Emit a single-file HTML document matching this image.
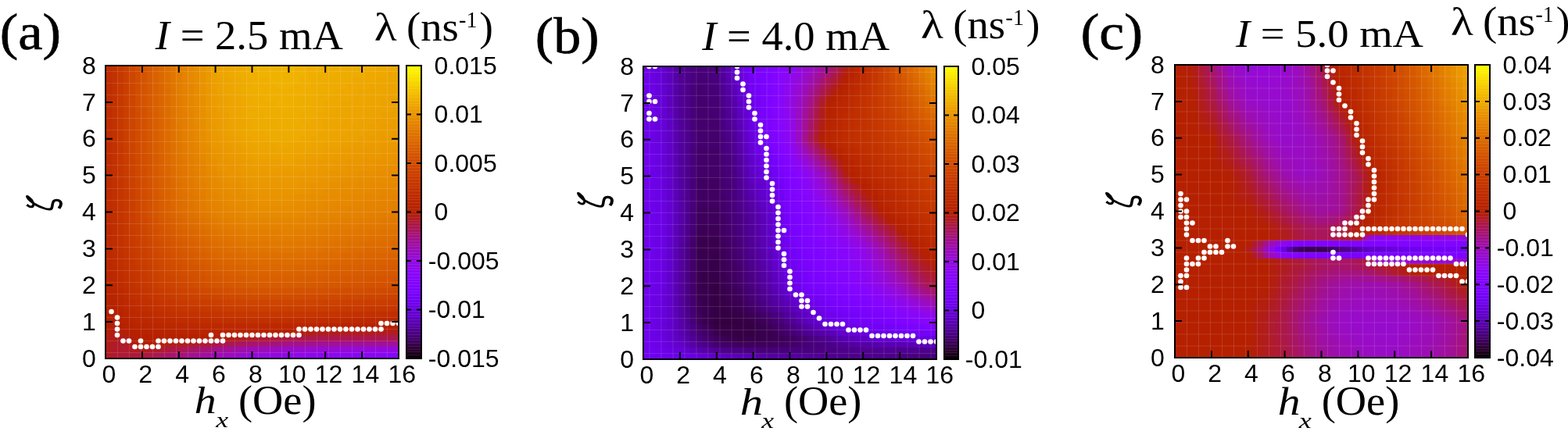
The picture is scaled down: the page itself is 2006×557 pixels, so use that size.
<!DOCTYPE html><html><head><meta charset="utf-8"><style>html,body{margin:0;padding:0;background:#fff;width:2006px;height:557px;overflow:hidden;position:relative}
.hm{position:absolute;display:grid;grid-template-columns:repeat(50,1fr);grid-template-rows:repeat(50,1fr)}
.hm i{display:block}
.cb{position:absolute}
svg{position:absolute;left:0;top:0}
.q10{background:#32003e}
.q11{background:#350044}
.q12{background:#37004a}
.q13{background:#3a0050}
.q14{background:#3c0056}
.q15{background:#3e005c}
.q16{background:#400062}
.q17{background:#420068}
.q18{background:#44006d}
.q19{background:#460073}
.q20{background:#470079}
.q21{background:#49007e}
.q22{background:#4b0084}
.q23{background:#4d0089}
.q24{background:#4e008e}
.q25{background:#500093}
.q26{background:#510098}
.q27{background:#53009d}
.q28{background:#5400a2}
.q29{background:#5600a7}
.q30{background:#5700ac}
.q31{background:#5900b0}
.q32{background:#5a01b5}
.q33{background:#5c01b9}
.q34{background:#5d01be}
.q35{background:#5e01c2}
.q36{background:#6001c6}
.q37{background:#6101ca}
.q38{background:#6201cd}
.q39{background:#6401d1}
.q40{background:#6501d5}
.q41{background:#6601d8}
.q42{background:#6701db}
.q43{background:#6901de}
.q44{background:#6a01e1}
.q45{background:#6b01e4}
.q46{background:#6c01e7}
.q47{background:#6d02ea}
.q48{background:#6f02ec}
.q49{background:#7002ee}
.q50{background:#7102f1}
.q51{background:#7202f3}
.q52{background:#7302f4}
.q53{background:#7402f6}
.q54{background:#7502f8}
.q55{background:#7603f9}
.q56{background:#7703fa}
.q57{background:#7903fb}
.q58{background:#7a03fc}
.q59{background:#7b03fd}
.q60{background:#7c03fe}
.q61{background:#7d03fe}
.q62{background:#7e04ff}
.q63{background:#7f04ff}
.q64{background:#8004ff}
.q65{background:#8104ff}
.q66{background:#8204ff}
.q67{background:#8305fe}
.q68{background:#8405fe}
.q69{background:#8505fd}
.q70{background:#8605fc}
.q71{background:#8706fb}
.q72{background:#8706fa}
.q73{background:#8806f8}
.q74{background:#8906f7}
.q75{background:#8a06f5}
.q76{background:#8b07f3}
.q77{background:#8c07f2}
.q78{background:#8d07ef}
.q79{background:#8e08ed}
.q80{background:#8f08eb}
.q81{background:#9008e8}
.q82{background:#9108e6}
.q83{background:#9109e3}
.q84{background:#9209e0}
.q85{background:#9309dd}
.q86{background:#940ada}
.q87{background:#950ad6}
.q88{background:#960ad3}
.q89{background:#970bcf}
.q90{background:#970bcb}
.q91{background:#980cc8}
.q92{background:#990cc4}
.q93{background:#9a0cc0}
.q94{background:#9b0dbb}
.q95{background:#9c0db7}
.q96{background:#9c0eb3}
.q97{background:#9d0eae}
.q98{background:#9e0ea9}
.q99{background:#9f0fa5}
.q100{background:#a00fa0}
.q101{background:#a0109b}
.q102{background:#a11096}
.q103{background:#a21191}
.q104{background:#a3118c}
.q105{background:#a41286}
.q106{background:#a41281}
.q107{background:#a5137b}
.q108{background:#a61376}
.q109{background:#a71470}
.q110{background:#a7146b}
.q111{background:#a81565}
.q112{background:#a9165f}
.q113{background:#aa1659}
.q114{background:#aa1753}
.q115{background:#ab174d}
.q116{background:#ac1847}
.q117{background:#ad1941}
.q118{background:#ad193b}
.q119{background:#ae1a35}
.q120{background:#af1b2f}
.q121{background:#b01b29}
.q122{background:#b01c22}
.q123{background:#b11d1c}
.q124{background:#b21d16}
.q125{background:#b31e10}
.q126{background:#b31f09}
.q127{background:#b42003}
.q128{background:#b52000}
.q129{background:#b52100}
.q130{background:#b62200}
.q131{background:#b72300}
.q132{background:#b72300}
.q133{background:#b82400}
.q134{background:#b92500}
.q135{background:#ba2600}
.q136{background:#ba2700}
.q137{background:#bb2800}
.q138{background:#bc2800}
.q139{background:#bc2900}
.q140{background:#bd2a00}
.q141{background:#be2b00}
.q142{background:#be2c00}
.q143{background:#bf2d00}
.q144{background:#c02e00}
.q145{background:#c02f00}
.q146{background:#c13000}
.q147{background:#c23100}
.q148{background:#c23200}
.q149{background:#c33300}
.q150{background:#c43400}
.q151{background:#c43500}
.q152{background:#c53600}
.q153{background:#c63700}
.q154{background:#c63800}
.q155{background:#c73900}
.q156{background:#c73a00}
.q157{background:#c83c00}
.q158{background:#c93d00}
.q159{background:#c93e00}
.q160{background:#ca3f00}
.q161{background:#cb4000}
.q162{background:#cb4100}
.q163{background:#cc4300}
.q164{background:#cc4400}
.q165{background:#cd4500}
.q166{background:#ce4600}
.q167{background:#ce4800}
.q168{background:#cf4900}
.q169{background:#d04a00}
.q170{background:#d04c00}
.q171{background:#d14d00}
.q172{background:#d14e00}
.q173{background:#d25000}
.q174{background:#d35100}
.q175{background:#d35200}
.q176{background:#d45400}
.q177{background:#d45500}
.q178{background:#d55700}
.q179{background:#d65800}
.q180{background:#d65a00}
.q181{background:#d75b00}
.q182{background:#d75d00}
.q183{background:#d85e00}
.q184{background:#d96000}
.q185{background:#d96100}
.q186{background:#da6300}
.q187{background:#da6500}
.q188{background:#db6600}
.q189{background:#dc6800}
.q190{background:#dc6900}
.q191{background:#dd6b00}
.q192{background:#dd6d00}
.q193{background:#de6f00}
.q194{background:#de7000}
.q195{background:#df7200}
.q196{background:#e07400}
.q197{background:#e07600}
.q198{background:#e17700}
.q199{background:#e17900}
.q200{background:#e27b00}
.q201{background:#e27d00}
.q202{background:#e37f00}
.q203{background:#e48100}
.q204{background:#e48300}
.q205{background:#e58400}
.q206{background:#e58600}
.q207{background:#e68800}
.q208{background:#e68a00}
.q209{background:#e78c00}
.q210{background:#e78e00}
.q211{background:#e89000}
.q212{background:#e99300}
.q213{background:#e99500}
.q214{background:#ea9700}
.q215{background:#ea9900}
.q216{background:#eb9b00}
.q217{background:#eb9d00}
.q218{background:#ec9f00}
.q219{background:#eca200}
.q220{background:#eda400}
.q221{background:#eda600}
.q222{background:#eea800}
.q223{background:#eeab00}
.q224{background:#efad00}
.q225{background:#f0af00}
.q226{background:#f0b200}
.q227{background:#f1b400}</style></head><body><div class=hm style="left:135.00px;top:84.00px;width:375.00px;height:375.00px"><i class=q143></i><i class=q148></i><i class=q154></i><i class=q160></i><i class=q166></i><i class=q172></i><i class=q177></i><i class=q181></i><i class=q185></i><i class=q189></i><i class=q193></i><i class=q197></i><i class=q201></i><i class=q204></i><i class=q207></i><i class=q210></i><i class=q213></i><i class=q216></i><i class=q218></i><i class=q220></i><i class=q221></i><i class=q222></i><i class=q223></i><i class=q224></i><i class=q225></i><i class=q226></i><i class=q226></i><i class=q226></i><i class=q226></i><i class=q226></i><i class=q227></i><i class=q227></i><i class=q226></i><i class=q226></i><i class=q225></i><i class=q225></i><i class=q225></i><i class=q224></i><i class=q224></i><i class=q224></i><i class=q224></i><i class=q223></i><i class=q223></i><i class=q223></i><i class=q223></i><i class=q223></i><i class=q222></i><i class=q222></i><i class=q222></i><i class=q222></i><i class=q143></i><i class=q148></i><i class=q154></i><i class=q160></i><i class=q166></i><i class=q171></i><i class=q177></i><i class=q181></i><i class=q185></i><i class=q189></i><i class=q193></i><i class=q197></i><i class=q201></i><i class=q204></i><i class=q207></i><i class=q210></i><i class=q212></i><i class=q215></i><i class=q218></i><i class=q220></i><i class=q221></i><i class=q222></i><i class=q223></i><i class=q224></i><i class=q225></i><i class=q225></i><i class=q226></i><i class=q226></i><i class=q226></i><i class=q226></i><i class=q226></i><i class=q226></i><i class=q226></i><i class=q226></i><i class=q225></i><i class=q225></i><i class=q224></i><i class=q224></i><i class=q224></i><i class=q223></i><i class=q223></i><i class=q223></i><i class=q223></i><i class=q223></i><i class=q222></i><i class=q222></i><i class=q222></i><i class=q222></i><i class=q221></i><i class=q221></i><i class=q143></i><i class=q148></i><i class=q154></i><i class=q160></i><i class=q166></i><i class=q171></i><i class=q176></i><i class=q181></i><i class=q185></i><i class=q189></i><i class=q193></i><i class=q197></i><i class=q201></i><i class=q204></i><i class=q207></i><i class=q209></i><i class=q212></i><i class=q215></i><i class=q218></i><i class=q219></i><i class=q220></i><i class=q221></i><i class=q222></i><i class=q223></i><i class=q224></i><i class=q225></i><i class=q225></i><i class=q225></i><i class=q226></i><i class=q226></i><i class=q226></i><i class=q226></i><i class=q226></i><i class=q225></i><i class=q225></i><i class=q224></i><i class=q224></i><i class=q224></i><i class=q223></i><i class=q223></i><i class=q223></i><i class=q223></i><i class=q222></i><i class=q222></i><i class=q222></i><i class=q222></i><i class=q221></i><i class=q221></i><i class=q221></i><i class=q221></i><i class=q143></i><i class=q148></i><i class=q154></i><i class=q160></i><i class=q166></i><i class=q171></i><i class=q176></i><i class=q180></i><i class=q184></i><i class=q188></i><i class=q193></i><i class=q197></i><i class=q201></i><i class=q204></i><i class=q206></i><i class=q209></i><i class=q212></i><i class=q215></i><i class=q218></i><i class=q219></i><i class=q220></i><i class=q221></i><i class=q222></i><i class=q223></i><i class=q224></i><i class=q225></i><i class=q225></i><i class=q225></i><i class=q225></i><i class=q226></i><i class=q226></i><i class=q226></i><i class=q225></i><i class=q225></i><i class=q225></i><i class=q224></i><i class=q224></i><i class=q223></i><i class=q223></i><i class=q223></i><i class=q223></i><i class=q222></i><i class=q222></i><i class=q222></i><i class=q222></i><i class=q221></i><i class=q221></i><i class=q221></i><i class=q220></i><i class=q220></i><i class=q143></i><i class=q148></i><i class=q154></i><i class=q160></i><i class=q166></i><i class=q171></i><i class=q176></i><i class=q180></i><i class=q184></i><i class=q188></i><i class=q192></i><i class=q196></i><i class=q201></i><i class=q203></i><i class=q206></i><i class=q209></i><i class=q212></i><i class=q214></i><i class=q217></i><i class=q219></i><i class=q220></i><i class=q221></i><i class=q222></i><i class=q223></i><i class=q224></i><i class=q224></i><i class=q225></i><i class=q225></i><i class=q225></i><i class=q225></i><i class=q225></i><i class=q225></i><i class=q225></i><i class=q225></i><i class=q224></i><i class=q224></i><i class=q223></i><i class=q223></i><i class=q223></i><i class=q222></i><i class=q222></i><i class=q222></i><i class=q222></i><i class=q221></i><i class=q221></i><i class=q221></i><i class=q221></i><i class=q220></i><i class=q220></i><i class=q220></i><i class=q143></i><i class=q148></i><i class=q154></i><i class=q160></i><i class=q165></i><i class=q171></i><i class=q176></i><i class=q180></i><i class=q184></i><i class=q188></i><i class=q192></i><i class=q196></i><i class=q200></i><i class=q203></i><i class=q206></i><i class=q209></i><i class=q211></i><i class=q214></i><i class=q217></i><i class=q218></i><i class=q219></i><i class=q220></i><i class=q221></i><i class=q222></i><i class=q223></i><i class=q224></i><i class=q224></i><i class=q225></i><i class=q225></i><i class=q225></i><i class=q225></i><i class=q225></i><i class=q225></i><i class=q224></i><i class=q224></i><i class=q224></i><i class=q223></i><i class=q223></i><i class=q222></i><i class=q222></i><i class=q222></i><i class=q222></i><i class=q221></i><i class=q221></i><i class=q221></i><i class=q220></i><i class=q220></i><i class=q220></i><i class=q219></i><i class=q219></i><i class=q143></i><i class=q148></i><i class=q154></i><i class=q160></i><i class=q165></i><i class=q171></i><i class=q176></i><i class=q180></i><i class=q184></i><i class=q188></i><i class=q192></i><i class=q196></i><i class=q200></i><i class=q203></i><i class=q206></i><i class=q208></i><i class=q211></i><i class=q214></i><i class=q217></i><i class=q218></i><i class=q219></i><i class=q220></i><i class=q221></i><i class=q222></i><i class=q223></i><i class=q224></i><i class=q224></i><i class=q224></i><i class=q224></i><i class=q225></i><i class=q225></i><i class=q225></i><i class=q224></i><i class=q224></i><i class=q224></i><i class=q223></i><i class=q223></i><i class=q222></i><i class=q222></i><i class=q222></i><i class=q221></i><i class=q221></i><i class=q221></i><i class=q221></i><i class=q220></i><i class=q220></i><i class=q220></i><i class=q219></i><i class=q219></i><i class=q219></i><i class=q143></i><i class=q148></i><i class=q154></i><i class=q160></i><i class=q165></i><i class=q171></i><i class=q175></i><i class=q180></i><i class=q184></i><i class=q188></i><i class=q192></i><i class=q196></i><i class=q200></i><i class=q203></i><i class=q205></i><i class=q208></i><i class=q211></i><i class=q214></i><i class=q216></i><i class=q218></i><i class=q219></i><i class=q220></i><i class=q221></i><i class=q222></i><i class=q223></i><i class=q223></i><i class=q224></i><i class=q224></i><i class=q224></i><i class=q224></i><i class=q225></i><i class=q225></i><i class=q224></i><i class=q224></i><i class=q223></i><i class=q223></i><i class=q223></i><i class=q222></i><i class=q222></i><i class=q221></i><i class=q221></i><i class=q221></i><i class=q220></i><i class=q220></i><i class=q220></i><i class=q219></i><i class=q219></i><i class=q219></i><i class=q219></i><i class=q218></i><i class=q143></i><i class=q148></i><i class=q154></i><i class=q160></i><i class=q165></i><i class=q170></i><i class=q175></i><i class=q179></i><i class=q183></i><i class=q187></i><i class=q192></i><i class=q196></i><i class=q200></i><i class=q202></i><i class=q205></i><i class=q208></i><i class=q211></i><i class=q213></i><i class=q216></i><i class=q217></i><i class=q218></i><i class=q220></i><i class=q221></i><i class=q222></i><i class=q223></i><i class=q223></i><i class=q223></i><i class=q224></i><i class=q224></i><i class=q224></i><i class=q224></i><i class=q224></i><i class=q224></i><i class=q223></i><i class=q223></i><i class=q223></i><i class=q222></i><i class=q222></i><i class=q221></i><i class=q221></i><i class=q221></i><i class=q220></i><i class=q220></i><i class=q220></i><i class=q219></i><i class=q219></i><i class=q219></i><i class=q218></i><i class=q218></i><i class=q218></i><i class=q143></i><i class=q148></i><i class=q154></i><i class=q160></i><i class=q165></i><i class=q170></i><i class=q175></i><i class=q179></i><i class=q183></i><i class=q187></i><i class=q191></i><i class=q195></i><i class=q200></i><i class=q202></i><i class=q205></i><i class=q208></i><i class=q210></i><i class=q213></i><i class=q216></i><i class=q217></i><i class=q218></i><i class=q219></i><i class=q220></i><i class=q221></i><i class=q222></i><i class=q223></i><i class=q223></i><i class=q223></i><i class=q223></i><i class=q224></i><i class=q224></i><i class=q224></i><i class=q224></i><i class=q223></i><i class=q223></i><i class=q222></i><i class=q222></i><i class=q221></i><i class=q221></i><i class=q221></i><i class=q220></i><i class=q220></i><i class=q220></i><i class=q219></i><i class=q219></i><i class=q219></i><i class=q218></i><i class=q218></i><i class=q218></i><i class=q217></i><i class=q143></i><i class=q148></i><i class=q154></i><i class=q160></i><i class=q165></i><i class=q170></i><i class=q175></i><i class=q179></i><i class=q183></i><i class=q187></i><i class=q191></i><i class=q195></i><i class=q199></i><i class=q202></i><i class=q205></i><i class=q207></i><i class=q210></i><i class=q213></i><i class=q215></i><i class=q217></i><i class=q218></i><i class=q219></i><i class=q220></i><i class=q221></i><i class=q222></i><i class=q223></i><i class=q223></i><i class=q223></i><i class=q223></i><i class=q223></i><i class=q224></i><i class=q224></i><i class=q223></i><i class=q223></i><i class=q222></i><i class=q222></i><i class=q222></i><i class=q221></i><i class=q221></i><i class=q220></i><i class=q220></i><i class=q220></i><i class=q219></i><i class=q219></i><i class=q219></i><i class=q218></i><i class=q218></i><i class=q217></i><i class=q217></i><i class=q217></i><i class=q143></i><i class=q148></i><i class=q154></i><i class=q160></i><i class=q165></i><i class=q170></i><i class=q175></i><i class=q179></i><i class=q183></i><i class=q187></i><i class=q191></i><i class=q195></i><i class=q199></i><i class=q202></i><i class=q204></i><i class=q207></i><i class=q210></i><i class=q212></i><i class=q215></i><i class=q217></i><i class=q218></i><i class=q219></i><i class=q220></i><i class=q221></i><i class=q222></i><i class=q222></i><i class=q222></i><i class=q223></i><i class=q223></i><i class=q223></i><i class=q223></i><i class=q223></i><i class=q223></i><i class=q223></i><i class=q222></i><i class=q222></i><i class=q221></i><i class=q221></i><i class=q220></i><i class=q220></i><i class=q220></i><i class=q219></i><i class=q219></i><i class=q219></i><i class=q218></i><i class=q218></i><i class=q217></i><i class=q217></i><i class=q217></i><i class=q216></i><i class=q143></i><i class=q148></i><i class=q154></i><i class=q160></i><i class=q165></i><i class=q170></i><i class=q174></i><i class=q178></i><i class=q183></i><i class=q187></i><i class=q191></i><i class=q195></i><i class=q199></i><i class=q202></i><i class=q204></i><i class=q207></i><i class=q210></i><i class=q212></i><i class=q215></i><i class=q216></i><i class=q217></i><i class=q218></i><i class=q219></i><i class=q220></i><i class=q221></i><i class=q222></i><i class=q222></i><i class=q222></i><i class=q223></i><i class=q223></i><i class=q223></i><i class=q223></i><i class=q223></i><i class=q222></i><i class=q222></i><i class=q221></i><i class=q221></i><i class=q221></i><i class=q220></i><i class=q220></i><i class=q219></i><i class=q219></i><i class=q219></i><i class=q218></i><i class=q218></i><i class=q217></i><i class=q217></i><i class=q216></i><i class=q216></i><i class=q216></i><i class=q143></i><i class=q147></i><i class=q154></i><i class=q160></i><i class=q164></i><i class=q169></i><i class=q174></i><i class=q178></i><i class=q182></i><i class=q186></i><i class=q190></i><i class=q194></i><i class=q198></i><i class=q201></i><i class=q203></i><i class=q206></i><i class=q209></i><i class=q211></i><i class=q214></i><i class=q215></i><i class=q216></i><i class=q217></i><i class=q218></i><i class=q219></i><i class=q220></i><i class=q221></i><i class=q221></i><i class=q221></i><i class=q221></i><i class=q222></i><i class=q222></i><i class=q222></i><i class=q221></i><i class=q221></i><i class=q221></i><i class=q220></i><i class=q220></i><i class=q219></i><i class=q219></i><i class=q219></i><i class=q218></i><i class=q218></i><i class=q217></i><i class=q217></i><i class=q217></i><i class=q216></i><i class=q216></i><i class=q215></i><i class=q215></i><i class=q215></i><i class=q143></i><i class=q147></i><i class=q153></i><i class=q159></i><i class=q164></i><i class=q169></i><i class=q174></i><i class=q178></i><i class=q182></i><i class=q186></i><i class=q190></i><i class=q194></i><i class=q198></i><i class=q200></i><i class=q203></i><i class=q205></i><i class=q208></i><i class=q210></i><i class=q213></i><i class=q214></i><i class=q215></i><i class=q216></i><i class=q217></i><i class=q218></i><i class=q219></i><i class=q220></i><i class=q220></i><i class=q220></i><i class=q220></i><i class=q221></i><i class=q221></i><i class=q221></i><i class=q220></i><i class=q220></i><i class=q220></i><i class=q219></i><i class=q219></i><i class=q218></i><i class=q218></i><i class=q218></i><i class=q217></i><i class=q217></i><i class=q216></i><i class=q216></i><i class=q215></i><i class=q215></i><i class=q215></i><i class=q214></i><i class=q214></i><i class=q213></i><i class=q143></i><i class=q147></i><i class=q153></i><i class=q159></i><i class=q164></i><i class=q169></i><i class=q173></i><i class=q177></i><i class=q181></i><i class=q185></i><i class=q189></i><i class=q193></i><i class=q197></i><i class=q200></i><i class=q202></i><i class=q205></i><i class=q207></i><i class=q210></i><i class=q212></i><i class=q213></i><i class=q214></i><i class=q215></i><i class=q216></i><i class=q217></i><i class=q218></i><i class=q219></i><i class=q219></i><i class=q219></i><i class=q219></i><i class=q219></i><i class=q220></i><i class=q220></i><i class=q219></i><i class=q219></i><i class=q218></i><i class=q218></i><i class=q218></i><i class=q217></i><i class=q217></i><i class=q216></i><i class=q216></i><i class=q216></i><i class=q215></i><i class=q215></i><i class=q214></i><i class=q214></i><i class=q214></i><i class=q213></i><i class=q213></i><i class=q212></i><i class=q142></i><i class=q147></i><i class=q153></i><i class=q158></i><i class=q163></i><i class=q168></i><i class=q173></i><i class=q177></i><i class=q181></i><i class=q185></i><i class=q189></i><i class=q193></i><i class=q196></i><i class=q199></i><i class=q201></i><i class=q204></i><i class=q206></i><i class=q209></i><i class=q211></i><i class=q213></i><i class=q213></i><i class=q214></i><i class=q215></i><i class=q216></i><i class=q217></i><i class=q218></i><i class=q218></i><i class=q218></i><i class=q218></i><i class=q218></i><i class=q219></i><i class=q219></i><i class=q218></i><i class=q218></i><i class=q217></i><i class=q217></i><i class=q216></i><i class=q216></i><i class=q216></i><i class=q215></i><i class=q215></i><i class=q214></i><i class=q214></i><i class=q214></i><i class=q213></i><i class=q213></i><i class=q212></i><i class=q212></i><i class=q212></i><i class=q211></i><i class=q142></i><i class=q147></i><i class=q152></i><i class=q158></i><i class=q163></i><i class=q168></i><i class=q172></i><i class=q176></i><i class=q181></i><i class=q185></i><i class=q188></i><i class=q192></i><i class=q196></i><i class=q198></i><i class=q201></i><i class=q203></i><i class=q205></i><i class=q208></i><i class=q210></i><i class=q212></i><i class=q213></i><i class=q213></i><i class=q214></i><i class=q215></i><i class=q216></i><i class=q217></i><i class=q217></i><i class=q217></i><i class=q217></i><i class=q217></i><i class=q217></i><i class=q217></i><i class=q217></i><i class=q217></i><i class=q216></i><i class=q216></i><i class=q215></i><i class=q215></i><i class=q215></i><i class=q214></i><i class=q214></i><i class=q213></i><i class=q213></i><i class=q213></i><i class=q212></i><i class=q212></i><i class=q211></i><i class=q211></i><i class=q210></i><i class=q210></i><i class=q142></i><i class=q146></i><i class=q152></i><i class=q157></i><i class=q162></i><i class=q167></i><i class=q172></i><i class=q176></i><i class=q180></i><i class=q184></i><i class=q188></i><i class=q192></i><i class=q195></i><i class=q198></i><i class=q200></i><i class=q202></i><i class=q205></i><i class=q207></i><i class=q209></i><i class=q211></i><i class=q212></i><i class=q213></i><i class=q213></i><i class=q214></i><i class=q215></i><i class=q216></i><i class=q216></i><i class=q216></i><i class=q216></i><i class=q216></i><i class=q216></i><i class=q216></i><i class=q216></i><i class=q215></i><i class=q215></i><i class=q215></i><i class=q214></i><i class=q214></i><i class=q213></i><i class=q213></i><i class=q213></i><i class=q212></i><i class=q212></i><i class=q211></i><i class=q211></i><i class=q211></i><i class=q210></i><i class=q210></i><i class=q209></i><i class=q209></i><i class=q142></i><i class=q146></i><i class=q152></i><i class=q157></i><i class=q162></i><i class=q167></i><i class=q172></i><i class=q176></i><i class=q180></i><i class=q184></i><i class=q187></i><i class=q191></i><i class=q195></i><i class=q197></i><i class=q199></i><i class=q202></i><i class=q204></i><i class=q206></i><i class=q208></i><i class=q210></i><i class=q211></i><i class=q212></i><i class=q212></i><i class=q213></i><i class=q214></i><i class=q215></i><i class=q215></i><i class=q215></i><i class=q215></i><i class=q215></i><i class=q215></i><i class=q215></i><i class=q215></i><i class=q214></i><i class=q214></i><i class=q214></i><i class=q213></i><i class=q213></i><i class=q212></i><i class=q212></i><i class=q211></i><i class=q211></i><i class=q211></i><i class=q210></i><i class=q210></i><i class=q209></i><i class=q209></i><i class=q209></i><i class=q208></i><i class=q208></i><i class=q142></i><i class=q146></i><i class=q151></i><i class=q157></i><i class=q162></i><i class=q166></i><i class=q171></i><i class=q175></i><i class=q179></i><i class=q183></i><i class=q187></i><i class=q190></i><i class=q194></i><i class=q196></i><i class=q199></i><i class=q201></i><i class=q203></i><i class=q205></i><i class=q208></i><i class=q209></i><i class=q210></i><i class=q211></i><i class=q211></i><i class=q212></i><i class=q213></i><i class=q214></i><i class=q214></i><i class=q214></i><i class=q214></i><i class=q214></i><i class=q214></i><i class=q214></i><i class=q214></i><i class=q213></i><i class=q213></i><i class=q212></i><i class=q212></i><i class=q212></i><i class=q211></i><i class=q211></i><i class=q210></i><i class=q210></i><i class=q210></i><i class=q209></i><i class=q209></i><i class=q208></i><i class=q208></i><i class=q208></i><i class=q207></i><i class=q207></i><i class=q142></i><i class=q146></i><i class=q151></i><i class=q156></i><i class=q161></i><i class=q166></i><i class=q171></i><i class=q175></i><i class=q179></i><i class=q183></i><i class=q186></i><i class=q190></i><i class=q193></i><i class=q196></i><i class=q198></i><i class=q200></i><i class=q202></i><i class=q204></i><i class=q207></i><i class=q208></i><i class=q209></i><i class=q210></i><i class=q210></i><i class=q211></i><i class=q212></i><i class=q213></i><i class=q213></i><i class=q213></i><i class=q213></i><i class=q213></i><i class=q213></i><i class=q213></i><i class=q213></i><i class=q212></i><i class=q212></i><i class=q211></i><i class=q211></i><i class=q210></i><i class=q210></i><i class=q210></i><i class=q209></i><i class=q209></i><i class=q208></i><i class=q208></i><i class=q208></i><i class=q207></i><i class=q207></i><i class=q206></i><i class=q206></i><i class=q206></i><i class=q142></i><i class=q146></i><i class=q151></i><i class=q156></i><i class=q161></i><i class=q166></i><i class=q170></i><i class=q174></i><i class=q178></i><i class=q182></i><i class=q186></i><i class=q189></i><i class=q193></i><i class=q195></i><i class=q197></i><i class=q199></i><i class=q201></i><i class=q204></i><i class=q206></i><i class=q207></i><i class=q208></i><i class=q209></i><i class=q210></i><i class=q210></i><i class=q211></i><i class=q212></i><i class=q212></i><i class=q212></i><i class=q212></i><i class=q212></i><i class=q212></i><i class=q212></i><i class=q211></i><i class=q211></i><i class=q211></i><i class=q210></i><i class=q210></i><i class=q209></i><i class=q209></i><i class=q209></i><i class=q208></i><i class=q208></i><i class=q207></i><i class=q207></i><i class=q206></i><i class=q206></i><i class=q206></i><i class=q205></i><i class=q205></i><i class=q204></i><i class=q142></i><i class=q145></i><i class=q150></i><i class=q155></i><i class=q160></i><i class=q165></i><i class=q170></i><i class=q174></i><i class=q178></i><i class=q182></i><i class=q185></i><i class=q189></i><i class=q192></i><i class=q194></i><i class=q196></i><i class=q199></i><i class=q201></i><i class=q203></i><i class=q205></i><i class=q206></i><i class=q207></i><i class=q208></i><i class=q209></i><i class=q209></i><i class=q210></i><i class=q211></i><i class=q211></i><i class=q211></i><i class=q211></i><i class=q211></i><i class=q211></i><i class=q211></i><i class=q210></i><i class=q210></i><i class=q209></i><i class=q209></i><i class=q209></i><i class=q208></i><i class=q208></i><i class=q207></i><i class=q207></i><i class=q207></i><i class=q206></i><i class=q206></i><i class=q205></i><i class=q205></i><i class=q205></i><i class=q204></i><i class=q204></i><i class=q203></i><i class=q142></i><i class=q145></i><i class=q150></i><i class=q155></i><i class=q160></i><i class=q165></i><i class=q170></i><i class=q174></i><i class=q178></i><i class=q182></i><i class=q185></i><i class=q188></i><i class=q192></i><i class=q194></i><i class=q196></i><i class=q198></i><i class=q200></i><i class=q202></i><i class=q204></i><i class=q205></i><i class=q206></i><i class=q207></i><i class=q208></i><i class=q208></i><i class=q209></i><i class=q210></i><i class=q210></i><i class=q210></i><i class=q210></i><i class=q210></i><i class=q210></i><i class=q210></i><i class=q209></i><i class=q209></i><i class=q208></i><i class=q208></i><i class=q208></i><i class=q207></i><i class=q207></i><i class=q206></i><i class=q206></i><i class=q205></i><i class=q205></i><i class=q205></i><i class=q204></i><i class=q204></i><i class=q203></i><i class=q203></i><i class=q203></i><i class=q202></i><i class=q142></i><i class=q145></i><i class=q150></i><i class=q155></i><i class=q159></i><i class=q164></i><i class=q169></i><i class=q173></i><i class=q177></i><i class=q181></i><i class=q184></i><i class=q187></i><i class=q190></i><i class=q192></i><i class=q194></i><i class=q196></i><i class=q198></i><i class=q200></i><i class=q202></i><i class=q204></i><i class=q204></i><i class=q205></i><i class=q206></i><i class=q207></i><i class=q208></i><i class=q208></i><i class=q208></i><i class=q208></i><i class=q208></i><i class=q208></i><i class=q208></i><i class=q208></i><i class=q208></i><i class=q207></i><i class=q207></i><i class=q206></i><i class=q206></i><i class=q206></i><i class=q205></i><i class=q205></i><i class=q204></i><i class=q204></i><i class=q204></i><i class=q203></i><i class=q203></i><i class=q202></i><i class=q202></i><i class=q201></i><i class=q201></i><i class=q201></i><i class=q141></i><i class=q145></i><i class=q149></i><i class=q154></i><i class=q159></i><i class=q163></i><i class=q167></i><i class=q171></i><i class=q175></i><i class=q179></i><i class=q182></i><i class=q185></i><i class=q188></i><i class=q190></i><i class=q192></i><i class=q194></i><i class=q196></i><i class=q198></i><i class=q200></i><i class=q202></i><i class=q202></i><i class=q203></i><i class=q204></i><i class=q205></i><i class=q206></i><i class=q206></i><i class=q206></i><i class=q206></i><i class=q206></i><i class=q206></i><i class=q206></i><i class=q206></i><i class=q206></i><i class=q205></i><i class=q205></i><i class=q205></i><i class=q204></i><i class=q204></i><i class=q203></i><i class=q203></i><i class=q202></i><i class=q202></i><i class=q202></i><i class=q201></i><i class=q201></i><i class=q200></i><i class=q200></i><i class=q199></i><i class=q199></i><i class=q199></i><i class=q141></i><i class=q144></i><i class=q149></i><i class=q154></i><i class=q158></i><i class=q162></i><i class=q166></i><i class=q170></i><i class=q174></i><i class=q177></i><i class=q180></i><i class=q183></i><i class=q186></i><i class=q188></i><i class=q190></i><i class=q192></i><i class=q194></i><i class=q196></i><i class=q198></i><i class=q200></i><i class=q200></i><i class=q201></i><i class=q202></i><i class=q203></i><i class=q204></i><i class=q204></i><i class=q204></i><i class=q204></i><i class=q204></i><i class=q204></i><i class=q204></i><i class=q204></i><i class=q204></i><i class=q204></i><i class=q203></i><i class=q203></i><i class=q202></i><i class=q202></i><i class=q201></i><i class=q201></i><i class=q200></i><i class=q200></i><i class=q200></i><i class=q199></i><i class=q199></i><i class=q198></i><i class=q198></i><i class=q197></i><i class=q197></i><i class=q197></i><i class=q140></i><i class=q144></i><i class=q149></i><i class=q153></i><i class=q157></i><i class=q161></i><i class=q165></i><i class=q169></i><i class=q172></i><i class=q176></i><i class=q178></i><i class=q181></i><i class=q184></i><i class=q186></i><i class=q188></i><i class=q190></i><i class=q192></i><i class=q194></i><i class=q196></i><i class=q197></i><i class=q198></i><i class=q199></i><i class=q200></i><i class=q201></i><i class=q202></i><i class=q202></i><i class=q202></i><i class=q202></i><i class=q202></i><i class=q202></i><i class=q203></i><i class=q203></i><i class=q202></i><i class=q202></i><i class=q201></i><i class=q201></i><i class=q201></i><i class=q200></i><i class=q200></i><i class=q199></i><i class=q199></i><i class=q198></i><i class=q198></i><i class=q197></i><i class=q197></i><i class=q196></i><i class=q196></i><i class=q195></i><i class=q195></i><i class=q195></i><i class=q140></i><i class=q143></i><i class=q148></i><i class=q153></i><i class=q156></i><i class=q160></i><i class=q164></i><i class=q167></i><i class=q171></i><i class=q174></i><i class=q177></i><i class=q179></i><i class=q182></i><i class=q184></i><i class=q186></i><i class=q188></i><i class=q190></i><i class=q192></i><i class=q194></i><i class=q195></i><i class=q196></i><i class=q197></i><i class=q198></i><i class=q199></i><i class=q200></i><i class=q200></i><i class=q200></i><i class=q200></i><i class=q200></i><i class=q201></i><i class=q201></i><i class=q201></i><i class=q200></i><i class=q200></i><i class=q200></i><i class=q199></i><i class=q199></i><i class=q198></i><i class=q198></i><i class=q197></i><i class=q197></i><i class=q196></i><i class=q196></i><i class=q195></i><i class=q195></i><i class=q194></i><i class=q194></i><i class=q193></i><i class=q193></i><i class=q192></i><i class=q140></i><i class=q143></i><i class=q148></i><i class=q152></i><i class=q156></i><i class=q159></i><i class=q162></i><i class=q166></i><i class=q169></i><i class=q172></i><i class=q175></i><i class=q177></i><i class=q180></i><i class=q182></i><i class=q184></i><i class=q186></i><i class=q188></i><i class=q190></i><i class=q192></i><i class=q193></i><i class=q194></i><i class=q195></i><i class=q196></i><i class=q197></i><i class=q197></i><i class=q198></i><i class=q198></i><i class=q198></i><i class=q199></i><i class=q199></i><i class=q199></i><i class=q199></i><i class=q198></i><i class=q198></i><i class=q198></i><i class=q197></i><i class=q197></i><i class=q196></i><i class=q196></i><i class=q195></i><i class=q195></i><i class=q194></i><i class=q194></i><i class=q193></i><i class=q192></i><i class=q192></i><i class=q192></i><i class=q191></i><i class=q191></i><i class=q190></i><i class=q139></i><i class=q142></i><i class=q147></i><i class=q151></i><i class=q155></i><i class=q158></i><i class=q161></i><i class=q164></i><i class=q168></i><i class=q171></i><i class=q173></i><i class=q176></i><i class=q178></i><i class=q180></i><i class=q182></i><i class=q184></i><i class=q186></i><i class=q188></i><i class=q190></i><i class=q191></i><i class=q192></i><i class=q193></i><i class=q194></i><i class=q195></i><i class=q195></i><i class=q196></i><i class=q196></i><i class=q196></i><i class=q196></i><i class=q197></i><i class=q197></i><i class=q197></i><i class=q196></i><i class=q196></i><i class=q196></i><i class=q195></i><i class=q195></i><i class=q194></i><i class=q194></i><i class=q193></i><i class=q193></i><i class=q192></i><i class=q191></i><i class=q191></i><i class=q190></i><i class=q190></i><i class=q189></i><i class=q189></i><i class=q189></i><i class=q188></i><i class=q139></i><i class=q142></i><i class=q146></i><i class=q150></i><i class=q154></i><i class=q157></i><i class=q160></i><i class=q163></i><i class=q166></i><i class=q169></i><i class=q171></i><i class=q174></i><i class=q176></i><i class=q178></i><i class=q180></i><i class=q182></i><i class=q184></i><i class=q186></i><i class=q188></i><i class=q189></i><i class=q190></i><i class=q190></i><i class=q191></i><i class=q192></i><i class=q193></i><i class=q193></i><i class=q194></i><i class=q194></i><i class=q194></i><i class=q194></i><i class=q194></i><i class=q194></i><i class=q194></i><i class=q193></i><i class=q193></i><i class=q193></i><i class=q192></i><i class=q192></i><i class=q191></i><i class=q191></i><i class=q190></i><i class=q189></i><i class=q189></i><i class=q188></i><i class=q188></i><i class=q187></i><i class=q187></i><i class=q187></i><i class=q186></i><i class=q186></i><i class=q138></i><i class=q141></i><i class=q145></i><i class=q149></i><i class=q152></i><i class=q156></i><i class=q159></i><i class=q162></i><i class=q165></i><i class=q167></i><i class=q170></i><i class=q172></i><i class=q174></i><i class=q176></i><i class=q178></i><i class=q180></i><i class=q181></i><i class=q183></i><i class=q185></i><i class=q186></i><i class=q187></i><i class=q188></i><i class=q189></i><i class=q190></i><i class=q190></i><i class=q191></i><i class=q191></i><i class=q191></i><i class=q191></i><i class=q191></i><i class=q192></i><i class=q192></i><i class=q191></i><i class=q191></i><i class=q190></i><i class=q190></i><i class=q190></i><i class=q189></i><i class=q189></i><i class=q188></i><i class=q187></i><i class=q187></i><i class=q186></i><i class=q186></i><i class=q185></i><i class=q185></i><i class=q184></i><i class=q184></i><i class=q183></i><i class=q183></i><i class=q138></i><i class=q140></i><i class=q144></i><i class=q148></i><i class=q151></i><i class=q154></i><i class=q157></i><i class=q160></i><i class=q163></i><i class=q166></i><i class=q168></i><i class=q170></i><i class=q172></i><i class=q174></i><i class=q176></i><i class=q177></i><i class=q179></i><i class=q181></i><i class=q183></i><i class=q184></i><i class=q185></i><i class=q186></i><i class=q186></i><i class=q187></i><i class=q188></i><i class=q188></i><i class=q189></i><i class=q189></i><i class=q189></i><i class=q189></i><i class=q189></i><i class=q189></i><i class=q188></i><i class=q188></i><i class=q188></i><i class=q187></i><i class=q187></i><i class=q186></i><i class=q186></i><i class=q185></i><i class=q185></i><i class=q184></i><i class=q184></i><i class=q183></i><i class=q183></i><i class=q182></i><i class=q182></i><i class=q181></i><i class=q181></i><i class=q180></i><i class=q137></i><i class=q139></i><i class=q143></i><i class=q147></i><i class=q150></i><i class=q153></i><i class=q156></i><i class=q159></i><i class=q162></i><i class=q164></i><i class=q166></i><i class=q168></i><i class=q170></i><i class=q172></i><i class=q173></i><i class=q175></i><i class=q177></i><i class=q179></i><i class=q180></i><i class=q181></i><i class=q182></i><i class=q183></i><i class=q184></i><i class=q185></i><i class=q186></i><i class=q186></i><i class=q186></i><i class=q186></i><i class=q186></i><i class=q186></i><i class=q186></i><i class=q186></i><i class=q186></i><i class=q185></i><i class=q185></i><i class=q185></i><i class=q184></i><i class=q184></i><i class=q183></i><i class=q183></i><i class=q182></i><i class=q182></i><i class=q181></i><i class=q181></i><i class=q180></i><i class=q180></i><i class=q179></i><i class=q179></i><i class=q178></i><i class=q178></i><i class=q137></i><i class=q138></i><i class=q142></i><i class=q146></i><i class=q149></i><i class=q152></i><i class=q155></i><i class=q157></i><i class=q160></i><i class=q163></i><i class=q164></i><i class=q166></i><i class=q168></i><i class=q169></i><i class=q171></i><i class=q173></i><i class=q175></i><i class=q176></i><i class=q178></i><i class=q179></i><i class=q180></i><i class=q181></i><i class=q181></i><i class=q182></i><i class=q183></i><i class=q184></i><i class=q184></i><i class=q184></i><i class=q184></i><i class=q184></i><i class=q184></i><i class=q184></i><i class=q183></i><i class=q183></i><i class=q182></i><i class=q182></i><i class=q182></i><i class=q181></i><i class=q181></i><i class=q180></i><i class=q180></i><i class=q179></i><i class=q179></i><i class=q179></i><i class=q178></i><i class=q177></i><i class=q177></i><i class=q176></i><i class=q176></i><i class=q175></i><i class=q136></i><i class=q138></i><i class=q142></i><i class=q145></i><i class=q148></i><i class=q151></i><i class=q154></i><i class=q156></i><i class=q159></i><i class=q161></i><i class=q162></i><i class=q164></i><i class=q166></i><i class=q167></i><i class=q169></i><i class=q171></i><i class=q172></i><i class=q174></i><i class=q176></i><i class=q177></i><i class=q177></i><i class=q178></i><i class=q179></i><i class=q180></i><i class=q181></i><i class=q181></i><i class=q181></i><i class=q181></i><i class=q181></i><i class=q181></i><i class=q181></i><i class=q181></i><i class=q181></i><i class=q180></i><i class=q180></i><i class=q179></i><i class=q179></i><i class=q178></i><i class=q178></i><i class=q178></i><i class=q177></i><i class=q177></i><i class=q176></i><i class=q176></i><i class=q175></i><i class=q175></i><i class=q174></i><i class=q174></i><i class=q173></i><i class=q172></i><i class=q134></i><i class=q135></i><i class=q139></i><i class=q143></i><i class=q146></i><i class=q148></i><i class=q151></i><i class=q153></i><i class=q155></i><i class=q157></i><i class=q159></i><i class=q161></i><i class=q162></i><i class=q163></i><i class=q165></i><i class=q166></i><i class=q168></i><i class=q169></i><i class=q170></i><i class=q171></i><i class=q172></i><i class=q173></i><i class=q174></i><i class=q175></i><i class=q175></i><i class=q176></i><i class=q176></i><i class=q176></i><i class=q176></i><i class=q176></i><i class=q176></i><i class=q176></i><i class=q175></i><i class=q175></i><i class=q174></i><i class=q174></i><i class=q174></i><i class=q173></i><i class=q173></i><i class=q172></i><i class=q172></i><i class=q171></i><i class=q171></i><i class=q171></i><i class=q170></i><i class=q169></i><i class=q169></i><i class=q168></i><i class=q168></i><i class=q167></i><i class=q133></i><i class=q133></i><i class=q137></i><i class=q141></i><i class=q144></i><i class=q146></i><i class=q148></i><i class=q150></i><i class=q152></i><i class=q154></i><i class=q155></i><i class=q157></i><i class=q158></i><i class=q160></i><i class=q161></i><i class=q162></i><i class=q163></i><i class=q164></i><i class=q165></i><i class=q166></i><i class=q167></i><i class=q168></i><i class=q168></i><i class=q169></i><i class=q170></i><i class=q170></i><i class=q170></i><i class=q170></i><i class=q170></i><i class=q170></i><i class=q170></i><i class=q170></i><i class=q170></i><i class=q169></i><i class=q169></i><i class=q169></i><i class=q168></i><i class=q168></i><i class=q167></i><i class=q167></i><i class=q167></i><i class=q166></i><i class=q166></i><i class=q165></i><i class=q165></i><i class=q164></i><i class=q164></i><i class=q163></i><i class=q162></i><i class=q162></i><i class=q131></i><i class=q131></i><i class=q135></i><i class=q139></i><i class=q141></i><i class=q144></i><i class=q146></i><i class=q147></i><i class=q149></i><i class=q151></i><i class=q152></i><i class=q153></i><i class=q155></i><i class=q156></i><i class=q157></i><i class=q158></i><i class=q159></i><i class=q159></i><i class=q160></i><i class=q161></i><i class=q162></i><i class=q163></i><i class=q163></i><i class=q164></i><i class=q165></i><i class=q165></i><i class=q165></i><i class=q165></i><i class=q165></i><i class=q165></i><i class=q165></i><i class=q165></i><i class=q164></i><i class=q164></i><i class=q164></i><i class=q163></i><i class=q163></i><i class=q162></i><i class=q162></i><i class=q162></i><i class=q161></i><i class=q161></i><i class=q160></i><i class=q160></i><i class=q159></i><i class=q159></i><i class=q158></i><i class=q158></i><i class=q157></i><i class=q156></i><i class=q130></i><i class=q129></i><i class=q133></i><i class=q137></i><i class=q139></i><i class=q141></i><i class=q143></i><i class=q145></i><i class=q146></i><i class=q147></i><i class=q148></i><i class=q150></i><i class=q151></i><i class=q152></i><i class=q152></i><i class=q153></i><i class=q154></i><i class=q155></i><i class=q155></i><i class=q156></i><i class=q157></i><i class=q157></i><i class=q158></i><i class=q159></i><i class=q159></i><i class=q160></i><i class=q160></i><i class=q160></i><i class=q160></i><i class=q160></i><i class=q160></i><i class=q159></i><i class=q159></i><i class=q159></i><i class=q158></i><i class=q158></i><i class=q157></i><i class=q157></i><i class=q157></i><i class=q156></i><i class=q156></i><i class=q155></i><i class=q155></i><i class=q155></i><i class=q154></i><i class=q153></i><i class=q153></i><i class=q152></i><i class=q152></i><i class=q151></i><i class=q129></i><i class=q127></i><i class=q131></i><i class=q135></i><i class=q137></i><i class=q139></i><i class=q140></i><i class=q141></i><i class=q142></i><i class=q144></i><i class=q145></i><i class=q146></i><i class=q147></i><i class=q147></i><i class=q148></i><i class=q148></i><i class=q149></i><i class=q149></i><i class=q150></i><i class=q151></i><i class=q151></i><i class=q152></i><i class=q152></i><i class=q153></i><i class=q153></i><i class=q153></i><i class=q153></i><i class=q153></i><i class=q153></i><i class=q153></i><i class=q153></i><i class=q153></i><i class=q152></i><i class=q152></i><i class=q151></i><i class=q151></i><i class=q151></i><i class=q150></i><i class=q150></i><i class=q149></i><i class=q149></i><i class=q148></i><i class=q148></i><i class=q148></i><i class=q147></i><i class=q146></i><i class=q146></i><i class=q145></i><i class=q144></i><i class=q143></i><i class=q127></i><i class=q126></i><i class=q130></i><i class=q133></i><i class=q134></i><i class=q136></i><i class=q137></i><i class=q138></i><i class=q139></i><i class=q140></i><i class=q140></i><i class=q141></i><i class=q142></i><i class=q142></i><i class=q142></i><i class=q143></i><i class=q143></i><i class=q144></i><i class=q144></i><i class=q145></i><i class=q145></i><i class=q145></i><i class=q146></i><i class=q146></i><i class=q146></i><i class=q146></i><i class=q146></i><i class=q146></i><i class=q145></i><i class=q145></i><i class=q145></i><i class=q144></i><i class=q144></i><i class=q143></i><i class=q143></i><i class=q143></i><i class=q142></i><i class=q142></i><i class=q141></i><i class=q141></i><i class=q141></i><i class=q140></i><i class=q140></i><i class=q139></i><i class=q139></i><i class=q138></i><i class=q137></i><i class=q136></i><i class=q135></i><i class=q134></i><i class=q127></i><i class=q125></i><i class=q128></i><i class=q131></i><i class=q132></i><i class=q133></i><i class=q134></i><i class=q135></i><i class=q135></i><i class=q136></i><i class=q136></i><i class=q137></i><i class=q137></i><i class=q137></i><i class=q138></i><i class=q138></i><i class=q138></i><i class=q139></i><i class=q139></i><i class=q139></i><i class=q139></i><i class=q139></i><i class=q139></i><i class=q139></i><i class=q140></i><i class=q139></i><i class=q139></i><i class=q138></i><i class=q138></i><i class=q137></i><i class=q137></i><i class=q136></i><i class=q136></i><i class=q135></i><i class=q134></i><i class=q134></i><i class=q133></i><i class=q133></i><i class=q132></i><i class=q132></i><i class=q132></i><i class=q132></i><i class=q132></i><i class=q131></i><i class=q131></i><i class=q130></i><i class=q129></i><i class=q129></i><i class=q128></i><i class=q127></i><i class=q126></i><i class=q124></i><i class=q126></i><i class=q127></i><i class=q129></i><i class=q130></i><i class=q131></i><i class=q132></i><i class=q132></i><i class=q132></i><i class=q132></i><i class=q132></i><i class=q133></i><i class=q133></i><i class=q133></i><i class=q133></i><i class=q133></i><i class=q133></i><i class=q133></i><i class=q133></i><i class=q132></i><i class=q132></i><i class=q132></i><i class=q132></i><i class=q132></i><i class=q132></i><i class=q131></i><i class=q130></i><i class=q129></i><i class=q129></i><i class=q128></i><i class=q127></i><i class=q127></i><i class=q126></i><i class=q126></i><i class=q125></i><i class=q124></i><i class=q124></i><i class=q124></i><i class=q124></i><i class=q124></i><i class=q124></i><i class=q124></i><i class=q124></i><i class=q124></i><i class=q123></i><i class=q123></i><i class=q123></i><i class=q123></i><i class=q123></i><i class=q124></i><i class=q123></i><i class=q123></i><i class=q124></i><i class=q126></i><i class=q128></i><i class=q129></i><i class=q129></i><i class=q129></i><i class=q129></i><i class=q129></i><i class=q129></i><i class=q129></i><i class=q128></i><i class=q128></i><i class=q128></i><i class=q128></i><i class=q127></i><i class=q127></i><i class=q126></i><i class=q126></i><i class=q125></i><i class=q124></i><i class=q123></i><i class=q123></i><i class=q122></i><i class=q121></i><i class=q120></i><i class=q120></i><i class=q119></i><i class=q118></i><i class=q117></i><i class=q117></i><i class=q116></i><i class=q116></i><i class=q116></i><i class=q115></i><i class=q115></i><i class=q115></i><i class=q115></i><i class=q115></i><i class=q115></i><i class=q115></i><i class=q115></i><i class=q115></i><i class=q115></i><i class=q115></i><i class=q115></i><i class=q115></i><i class=q115></i><i class=q123></i><i class=q122></i><i class=q121></i><i class=q122></i><i class=q124></i><i class=q126></i><i class=q127></i><i class=q127></i><i class=q127></i><i class=q126></i><i class=q125></i><i class=q124></i><i class=q124></i><i class=q123></i><i class=q122></i><i class=q121></i><i class=q120></i><i class=q119></i><i class=q118></i><i class=q116></i><i class=q115></i><i class=q114></i><i class=q113></i><i class=q111></i><i class=q110></i><i class=q109></i><i class=q108></i><i class=q108></i><i class=q107></i><i class=q106></i><i class=q105></i><i class=q104></i><i class=q104></i><i class=q104></i><i class=q103></i><i class=q103></i><i class=q102></i><i class=q102></i><i class=q102></i><i class=q102></i><i class=q101></i><i class=q101></i><i class=q101></i><i class=q101></i><i class=q101></i><i class=q101></i><i class=q101></i><i class=q101></i><i class=q101></i><i class=q101></i><i class=q122></i><i class=q121></i><i class=q120></i><i class=q120></i><i class=q121></i><i class=q123></i><i class=q123></i><i class=q122></i><i class=q121></i><i class=q120></i><i class=q118></i><i class=q116></i><i class=q115></i><i class=q113></i><i class=q111></i><i class=q110></i><i class=q108></i><i class=q107></i><i class=q105></i><i class=q103></i><i class=q102></i><i class=q101></i><i class=q99></i><i class=q98></i><i class=q96></i><i class=q95></i><i class=q94></i><i class=q94></i><i class=q93></i><i class=q92></i><i class=q91></i><i class=q90></i><i class=q90></i><i class=q90></i><i class=q89></i><i class=q89></i><i class=q88></i><i class=q88></i><i class=q88></i><i class=q87></i><i class=q87></i><i class=q86></i><i class=q86></i><i class=q86></i><i class=q85></i><i class=q85></i><i class=q85></i><i class=q85></i><i class=q84></i><i class=q84></i><i class=q122></i><i class=q120></i><i class=q119></i><i class=q118></i><i class=q118></i><i class=q117></i><i class=q117></i><i class=q115></i><i class=q114></i><i class=q112></i><i class=q110></i><i class=q109></i><i class=q107></i><i class=q105></i><i class=q103></i><i class=q102></i><i class=q100></i><i class=q98></i><i class=q96></i><i class=q94></i><i class=q93></i><i class=q91></i><i class=q90></i><i class=q88></i><i class=q86></i><i class=q85></i><i class=q84></i><i class=q83></i><i class=q83></i><i class=q82></i><i class=q81></i><i class=q80></i><i class=q80></i><i class=q79></i><i class=q78></i><i class=q78></i><i class=q77></i><i class=q77></i><i class=q76></i><i class=q76></i><i class=q75></i><i class=q75></i><i class=q74></i><i class=q74></i><i class=q74></i><i class=q73></i><i class=q73></i><i class=q72></i><i class=q72></i><i class=q72></i></div>
<div class=cb style="left:520.00px;top:84.00px;width:19.00px;height:375.00px;background:repeating-linear-gradient(180deg,transparent 0 2.75px,rgba(255,255,255,.09) 2.75px 3.75px),linear-gradient(180deg,#ffff00 0.0%,#fcec00 2.5%,#f9db00 5.0%,#f5ca00 7.5%,#f2ba00 10.0%,#efab00 12.5%,#eb9d00 15.0%,#e88f00 17.5%,#e48300 20.0%,#e07700 22.5%,#dd6c00 25.0%,#d96100 27.5%,#d55700 30.0%,#d24e00 32.5%,#ce4600 35.0%,#ca3e00 37.5%,#c63700 40.0%,#c13000 42.5%,#bd2a00 45.0%,#b92500 47.5%,#b42000 50.0%,#b01b28 52.5%,#ab174f 55.0%,#a61474 57.5%,#a11096 60.0%,#9c0db4 62.5%,#970bce 65.0%,#9109e3 67.5%,#8c07f3 70.0%,#8605fc 72.5%,#8004ff 75.0%,#7903fc 77.5%,#7202f3 80.0%,#6b01e3 82.5%,#6301ce 85.0%,#5a00b4 87.5%,#510096 90.0%,#460074 92.5%,#39004f 95.0%,#280028 97.5%,#000000 100.0%)"></div>
<div class=hm style="left:823.00px;top:85.00px;width:375.00px;height:375.00px"><i class=q47></i><i class=q44></i><i class=q41></i><i class=q38></i><i class=q33></i><i class=q29></i><i class=q25></i><i class=q23></i><i class=q21></i><i class=q19></i><i class=q20></i><i class=q21></i><i class=q21></i><i class=q27></i><i class=q32></i><i class=q37></i><i class=q43></i><i class=q48></i><i class=q54></i><i class=q57></i><i class=q60></i><i class=q63></i><i class=q66></i><i class=q71></i><i class=q75></i><i class=q79></i><i class=q83></i><i class=q88></i><i class=q92></i><i class=q96></i><i class=q101></i><i class=q106></i><i class=q112></i><i class=q118></i><i class=q124></i><i class=q130></i><i class=q135></i><i class=q141></i><i class=q146></i><i class=q152></i><i class=q157></i><i class=q164></i><i class=q170></i><i class=q176></i><i class=q182></i><i class=q188></i><i class=q193></i><i class=q199></i><i class=q205></i><i class=q210></i><i class=q47></i><i class=q44></i><i class=q42></i><i class=q38></i><i class=q34></i><i class=q29></i><i class=q25></i><i class=q23></i><i class=q21></i><i class=q19></i><i class=q20></i><i class=q20></i><i class=q21></i><i class=q26></i><i class=q31></i><i class=q36></i><i class=q41></i><i class=q47></i><i class=q53></i><i class=q57></i><i class=q60></i><i class=q63></i><i class=q67></i><i class=q71></i><i class=q75></i><i class=q80></i><i class=q85></i><i class=q89></i><i class=q94></i><i class=q99></i><i class=q104></i><i class=q110></i><i class=q115></i><i class=q121></i><i class=q127></i><i class=q132></i><i class=q137></i><i class=q142></i><i class=q147></i><i class=q152></i><i class=q157></i><i class=q163></i><i class=q169></i><i class=q175></i><i class=q180></i><i class=q186></i><i class=q191></i><i class=q197></i><i class=q202></i><i class=q208></i><i class=q47></i><i class=q44></i><i class=q42></i><i class=q38></i><i class=q34></i><i class=q29></i><i class=q25></i><i class=q23></i><i class=q21></i><i class=q19></i><i class=q19></i><i class=q20></i><i class=q21></i><i class=q25></i><i class=q30></i><i class=q35></i><i class=q40></i><i class=q46></i><i class=q52></i><i class=q56></i><i class=q59></i><i class=q62></i><i class=q67></i><i class=q71></i><i class=q76></i><i class=q81></i><i class=q86></i><i class=q91></i><i class=q96></i><i class=q102></i><i class=q108></i><i class=q114></i><i class=q119></i><i class=q124></i><i class=q129></i><i class=q134></i><i class=q139></i><i class=q143></i><i class=q148></i><i class=q153></i><i class=q158></i><i class=q163></i><i class=q168></i><i class=q173></i><i class=q178></i><i class=q184></i><i class=q189></i><i class=q195></i><i class=q200></i><i class=q205></i><i class=q47></i><i class=q45></i><i class=q42></i><i class=q38></i><i class=q34></i><i class=q29></i><i class=q25></i><i class=q23></i><i class=q20></i><i class=q18></i><i class=q19></i><i class=q20></i><i class=q20></i><i class=q25></i><i class=q29></i><i class=q33></i><i class=q39></i><i class=q45></i><i class=q50></i><i class=q55></i><i class=q58></i><i class=q62></i><i class=q67></i><i class=q72></i><i class=q77></i><i class=q82></i><i class=q88></i><i class=q93></i><i class=q99></i><i class=q105></i><i class=q112></i><i class=q117></i><i class=q122></i><i class=q127></i><i class=q132></i><i class=q136></i><i class=q140></i><i class=q145></i><i class=q149></i><i class=q153></i><i class=q158></i><i class=q162></i><i class=q167></i><i class=q172></i><i class=q177></i><i class=q182></i><i class=q187></i><i class=q192></i><i class=q198></i><i class=q203></i><i class=q47></i><i class=q45></i><i class=q42></i><i class=q39></i><i class=q34></i><i class=q29></i><i class=q25></i><i class=q23></i><i class=q20></i><i class=q18></i><i class=q19></i><i class=q19></i><i class=q20></i><i class=q24></i><i class=q28></i><i class=q32></i><i class=q38></i><i class=q43></i><i class=q49></i><i class=q54></i><i class=q58></i><i class=q62></i><i class=q67></i><i class=q72></i><i class=q78></i><i class=q83></i><i class=q89></i><i class=q95></i><i class=q101></i><i class=q108></i><i class=q115></i><i class=q121></i><i class=q126></i><i class=q130></i><i class=q134></i><i class=q138></i><i class=q142></i><i class=q146></i><i class=q150></i><i class=q154></i><i class=q158></i><i class=q162></i><i class=q166></i><i class=q170></i><i class=q175></i><i class=q180></i><i class=q185></i><i class=q190></i><i class=q195></i><i class=q201></i><i class=q47></i><i class=q45></i><i class=q42></i><i class=q39></i><i class=q34></i><i class=q29></i><i class=q25></i><i class=q23></i><i class=q20></i><i class=q18></i><i class=q19></i><i class=q19></i><i class=q19></i><i class=q23></i><i class=q27></i><i class=q31></i><i class=q37></i><i class=q42></i><i class=q48></i><i class=q53></i><i class=q57></i><i class=q62></i><i class=q67></i><i class=q73></i><i class=q78></i><i class=q84></i><i class=q90></i><i class=q97></i><i class=q103></i><i class=q111></i><i class=q119></i><i class=q125></i><i class=q129></i><i class=q133></i><i class=q136></i><i class=q140></i><i class=q143></i><i class=q147></i><i class=q151></i><i class=q154></i><i class=q158></i><i class=q161></i><i class=q165></i><i class=q169></i><i class=q173></i><i class=q178></i><i class=q183></i><i class=q188></i><i class=q193></i><i class=q198></i><i class=q47></i><i class=q45></i><i class=q42></i><i class=q39></i><i class=q34></i><i class=q29></i><i class=q25></i><i class=q23></i><i class=q20></i><i class=q18></i><i class=q18></i><i class=q19></i><i class=q19></i><i class=q23></i><i class=q26></i><i class=q30></i><i class=q35></i><i class=q41></i><i class=q47></i><i class=q52></i><i class=q57></i><i class=q62></i><i class=q67></i><i class=q73></i><i class=q79></i><i class=q85></i><i class=q91></i><i class=q98></i><i class=q105></i><i class=q113></i><i class=q122></i><i class=q129></i><i class=q132></i><i class=q135></i><i class=q138></i><i class=q142></i><i class=q145></i><i class=q148></i><i class=q151></i><i class=q154></i><i class=q157></i><i class=q161></i><i class=q164></i><i class=q167></i><i class=q172></i><i class=q176></i><i class=q181></i><i class=q186></i><i class=q191></i><i class=q196></i><i class=q47></i><i class=q45></i><i class=q43></i><i class=q39></i><i class=q34></i><i class=q30></i><i class=q25></i><i class=q23></i><i class=q20></i><i class=q18></i><i class=q18></i><i class=q19></i><i class=q19></i><i class=q22></i><i class=q26></i><i class=q29></i><i class=q35></i><i class=q40></i><i class=q46></i><i class=q51></i><i class=q56></i><i class=q61></i><i class=q67></i><i class=q72></i><i class=q78></i><i class=q84></i><i class=q92></i><i class=q99></i><i class=q107></i><i class=q115></i><i class=q123></i><i class=q129></i><i class=q133></i><i class=q136></i><i class=q139></i><i class=q142></i><i class=q145></i><i class=q148></i><i class=q151></i><i class=q154></i><i class=q157></i><i class=q160></i><i class=q163></i><i class=q166></i><i class=q170></i><i class=q174></i><i class=q179></i><i class=q183></i><i class=q188></i><i class=q193></i><i class=q47></i><i class=q45></i><i class=q43></i><i class=q39></i><i class=q35></i><i class=q30></i><i class=q26></i><i class=q23></i><i class=q20></i><i class=q18></i><i class=q18></i><i class=q18></i><i class=q19></i><i class=q22></i><i class=q25></i><i class=q28></i><i class=q34></i><i class=q39></i><i class=q45></i><i class=q51></i><i class=q56></i><i class=q61></i><i class=q66></i><i class=q72></i><i class=q77></i><i class=q84></i><i class=q92></i><i class=q100></i><i class=q108></i><i class=q116></i><i class=q123></i><i class=q130></i><i class=q133></i><i class=q137></i><i class=q140></i><i class=q143></i><i class=q145></i><i class=q148></i><i class=q151></i><i class=q153></i><i class=q156></i><i class=q159></i><i class=q162></i><i class=q165></i><i class=q169></i><i class=q173></i><i class=q177></i><i class=q181></i><i class=q185></i><i class=q189></i><i class=q47></i><i class=q45></i><i class=q43></i><i class=q40></i><i class=q35></i><i class=q30></i><i class=q26></i><i class=q23></i><i class=q20></i><i class=q18></i><i class=q18></i><i class=q18></i><i class=q18></i><i class=q21></i><i class=q25></i><i class=q28></i><i class=q33></i><i class=q39></i><i class=q44></i><i class=q50></i><i class=q55></i><i class=q60></i><i class=q66></i><i class=q71></i><i class=q76></i><i class=q83></i><i class=q92></i><i class=q101></i><i class=q109></i><i class=q117></i><i class=q124></i><i class=q131></i><i class=q134></i><i class=q137></i><i class=q141></i><i class=q143></i><i class=q145></i><i class=q148></i><i class=q150></i><i class=q153></i><i class=q155></i><i class=q158></i><i class=q161></i><i class=q164></i><i class=q167></i><i class=q171></i><i class=q174></i><i class=q178></i><i class=q182></i><i class=q186></i><i class=q47></i><i class=q45></i><i class=q43></i><i class=q40></i><i class=q35></i><i class=q31></i><i class=q26></i><i class=q23></i><i class=q20></i><i class=q18></i><i class=q18></i><i class=q18></i><i class=q18></i><i class=q21></i><i class=q24></i><i class=q27></i><i class=q32></i><i class=q38></i><i class=q44></i><i class=q49></i><i class=q55></i><i class=q60></i><i class=q65></i><i class=q70></i><i class=q76></i><i class=q83></i><i class=q92></i><i class=q101></i><i class=q110></i><i class=q118></i><i class=q125></i><i class=q132></i><i class=q135></i><i class=q138></i><i class=q141></i><i class=q144></i><i class=q146></i><i class=q148></i><i class=q150></i><i class=q152></i><i class=q154></i><i class=q157></i><i class=q160></i><i class=q162></i><i class=q166></i><i class=q169></i><i class=q172></i><i class=q176></i><i class=q179></i><i class=q183></i><i class=q47></i><i class=q45></i><i class=q43></i><i class=q40></i><i class=q36></i><i class=q31></i><i class=q27></i><i class=q24></i><i class=q21></i><i class=q18></i><i class=q18></i><i class=q18></i><i class=q18></i><i class=q21></i><i class=q23></i><i class=q26></i><i class=q31></i><i class=q37></i><i class=q43></i><i class=q48></i><i class=q54></i><i class=q60></i><i class=q65></i><i class=q70></i><i class=q75></i><i class=q82></i><i class=q92></i><i class=q102></i><i class=q111></i><i class=q119></i><i class=q126></i><i class=q133></i><i class=q136></i><i class=q139></i><i class=q142></i><i class=q144></i><i class=q146></i><i class=q148></i><i class=q150></i><i class=q152></i><i class=q154></i><i class=q156></i><i class=q159></i><i class=q161></i><i class=q164></i><i class=q167></i><i class=q170></i><i class=q173></i><i class=q176></i><i class=q180></i><i class=q47></i><i class=q45></i><i class=q43></i><i class=q40></i><i class=q36></i><i class=q31></i><i class=q27></i><i class=q24></i><i class=q21></i><i class=q18></i><i class=q18></i><i class=q18></i><i class=q18></i><i class=q20></i><i class=q23></i><i class=q25></i><i class=q30></i><i class=q36></i><i class=q42></i><i class=q48></i><i class=q53></i><i class=q59></i><i class=q64></i><i class=q69></i><i class=q74></i><i class=q82></i><i class=q92></i><i class=q103></i><i class=q112></i><i class=q120></i><i class=q127></i><i class=q133></i><i class=q137></i><i class=q140></i><i class=q143></i><i class=q145></i><i class=q146></i><i class=q148></i><i class=q150></i><i class=q151></i><i class=q153></i><i class=q155></i><i class=q158></i><i class=q160></i><i class=q162></i><i class=q165></i><i class=q167></i><i class=q170></i><i class=q174></i><i class=q177></i><i class=q47></i><i class=q45></i><i class=q44></i><i class=q41></i><i class=q36></i><i class=q31></i><i class=q27></i><i class=q24></i><i class=q21></i><i class=q18></i><i class=q18></i><i class=q18></i><i class=q18></i><i class=q20></i><i class=q22></i><i class=q25></i><i class=q30></i><i class=q35></i><i class=q41></i><i class=q46></i><i class=q51></i><i class=q57></i><i class=q62></i><i class=q67></i><i class=q72></i><i class=q79></i><i class=q89></i><i class=q98></i><i class=q107></i><i class=q114></i><i class=q121></i><i class=q128></i><i class=q132></i><i class=q136></i><i class=q140></i><i class=q142></i><i class=q144></i><i class=q146></i><i class=q148></i><i class=q149></i><i class=q151></i><i class=q153></i><i class=q156></i><i class=q158></i><i class=q160></i><i class=q163></i><i class=q165></i><i class=q168></i><i class=q171></i><i class=q174></i><i class=q47></i><i class=q46></i><i class=q44></i><i class=q41></i><i class=q36></i><i class=q32></i><i class=q27></i><i class=q24></i><i class=q20></i><i class=q17></i><i class=q17></i><i class=q17></i><i class=q17></i><i class=q20></i><i class=q22></i><i class=q24></i><i class=q29></i><i class=q34></i><i class=q40></i><i class=q45></i><i class=q50></i><i class=q54></i><i class=q60></i><i class=q65></i><i class=q70></i><i class=q77></i><i class=q85></i><i class=q94></i><i class=q102></i><i class=q109></i><i class=q116></i><i class=q122></i><i class=q127></i><i class=q132></i><i class=q137></i><i class=q139></i><i class=q141></i><i class=q144></i><i class=q146></i><i class=q148></i><i class=q149></i><i class=q152></i><i class=q154></i><i class=q156></i><i class=q158></i><i class=q161></i><i class=q163></i><i class=q166></i><i class=q169></i><i class=q172></i><i class=q48></i><i class=q46></i><i class=q44></i><i class=q41></i><i class=q36></i><i class=q32></i><i class=q27></i><i class=q24></i><i class=q20></i><i class=q17></i><i class=q17></i><i class=q17></i><i class=q17></i><i class=q19></i><i class=q21></i><i class=q23></i><i class=q28></i><i class=q33></i><i class=q38></i><i class=q43></i><i class=q48></i><i class=q52></i><i class=q57></i><i class=q62></i><i class=q68></i><i class=q74></i><i class=q82></i><i class=q89></i><i class=q96></i><i class=q103></i><i class=q110></i><i class=q117></i><i class=q122></i><i class=q128></i><i class=q133></i><i class=q136></i><i class=q139></i><i class=q142></i><i class=q144></i><i class=q146></i><i class=q148></i><i class=q150></i><i class=q152></i><i class=q154></i><i class=q156></i><i class=q159></i><i class=q161></i><i class=q164></i><i class=q167></i><i class=q170></i><i class=q48></i><i class=q46></i><i class=q44></i><i class=q41></i><i class=q36></i><i class=q32></i><i class=q27></i><i class=q24></i><i class=q20></i><i class=q17></i><i class=q17></i><i class=q17></i><i class=q17></i><i class=q19></i><i class=q21></i><i class=q23></i><i class=q27></i><i class=q32></i><i class=q37></i><i class=q42></i><i class=q46></i><i class=q50></i><i class=q55></i><i class=q60></i><i class=q66></i><i class=q72></i><i class=q78></i><i class=q84></i><i class=q91></i><i class=q98></i><i class=q105></i><i class=q111></i><i class=q118></i><i class=q124></i><i class=q130></i><i class=q133></i><i class=q137></i><i class=q140></i><i class=q142></i><i class=q144></i><i class=q146></i><i class=q148></i><i class=q150></i><i class=q152></i><i class=q154></i><i class=q157></i><i class=q159></i><i class=q162></i><i class=q165></i><i class=q167></i><i class=q48></i><i class=q46></i><i class=q44></i><i class=q41></i><i class=q36></i><i class=q32></i><i class=q27></i><i class=q24></i><i class=q20></i><i class=q17></i><i class=q17></i><i class=q17></i><i class=q17></i><i class=q19></i><i class=q20></i><i class=q22></i><i class=q27></i><i class=q31></i><i class=q36></i><i class=q40></i><i class=q44></i><i class=q48></i><i class=q52></i><i class=q58></i><i class=q64></i><i class=q69></i><i class=q74></i><i class=q80></i><i class=q86></i><i class=q92></i><i class=q99></i><i class=q106></i><i class=q113></i><i class=q120></i><i class=q127></i><i class=q131></i><i class=q134></i><i class=q138></i><i class=q140></i><i class=q142></i><i class=q145></i><i class=q146></i><i class=q148></i><i class=q150></i><i class=q152></i><i class=q155></i><i class=q157></i><i class=q160></i><i class=q162></i><i class=q165></i><i class=q48></i><i class=q46></i><i class=q44></i><i class=q41></i><i class=q37></i><i class=q32></i><i class=q27></i><i class=q23></i><i class=q20></i><i class=q17></i><i class=q17></i><i class=q17></i><i class=q17></i><i class=q18></i><i class=q20></i><i class=q22></i><i class=q26></i><i class=q30></i><i class=q35></i><i class=q39></i><i class=q42></i><i class=q45></i><i class=q50></i><i class=q56></i><i class=q61></i><i class=q66></i><i class=q71></i><i class=q75></i><i class=q80></i><i class=q87></i><i class=q93></i><i class=q100></i><i class=q108></i><i class=q116></i><i class=q124></i><i class=q128></i><i class=q132></i><i class=q136></i><i class=q138></i><i class=q140></i><i class=q143></i><i class=q145></i><i class=q146></i><i class=q148></i><i class=q150></i><i class=q153></i><i class=q155></i><i class=q158></i><i class=q160></i><i class=q163></i><i class=q48></i><i class=q46></i><i class=q45></i><i class=q42></i><i class=q37></i><i class=q32></i><i class=q27></i><i class=q24></i><i class=q20></i><i class=q16></i><i class=q16></i><i class=q16></i><i class=q16></i><i class=q18></i><i class=q20></i><i class=q21></i><i class=q25></i><i class=q29></i><i class=q34></i><i class=q37></i><i class=q40></i><i class=q44></i><i class=q49></i><i class=q54></i><i class=q60></i><i class=q65></i><i class=q69></i><i class=q73></i><i class=q78></i><i class=q84></i><i class=q90></i><i class=q96></i><i class=q104></i><i class=q112></i><i class=q119></i><i class=q124></i><i class=q128></i><i class=q132></i><i class=q135></i><i class=q138></i><i class=q141></i><i class=q143></i><i class=q144></i><i class=q146></i><i class=q149></i><i class=q151></i><i class=q153></i><i class=q156></i><i class=q158></i><i class=q161></i><i class=q48></i><i class=q46></i><i class=q45></i><i class=q42></i><i class=q37></i><i class=q32></i><i class=q28></i><i class=q24></i><i class=q20></i><i class=q16></i><i class=q16></i><i class=q16></i><i class=q16></i><i class=q18></i><i class=q19></i><i class=q21></i><i class=q25></i><i class=q29></i><i class=q33></i><i class=q36></i><i class=q39></i><i class=q43></i><i class=q47></i><i class=q53></i><i class=q59></i><i class=q64></i><i class=q68></i><i class=q71></i><i class=q76></i><i class=q81></i><i class=q87></i><i class=q93></i><i class=q100></i><i class=q107></i><i class=q114></i><i class=q119></i><i class=q124></i><i class=q129></i><i class=q132></i><i class=q135></i><i class=q138></i><i class=q140></i><i class=q142></i><i class=q145></i><i class=q147></i><i class=q149></i><i class=q152></i><i class=q154></i><i class=q157></i><i class=q159></i><i class=q48></i><i class=q47></i><i class=q45></i><i class=q43></i><i class=q38></i><i class=q33></i><i class=q28></i><i class=q24></i><i class=q20></i><i class=q16></i><i class=q16></i><i class=q16></i><i class=q16></i><i class=q18></i><i class=q19></i><i class=q21></i><i class=q24></i><i class=q28></i><i class=q31></i><i class=q35></i><i class=q38></i><i class=q41></i><i class=q46></i><i class=q52></i><i class=q58></i><i class=q63></i><i class=q67></i><i class=q70></i><i class=q74></i><i class=q79></i><i class=q84></i><i class=q90></i><i class=q96></i><i class=q103></i><i class=q110></i><i class=q115></i><i class=q120></i><i class=q125></i><i class=q129></i><i class=q132></i><i class=q136></i><i class=q138></i><i class=q140></i><i class=q143></i><i class=q145></i><i class=q148></i><i class=q150></i><i class=q153></i><i class=q155></i><i class=q157></i><i class=q48></i><i class=q47></i><i class=q46></i><i class=q43></i><i class=q38></i><i class=q33></i><i class=q28></i><i class=q24></i><i class=q20></i><i class=q16></i><i class=q16></i><i class=q16></i><i class=q16></i><i class=q17></i><i class=q19></i><i class=q21></i><i class=q24></i><i class=q27></i><i class=q30></i><i class=q34></i><i class=q37></i><i class=q40></i><i class=q45></i><i class=q51></i><i class=q58></i><i class=q62></i><i class=q65></i><i class=q68></i><i class=q72></i><i class=q77></i><i class=q81></i><i class=q86></i><i class=q92></i><i class=q99></i><i class=q105></i><i class=q110></i><i class=q116></i><i class=q121></i><i class=q125></i><i class=q129></i><i class=q133></i><i class=q136></i><i class=q139></i><i class=q141></i><i class=q144></i><i class=q146></i><i class=q149></i><i class=q151></i><i class=q153></i><i class=q156></i><i class=q48></i><i class=q47></i><i class=q46></i><i class=q43></i><i class=q39></i><i class=q34></i><i class=q29></i><i class=q24></i><i class=q20></i><i class=q16></i><i class=q16></i><i class=q16></i><i class=q16></i><i class=q17></i><i class=q19></i><i class=q21></i><i class=q23></i><i class=q26></i><i class=q29></i><i class=q32></i><i class=q36></i><i class=q39></i><i class=q44></i><i class=q50></i><i class=q57></i><i class=q61></i><i class=q64></i><i class=q67></i><i class=q70></i><i class=q74></i><i class=q78></i><i class=q83></i><i class=q88></i><i class=q94></i><i class=q100></i><i class=q106></i><i class=q112></i><i class=q118></i><i class=q122></i><i class=q126></i><i class=q131></i><i class=q134></i><i class=q137></i><i class=q139></i><i class=q142></i><i class=q144></i><i class=q147></i><i class=q149></i><i class=q152></i><i class=q154></i><i class=q48></i><i class=q47></i><i class=q46></i><i class=q44></i><i class=q39></i><i class=q34></i><i class=q29></i><i class=q24></i><i class=q20></i><i class=q15></i><i class=q15></i><i class=q15></i><i class=q15></i><i class=q17></i><i class=q19></i><i class=q20></i><i class=q23></i><i class=q25></i><i class=q28></i><i class=q31></i><i class=q34></i><i class=q38></i><i class=q43></i><i class=q49></i><i class=q56></i><i class=q60></i><i class=q63></i><i class=q66></i><i class=q68></i><i class=q72></i><i class=q75></i><i class=q79></i><i class=q85></i><i class=q90></i><i class=q95></i><i class=q101></i><i class=q108></i><i class=q114></i><i class=q119></i><i class=q123></i><i class=q128></i><i class=q131></i><i class=q135></i><i class=q138></i><i class=q140></i><i class=q143></i><i class=q145></i><i class=q148></i><i class=q150></i><i class=q153></i><i class=q48></i><i class=q47></i><i class=q46></i><i class=q44></i><i class=q39></i><i class=q34></i><i class=q29></i><i class=q24></i><i class=q19></i><i class=q15></i><i class=q15></i><i class=q15></i><i class=q15></i><i class=q17></i><i class=q18></i><i class=q20></i><i class=q22></i><i class=q25></i><i class=q27></i><i class=q30></i><i class=q34></i><i class=q37></i><i class=q42></i><i class=q48></i><i class=q55></i><i class=q59></i><i class=q62></i><i class=q64></i><i class=q67></i><i class=q70></i><i class=q73></i><i class=q77></i><i class=q81></i><i class=q86></i><i class=q91></i><i class=q97></i><i class=q103></i><i class=q110></i><i class=q115></i><i class=q120></i><i class=q124></i><i class=q128></i><i class=q132></i><i class=q135></i><i class=q138></i><i class=q140></i><i class=q143></i><i class=q145></i><i class=q148></i><i class=q151></i><i class=q48></i><i class=q47></i><i class=q46></i><i class=q44></i><i class=q39></i><i class=q34></i><i class=q29></i><i class=q24></i><i class=q19></i><i class=q15></i><i class=q15></i><i class=q15></i><i class=q15></i><i class=q16></i><i class=q18></i><i class=q20></i><i class=q22></i><i class=q24></i><i class=q27></i><i class=q30></i><i class=q33></i><i class=q36></i><i class=q41></i><i class=q48></i><i class=q54></i><i class=q58></i><i class=q61></i><i class=q63></i><i class=q66></i><i class=q69></i><i class=q72></i><i class=q75></i><i class=q79></i><i class=q83></i><i class=q88></i><i class=q93></i><i class=q99></i><i class=q105></i><i class=q110></i><i class=q115></i><i class=q120></i><i class=q124></i><i class=q127></i><i class=q131></i><i class=q134></i><i class=q137></i><i class=q140></i><i class=q143></i><i class=q145></i><i class=q148></i><i class=q48></i><i class=q47></i><i class=q46></i><i class=q44></i><i class=q39></i><i class=q33></i><i class=q28></i><i class=q23></i><i class=q19></i><i class=q14></i><i class=q14></i><i class=q14></i><i class=q14></i><i class=q16></i><i class=q18></i><i class=q19></i><i class=q22></i><i class=q24></i><i class=q26></i><i class=q29></i><i class=q33></i><i class=q36></i><i class=q41></i><i class=q47></i><i class=q53></i><i class=q57></i><i class=q60></i><i class=q63></i><i class=q65></i><i class=q68></i><i class=q70></i><i class=q73></i><i class=q77></i><i class=q80></i><i class=q84></i><i class=q90></i><i class=q95></i><i class=q100></i><i class=q105></i><i class=q110></i><i class=q115></i><i class=q119></i><i class=q123></i><i class=q127></i><i class=q131></i><i class=q134></i><i class=q137></i><i class=q140></i><i class=q143></i><i class=q145></i><i class=q48></i><i class=q47></i><i class=q46></i><i class=q44></i><i class=q39></i><i class=q33></i><i class=q28></i><i class=q23></i><i class=q18></i><i class=q14></i><i class=q14></i><i class=q14></i><i class=q14></i><i class=q16></i><i class=q17></i><i class=q19></i><i class=q21></i><i class=q24></i><i class=q26></i><i class=q29></i><i class=q32></i><i class=q36></i><i class=q40></i><i class=q46></i><i class=q52></i><i class=q56></i><i class=q59></i><i class=q62></i><i class=q64></i><i class=q67></i><i class=q69></i><i class=q72></i><i class=q75></i><i class=q78></i><i class=q81></i><i class=q86></i><i class=q90></i><i class=q95></i><i class=q100></i><i class=q105></i><i class=q110></i><i class=q114></i><i class=q119></i><i class=q124></i><i class=q127></i><i class=q131></i><i class=q134></i><i class=q137></i><i class=q140></i><i class=q143></i><i class=q48></i><i class=q47></i><i class=q46></i><i class=q44></i><i class=q38></i><i class=q33></i><i class=q28></i><i class=q23></i><i class=q18></i><i class=q13></i><i class=q13></i><i class=q13></i><i class=q13></i><i class=q15></i><i class=q17></i><i class=q18></i><i class=q21></i><i class=q23></i><i class=q26></i><i class=q29></i><i class=q32></i><i class=q35></i><i class=q40></i><i class=q45></i><i class=q50></i><i class=q55></i><i class=q58></i><i class=q61></i><i class=q63></i><i class=q66></i><i class=q68></i><i class=q70></i><i class=q72></i><i class=q75></i><i class=q78></i><i class=q82></i><i class=q86></i><i class=q90></i><i class=q95></i><i class=q100></i><i class=q105></i><i class=q110></i><i class=q115></i><i class=q120></i><i class=q124></i><i class=q128></i><i class=q131></i><i class=q134></i><i class=q137></i><i class=q140></i><i class=q48></i><i class=q47></i><i class=q46></i><i class=q44></i><i class=q38></i><i class=q33></i><i class=q27></i><i class=q22></i><i class=q17></i><i class=q13></i><i class=q13></i><i class=q13></i><i class=q13></i><i class=q15></i><i class=q16></i><i class=q18></i><i class=q20></i><i class=q23></i><i class=q25></i><i class=q28></i><i class=q32></i><i class=q35></i><i class=q39></i><i class=q44></i><i class=q49></i><i class=q54></i><i class=q57></i><i class=q60></i><i class=q62></i><i class=q64></i><i class=q66></i><i class=q68></i><i class=q70></i><i class=q72></i><i class=q74></i><i class=q78></i><i class=q82></i><i class=q85></i><i class=q90></i><i class=q95></i><i class=q100></i><i class=q105></i><i class=q111></i><i class=q116></i><i class=q120></i><i class=q124></i><i class=q128></i><i class=q132></i><i class=q135></i><i class=q138></i><i class=q48></i><i class=q47></i><i class=q46></i><i class=q44></i><i class=q38></i><i class=q32></i><i class=q27></i><i class=q22></i><i class=q17></i><i class=q13></i><i class=q13></i><i class=q13></i><i class=q13></i><i class=q14></i><i class=q16></i><i class=q18></i><i class=q20></i><i class=q22></i><i class=q25></i><i class=q28></i><i class=q31></i><i class=q34></i><i class=q39></i><i class=q43></i><i class=q48></i><i class=q52></i><i class=q56></i><i class=q59></i><i class=q62></i><i class=q63></i><i class=q65></i><i class=q67></i><i class=q68></i><i class=q70></i><i class=q72></i><i class=q75></i><i class=q78></i><i class=q81></i><i class=q86></i><i class=q91></i><i class=q96></i><i class=q101></i><i class=q107></i><i class=q112></i><i class=q117></i><i class=q121></i><i class=q125></i><i class=q129></i><i class=q132></i><i class=q135></i><i class=q48></i><i class=q47></i><i class=q46></i><i class=q44></i><i class=q38></i><i class=q32></i><i class=q27></i><i class=q22></i><i class=q17></i><i class=q13></i><i class=q13></i><i class=q13></i><i class=q12></i><i class=q14></i><i class=q16></i><i class=q17></i><i class=q19></i><i class=q22></i><i class=q24></i><i class=q27></i><i class=q30></i><i class=q33></i><i class=q38></i><i class=q42></i><i class=q47></i><i class=q51></i><i class=q55></i><i class=q58></i><i class=q61></i><i class=q62></i><i class=q64></i><i class=q66></i><i class=q67></i><i class=q69></i><i class=q71></i><i class=q74></i><i class=q77></i><i class=q80></i><i class=q84></i><i class=q89></i><i class=q93></i><i class=q98></i><i class=q104></i><i class=q109></i><i class=q113></i><i class=q118></i><i class=q122></i><i class=q125></i><i class=q129></i><i class=q132></i><i class=q48></i><i class=q47></i><i class=q46></i><i class=q43></i><i class=q38></i><i class=q32></i><i class=q27></i><i class=q22></i><i class=q17></i><i class=q13></i><i class=q13></i><i class=q12></i><i class=q12></i><i class=q14></i><i class=q15></i><i class=q17></i><i class=q19></i><i class=q21></i><i class=q24></i><i class=q26></i><i class=q30></i><i class=q33></i><i class=q37></i><i class=q41></i><i class=q46></i><i class=q50></i><i class=q54></i><i class=q57></i><i class=q60></i><i class=q62></i><i class=q63></i><i class=q65></i><i class=q67></i><i class=q68></i><i class=q70></i><i class=q73></i><i class=q75></i><i class=q78></i><i class=q82></i><i class=q87></i><i class=q91></i><i class=q96></i><i class=q100></i><i class=q105></i><i class=q110></i><i class=q114></i><i class=q119></i><i class=q122></i><i class=q125></i><i class=q129></i><i class=q48></i><i class=q47></i><i class=q46></i><i class=q43></i><i class=q38></i><i class=q32></i><i class=q27></i><i class=q22></i><i class=q17></i><i class=q13></i><i class=q13></i><i class=q12></i><i class=q12></i><i class=q14></i><i class=q15></i><i class=q16></i><i class=q18></i><i class=q21></i><i class=q23></i><i class=q26></i><i class=q29></i><i class=q32></i><i class=q36></i><i class=q40></i><i class=q45></i><i class=q49></i><i class=q53></i><i class=q56></i><i class=q59></i><i class=q61></i><i class=q62></i><i class=q64></i><i class=q66></i><i class=q67></i><i class=q69></i><i class=q71></i><i class=q74></i><i class=q76></i><i class=q80></i><i class=q84></i><i class=q88></i><i class=q93></i><i class=q97></i><i class=q102></i><i class=q106></i><i class=q111></i><i class=q115></i><i class=q119></i><i class=q122></i><i class=q125></i><i class=q48></i><i class=q47></i><i class=q46></i><i class=q43></i><i class=q38></i><i class=q32></i><i class=q27></i><i class=q22></i><i class=q17></i><i class=q13></i><i class=q12></i><i class=q12></i><i class=q12></i><i class=q13></i><i class=q15></i><i class=q16></i><i class=q18></i><i class=q20></i><i class=q22></i><i class=q25></i><i class=q28></i><i class=q31></i><i class=q35></i><i class=q39></i><i class=q44></i><i class=q48></i><i class=q52></i><i class=q55></i><i class=q58></i><i class=q60></i><i class=q62></i><i class=q63></i><i class=q65></i><i class=q67></i><i class=q68></i><i class=q70></i><i class=q73></i><i class=q75></i><i class=q78></i><i class=q82></i><i class=q86></i><i class=q90></i><i class=q94></i><i class=q98></i><i class=q103></i><i class=q107></i><i class=q112></i><i class=q116></i><i class=q119></i><i class=q122></i><i class=q48></i><i class=q47></i><i class=q46></i><i class=q43></i><i class=q37></i><i class=q32></i><i class=q27></i><i class=q22></i><i class=q17></i><i class=q13></i><i class=q12></i><i class=q12></i><i class=q12></i><i class=q13></i><i class=q14></i><i class=q16></i><i class=q18></i><i class=q20></i><i class=q22></i><i class=q24></i><i class=q27></i><i class=q30></i><i class=q34></i><i class=q38></i><i class=q42></i><i class=q47></i><i class=q50></i><i class=q54></i><i class=q58></i><i class=q59></i><i class=q61></i><i class=q62></i><i class=q64></i><i class=q66></i><i class=q67></i><i class=q69></i><i class=q71></i><i class=q73></i><i class=q77></i><i class=q80></i><i class=q84></i><i class=q87></i><i class=q91></i><i class=q95></i><i class=q99></i><i class=q104></i><i class=q109></i><i class=q112></i><i class=q116></i><i class=q119></i><i class=q48></i><i class=q47></i><i class=q45></i><i class=q43></i><i class=q37></i><i class=q32></i><i class=q27></i><i class=q22></i><i class=q17></i><i class=q13></i><i class=q12></i><i class=q12></i><i class=q11></i><i class=q13></i><i class=q14></i><i class=q15></i><i class=q17></i><i class=q19></i><i class=q21></i><i class=q24></i><i class=q27></i><i class=q30></i><i class=q33></i><i class=q37></i><i class=q41></i><i class=q45></i><i class=q49></i><i class=q54></i><i class=q57></i><i class=q58></i><i class=q60></i><i class=q62></i><i class=q63></i><i class=q65></i><i class=q67></i><i class=q68></i><i class=q70></i><i class=q71></i><i class=q75></i><i class=q78></i><i class=q81></i><i class=q84></i><i class=q88></i><i class=q91></i><i class=q95></i><i class=q100></i><i class=q105></i><i class=q109></i><i class=q112></i><i class=q116></i><i class=q48></i><i class=q46></i><i class=q45></i><i class=q42></i><i class=q37></i><i class=q32></i><i class=q27></i><i class=q22></i><i class=q17></i><i class=q13></i><i class=q13></i><i class=q12></i><i class=q11></i><i class=q12></i><i class=q13></i><i class=q14></i><i class=q16></i><i class=q18></i><i class=q20></i><i class=q22></i><i class=q25></i><i class=q28></i><i class=q31></i><i class=q35></i><i class=q38></i><i class=q42></i><i class=q46></i><i class=q50></i><i class=q53></i><i class=q55></i><i class=q57></i><i class=q59></i><i class=q61></i><i class=q62></i><i class=q64></i><i class=q65></i><i class=q67></i><i class=q68></i><i class=q71></i><i class=q74></i><i class=q77></i><i class=q80></i><i class=q83></i><i class=q86></i><i class=q90></i><i class=q95></i><i class=q99></i><i class=q103></i><i class=q106></i><i class=q109></i><i class=q48></i><i class=q46></i><i class=q45></i><i class=q42></i><i class=q37></i><i class=q32></i><i class=q27></i><i class=q22></i><i class=q18></i><i class=q13></i><i class=q13></i><i class=q12></i><i class=q11></i><i class=q12></i><i class=q13></i><i class=q14></i><i class=q15></i><i class=q17></i><i class=q19></i><i class=q21></i><i class=q24></i><i class=q26></i><i class=q29></i><i class=q32></i><i class=q35></i><i class=q39></i><i class=q42></i><i class=q46></i><i class=q49></i><i class=q52></i><i class=q54></i><i class=q57></i><i class=q58></i><i class=q60></i><i class=q62></i><i class=q63></i><i class=q64></i><i class=q65></i><i class=q68></i><i class=q70></i><i class=q73></i><i class=q76></i><i class=q79></i><i class=q81></i><i class=q85></i><i class=q89></i><i class=q93></i><i class=q96></i><i class=q99></i><i class=q103></i><i class=q48></i><i class=q46></i><i class=q44></i><i class=q42></i><i class=q37></i><i class=q32></i><i class=q27></i><i class=q22></i><i class=q18></i><i class=q14></i><i class=q13></i><i class=q12></i><i class=q11></i><i class=q12></i><i class=q12></i><i class=q13></i><i class=q14></i><i class=q16></i><i class=q18></i><i class=q20></i><i class=q22></i><i class=q25></i><i class=q27></i><i class=q30></i><i class=q32></i><i class=q35></i><i class=q39></i><i class=q42></i><i class=q45></i><i class=q48></i><i class=q51></i><i class=q54></i><i class=q56></i><i class=q58></i><i class=q59></i><i class=q60></i><i class=q61></i><i class=q62></i><i class=q64></i><i class=q67></i><i class=q69></i><i class=q72></i><i class=q74></i><i class=q76></i><i class=q80></i><i class=q83></i><i class=q86></i><i class=q90></i><i class=q93></i><i class=q96></i><i class=q48></i><i class=q46></i><i class=q44></i><i class=q42></i><i class=q37></i><i class=q32></i><i class=q28></i><i class=q23></i><i class=q18></i><i class=q14></i><i class=q13></i><i class=q12></i><i class=q11></i><i class=q11></i><i class=q12></i><i class=q12></i><i class=q13></i><i class=q14></i><i class=q16></i><i class=q18></i><i class=q20></i><i class=q22></i><i class=q24></i><i class=q27></i><i class=q29></i><i class=q32></i><i class=q35></i><i class=q38></i><i class=q42></i><i class=q45></i><i class=q48></i><i class=q51></i><i class=q53></i><i class=q54></i><i class=q56></i><i class=q57></i><i class=q58></i><i class=q59></i><i class=q61></i><i class=q63></i><i class=q65></i><i class=q67></i><i class=q69></i><i class=q72></i><i class=q74></i><i class=q77></i><i class=q80></i><i class=q83></i><i class=q86></i><i class=q88></i><i class=q48></i><i class=q46></i><i class=q44></i><i class=q42></i><i class=q37></i><i class=q33></i><i class=q28></i><i class=q24></i><i class=q19></i><i class=q15></i><i class=q13></i><i class=q12></i><i class=q11></i><i class=q11></i><i class=q11></i><i class=q11></i><i class=q12></i><i class=q13></i><i class=q14></i><i class=q15></i><i class=q17></i><i class=q19></i><i class=q21></i><i class=q23></i><i class=q26></i><i class=q29></i><i class=q32></i><i class=q35></i><i class=q38></i><i class=q41></i><i class=q44></i><i class=q47></i><i class=q49></i><i class=q51></i><i class=q53></i><i class=q54></i><i class=q55></i><i class=q57></i><i class=q58></i><i class=q60></i><i class=q61></i><i class=q63></i><i class=q65></i><i class=q67></i><i class=q69></i><i class=q71></i><i class=q74></i><i class=q76></i><i class=q78></i><i class=q80></i><i class=q48></i><i class=q46></i><i class=q44></i><i class=q42></i><i class=q38></i><i class=q34></i><i class=q29></i><i class=q24></i><i class=q19></i><i class=q15></i><i class=q13></i><i class=q12></i><i class=q10></i><i class=q10></i><i class=q10></i><i class=q10></i><i class=q11></i><i class=q11></i><i class=q12></i><i class=q13></i><i class=q14></i><i class=q16></i><i class=q18></i><i class=q20></i><i class=q23></i><i class=q25></i><i class=q29></i><i class=q32></i><i class=q35></i><i class=q38></i><i class=q41></i><i class=q43></i><i class=q46></i><i class=q48></i><i class=q49></i><i class=q51></i><i class=q53></i><i class=q54></i><i class=q55></i><i class=q56></i><i class=q57></i><i class=q59></i><i class=q60></i><i class=q62></i><i class=q64></i><i class=q66></i><i class=q67></i><i class=q69></i><i class=q71></i><i class=q73></i><i class=q48></i><i class=q46></i><i class=q44></i><i class=q42></i><i class=q38></i><i class=q34></i><i class=q30></i><i class=q26></i><i class=q21></i><i class=q17></i><i class=q15></i><i class=q13></i><i class=q11></i><i class=q11></i><i class=q11></i><i class=q11></i><i class=q11></i><i class=q11></i><i class=q11></i><i class=q12></i><i class=q13></i><i class=q14></i><i class=q16></i><i class=q18></i><i class=q20></i><i class=q22></i><i class=q25></i><i class=q28></i><i class=q30></i><i class=q33></i><i class=q35></i><i class=q38></i><i class=q40></i><i class=q42></i><i class=q44></i><i class=q46></i><i class=q47></i><i class=q49></i><i class=q50></i><i class=q51></i><i class=q51></i><i class=q53></i><i class=q54></i><i class=q55></i><i class=q57></i><i class=q58></i><i class=q60></i><i class=q61></i><i class=q62></i><i class=q64></i><i class=q48></i><i class=q46></i><i class=q44></i><i class=q42></i><i class=q39></i><i class=q35></i><i class=q31></i><i class=q27></i><i class=q23></i><i class=q19></i><i class=q17></i><i class=q15></i><i class=q13></i><i class=q12></i><i class=q12></i><i class=q11></i><i class=q11></i><i class=q11></i><i class=q11></i><i class=q12></i><i class=q13></i><i class=q13></i><i class=q14></i><i class=q16></i><i class=q17></i><i class=q19></i><i class=q21></i><i class=q23></i><i class=q25></i><i class=q27></i><i class=q29></i><i class=q31></i><i class=q33></i><i class=q36></i><i class=q38></i><i class=q40></i><i class=q41></i><i class=q43></i><i class=q44></i><i class=q44></i><i class=q45></i><i class=q46></i><i class=q47></i><i class=q48></i><i class=q50></i><i class=q51></i><i class=q52></i><i class=q53></i><i class=q54></i><i class=q55></i><i class=q48></i><i class=q46></i><i class=q45></i><i class=q43></i><i class=q39></i><i class=q36></i><i class=q33></i><i class=q29></i><i class=q25></i><i class=q21></i><i class=q19></i><i class=q17></i><i class=q15></i><i class=q14></i><i class=q13></i><i class=q12></i><i class=q12></i><i class=q12></i><i class=q12></i><i class=q12></i><i class=q13></i><i class=q13></i><i class=q14></i><i class=q14></i><i class=q15></i><i class=q16></i><i class=q18></i><i class=q19></i><i class=q21></i><i class=q22></i><i class=q24></i><i class=q25></i><i class=q28></i><i class=q30></i><i class=q32></i><i class=q33></i><i class=q35></i><i class=q36></i><i class=q37></i><i class=q38></i><i class=q39></i><i class=q39></i><i class=q40></i><i class=q41></i><i class=q42></i><i class=q42></i><i class=q43></i><i class=q44></i><i class=q44></i><i class=q45></i><i class=q48></i><i class=q47></i><i class=q46></i><i class=q44></i><i class=q41></i><i class=q39></i><i class=q36></i><i class=q32></i><i class=q29></i><i class=q25></i><i class=q23></i><i class=q21></i><i class=q18></i><i class=q17></i><i class=q17></i><i class=q16></i><i class=q15></i><i class=q15></i><i class=q15></i><i class=q15></i><i class=q15></i><i class=q15></i><i class=q16></i><i class=q16></i><i class=q17></i><i class=q17></i><i class=q18></i><i class=q19></i><i class=q20></i><i class=q21></i><i class=q21></i><i class=q22></i><i class=q24></i><i class=q25></i><i class=q26></i><i class=q27></i><i class=q28></i><i class=q29></i><i class=q29></i><i class=q30></i><i class=q31></i><i class=q31></i><i class=q31></i><i class=q31></i><i class=q32></i><i class=q32></i><i class=q32></i><i class=q32></i><i class=q33></i><i class=q33></i><i class=q49></i><i class=q48></i><i class=q47></i><i class=q46></i><i class=q44></i><i class=q42></i><i class=q40></i><i class=q37></i><i class=q34></i><i class=q31></i><i class=q29></i><i class=q27></i><i class=q25></i><i class=q24></i><i class=q23></i><i class=q22></i><i class=q22></i><i class=q21></i><i class=q21></i><i class=q20></i><i class=q20></i><i class=q20></i><i class=q20></i><i class=q20></i><i class=q20></i><i class=q21></i><i class=q21></i><i class=q21></i><i class=q21></i><i class=q21></i><i class=q22></i><i class=q22></i><i class=q22></i><i class=q23></i><i class=q23></i><i class=q23></i><i class=q24></i><i class=q24></i><i class=q24></i><i class=q24></i><i class=q25></i><i class=q25></i><i class=q25></i><i class=q24></i><i class=q24></i><i class=q24></i><i class=q24></i><i class=q24></i><i class=q24></i><i class=q24></i><i class=q51></i><i class=q50></i><i class=q49></i><i class=q48></i><i class=q47></i><i class=q47></i><i class=q45></i><i class=q44></i><i class=q42></i><i class=q41></i><i class=q39></i><i class=q37></i><i class=q36></i><i class=q35></i><i class=q34></i><i class=q33></i><i class=q32></i><i class=q32></i><i class=q31></i><i class=q30></i><i class=q29></i><i class=q28></i><i class=q28></i><i class=q28></i><i class=q28></i><i class=q28></i><i class=q27></i><i class=q26></i><i class=q26></i><i class=q26></i><i class=q25></i><i class=q25></i><i class=q24></i><i class=q24></i><i class=q23></i><i class=q23></i><i class=q23></i><i class=q23></i><i class=q23></i><i class=q23></i><i class=q23></i><i class=q23></i><i class=q22></i><i class=q22></i><i class=q21></i><i class=q21></i><i class=q21></i><i class=q20></i><i class=q20></i><i class=q20></i></div>
<div class=cb style="left:1208.00px;top:85.00px;width:18.00px;height:375.00px;background:repeating-linear-gradient(180deg,transparent 0 2.75px,rgba(255,255,255,.09) 2.75px 3.75px),linear-gradient(180deg,#ffff00 0.0%,#fcec00 2.5%,#f9db00 5.0%,#f5ca00 7.5%,#f2ba00 10.0%,#efab00 12.5%,#eb9d00 15.0%,#e88f00 17.5%,#e48300 20.0%,#e07700 22.5%,#dd6c00 25.0%,#d96100 27.5%,#d55700 30.0%,#d24e00 32.5%,#ce4600 35.0%,#ca3e00 37.5%,#c63700 40.0%,#c13000 42.5%,#bd2a00 45.0%,#b92500 47.5%,#b42000 50.0%,#b01b28 52.5%,#ab174f 55.0%,#a61474 57.5%,#a11096 60.0%,#9c0db4 62.5%,#970bce 65.0%,#9109e3 67.5%,#8c07f3 70.0%,#8605fc 72.5%,#8004ff 75.0%,#7903fc 77.5%,#7202f3 80.0%,#6b01e3 82.5%,#6301ce 85.0%,#5a00b4 87.5%,#510096 90.0%,#460074 92.5%,#39004f 95.0%,#280028 97.5%,#000000 100.0%)"></div>
<div class=hm style="left:1503.00px;top:83.00px;width:375.00px;height:375.00px"><i class=q127></i><i class=q126></i><i class=q126></i><i class=q123></i><i class=q119></i><i class=q114></i><i class=q109></i><i class=q103></i><i class=q98></i><i class=q92></i><i class=q91></i><i class=q89></i><i class=q87></i><i class=q87></i><i class=q87></i><i class=q87></i><i class=q88></i><i class=q88></i><i class=q89></i><i class=q91></i><i class=q93></i><i class=q96></i><i class=q100></i><i class=q106></i><i class=q111></i><i class=q117></i><i class=q124></i><i class=q130></i><i class=q136></i><i class=q139></i><i class=q142></i><i class=q146></i><i class=q149></i><i class=q152></i><i class=q156></i><i class=q160></i><i class=q164></i><i class=q168></i><i class=q172></i><i class=q176></i><i class=q180></i><i class=q185></i><i class=q190></i><i class=q195></i><i class=q199></i><i class=q203></i><i class=q207></i><i class=q211></i><i class=q215></i><i class=q219></i><i class=q127></i><i class=q127></i><i class=q126></i><i class=q124></i><i class=q119></i><i class=q115></i><i class=q110></i><i class=q105></i><i class=q99></i><i class=q94></i><i class=q92></i><i class=q90></i><i class=q88></i><i class=q88></i><i class=q88></i><i class=q87></i><i class=q88></i><i class=q88></i><i class=q89></i><i class=q91></i><i class=q93></i><i class=q95></i><i class=q100></i><i class=q105></i><i class=q110></i><i class=q116></i><i class=q123></i><i class=q129></i><i class=q135></i><i class=q138></i><i class=q142></i><i class=q145></i><i class=q148></i><i class=q152></i><i class=q155></i><i class=q159></i><i class=q163></i><i class=q167></i><i class=q171></i><i class=q175></i><i class=q179></i><i class=q184></i><i class=q189></i><i class=q193></i><i class=q198></i><i class=q202></i><i class=q206></i><i class=q210></i><i class=q214></i><i class=q218></i><i class=q127></i><i class=q127></i><i class=q126></i><i class=q124></i><i class=q120></i><i class=q116></i><i class=q111></i><i class=q106></i><i class=q101></i><i class=q96></i><i class=q93></i><i class=q91></i><i class=q89></i><i class=q88></i><i class=q88></i><i class=q88></i><i class=q88></i><i class=q89></i><i class=q89></i><i class=q91></i><i class=q93></i><i class=q95></i><i class=q99></i><i class=q104></i><i class=q109></i><i class=q115></i><i class=q121></i><i class=q128></i><i class=q133></i><i class=q137></i><i class=q141></i><i class=q144></i><i class=q148></i><i class=q151></i><i class=q155></i><i class=q159></i><i class=q163></i><i class=q166></i><i class=q170></i><i class=q174></i><i class=q178></i><i class=q183></i><i class=q188></i><i class=q192></i><i class=q196></i><i class=q200></i><i class=q205></i><i class=q209></i><i class=q213></i><i class=q217></i><i class=q127></i><i class=q127></i><i class=q127></i><i class=q125></i><i class=q121></i><i class=q117></i><i class=q113></i><i class=q107></i><i class=q102></i><i class=q97></i><i class=q95></i><i class=q92></i><i class=q90></i><i class=q89></i><i class=q89></i><i class=q88></i><i class=q88></i><i class=q89></i><i class=q89></i><i class=q91></i><i class=q93></i><i class=q95></i><i class=q98></i><i class=q103></i><i class=q108></i><i class=q114></i><i class=q120></i><i class=q127></i><i class=q132></i><i class=q136></i><i class=q140></i><i class=q143></i><i class=q147></i><i class=q151></i><i class=q155></i><i class=q158></i><i class=q162></i><i class=q165></i><i class=q170></i><i class=q174></i><i class=q178></i><i class=q182></i><i class=q187></i><i class=q191></i><i class=q195></i><i class=q199></i><i class=q203></i><i class=q207></i><i class=q211></i><i class=q216></i><i class=q127></i><i class=q127></i><i class=q127></i><i class=q125></i><i class=q122></i><i class=q118></i><i class=q114></i><i class=q109></i><i class=q104></i><i class=q99></i><i class=q96></i><i class=q93></i><i class=q90></i><i class=q90></i><i class=q89></i><i class=q89></i><i class=q89></i><i class=q89></i><i class=q89></i><i class=q91></i><i class=q93></i><i class=q94></i><i class=q98></i><i class=q102></i><i class=q107></i><i class=q113></i><i class=q119></i><i class=q126></i><i class=q131></i><i class=q135></i><i class=q139></i><i class=q143></i><i class=q146></i><i class=q150></i><i class=q154></i><i class=q158></i><i class=q161></i><i class=q165></i><i class=q169></i><i class=q173></i><i class=q177></i><i class=q181></i><i class=q185></i><i class=q190></i><i class=q194></i><i class=q198></i><i class=q202></i><i class=q206></i><i class=q210></i><i class=q214></i><i class=q127></i><i class=q127></i><i class=q127></i><i class=q126></i><i class=q122></i><i class=q119></i><i class=q115></i><i class=q110></i><i class=q105></i><i class=q100></i><i class=q97></i><i class=q94></i><i class=q91></i><i class=q90></i><i class=q90></i><i class=q89></i><i class=q89></i><i class=q89></i><i class=q89></i><i class=q91></i><i class=q92></i><i class=q94></i><i class=q97></i><i class=q102></i><i class=q106></i><i class=q111></i><i class=q118></i><i class=q124></i><i class=q130></i><i class=q134></i><i class=q138></i><i class=q142></i><i class=q146></i><i class=q150></i><i class=q154></i><i class=q157></i><i class=q160></i><i class=q164></i><i class=q168></i><i class=q172></i><i class=q176></i><i class=q180></i><i class=q184></i><i class=q189></i><i class=q193></i><i class=q197></i><i class=q201></i><i class=q205></i><i class=q209></i><i class=q213></i><i class=q127></i><i class=q128></i><i class=q128></i><i class=q126></i><i class=q123></i><i class=q120></i><i class=q117></i><i class=q112></i><i class=q107></i><i class=q102></i><i class=q99></i><i class=q96></i><i class=q92></i><i class=q91></i><i class=q90></i><i class=q90></i><i class=q89></i><i class=q89></i><i class=q89></i><i class=q90></i><i class=q92></i><i class=q94></i><i class=q97></i><i class=q101></i><i class=q105></i><i class=q110></i><i class=q116></i><i class=q123></i><i class=q128></i><i class=q132></i><i class=q137></i><i class=q141></i><i class=q145></i><i class=q149></i><i class=q153></i><i class=q156></i><i class=q160></i><i class=q163></i><i class=q167></i><i class=q171></i><i class=q175></i><i class=q179></i><i class=q183></i><i class=q187></i><i class=q191></i><i class=q196></i><i class=q200></i><i class=q204></i><i class=q208></i><i class=q212></i><i class=q128></i><i class=q128></i><i class=q128></i><i class=q127></i><i class=q124></i><i class=q121></i><i class=q118></i><i class=q114></i><i class=q109></i><i class=q105></i><i class=q101></i><i class=q98></i><i class=q94></i><i class=q93></i><i class=q92></i><i class=q90></i><i class=q90></i><i class=q90></i><i class=q89></i><i class=q90></i><i class=q92></i><i class=q93></i><i class=q96></i><i class=q100></i><i class=q103></i><i class=q108></i><i class=q114></i><i class=q120></i><i class=q125></i><i class=q130></i><i class=q135></i><i class=q139></i><i class=q144></i><i class=q148></i><i class=q152></i><i class=q155></i><i class=q158></i><i class=q162></i><i class=q166></i><i class=q170></i><i class=q174></i><i class=q178></i><i class=q182></i><i class=q186></i><i class=q190></i><i class=q194></i><i class=q198></i><i class=q202></i><i class=q207></i><i class=q211></i><i class=q128></i><i class=q128></i><i class=q128></i><i class=q127></i><i class=q125></i><i class=q123></i><i class=q120></i><i class=q116></i><i class=q111></i><i class=q107></i><i class=q104></i><i class=q100></i><i class=q96></i><i class=q95></i><i class=q93></i><i class=q91></i><i class=q91></i><i class=q90></i><i class=q89></i><i class=q90></i><i class=q92></i><i class=q93></i><i class=q95></i><i class=q99></i><i class=q102></i><i class=q106></i><i class=q111></i><i class=q117></i><i class=q122></i><i class=q127></i><i class=q133></i><i class=q138></i><i class=q142></i><i class=q146></i><i class=q151></i><i class=q154></i><i class=q157></i><i class=q160></i><i class=q165></i><i class=q169></i><i class=q173></i><i class=q177></i><i class=q181></i><i class=q185></i><i class=q189></i><i class=q193></i><i class=q197></i><i class=q201></i><i class=q205></i><i class=q209></i><i class=q128></i><i class=q128></i><i class=q128></i><i class=q127></i><i class=q125></i><i class=q124></i><i class=q122></i><i class=q118></i><i class=q113></i><i class=q109></i><i class=q106></i><i class=q102></i><i class=q98></i><i class=q96></i><i class=q94></i><i class=q92></i><i class=q91></i><i class=q90></i><i class=q89></i><i class=q90></i><i class=q91></i><i class=q93></i><i class=q95></i><i class=q98></i><i class=q100></i><i class=q104></i><i class=q109></i><i class=q114></i><i class=q119></i><i class=q125></i><i class=q131></i><i class=q136></i><i class=q141></i><i class=q145></i><i class=q149></i><i class=q153></i><i class=q156></i><i class=q159></i><i class=q163></i><i class=q167></i><i class=q171></i><i class=q176></i><i class=q180></i><i class=q184></i><i class=q188></i><i class=q192></i><i class=q196></i><i class=q200></i><i class=q204></i><i class=q208></i><i class=q127></i><i class=q128></i><i class=q128></i><i class=q127></i><i class=q126></i><i class=q125></i><i class=q123></i><i class=q120></i><i class=q116></i><i class=q112></i><i class=q108></i><i class=q104></i><i class=q100></i><i class=q98></i><i class=q96></i><i class=q93></i><i class=q92></i><i class=q91></i><i class=q90></i><i class=q90></i><i class=q91></i><i class=q92></i><i class=q94></i><i class=q97></i><i class=q99></i><i class=q102></i><i class=q107></i><i class=q111></i><i class=q116></i><i class=q122></i><i class=q129></i><i class=q134></i><i class=q139></i><i class=q144></i><i class=q148></i><i class=q151></i><i class=q155></i><i class=q158></i><i class=q162></i><i class=q166></i><i class=q170></i><i class=q174></i><i class=q178></i><i class=q182></i><i class=q187></i><i class=q191></i><i class=q195></i><i class=q199></i><i class=q203></i><i class=q207></i><i class=q128></i><i class=q128></i><i class=q128></i><i class=q127></i><i class=q127></i><i class=q126></i><i class=q125></i><i class=q121></i><i class=q118></i><i class=q114></i><i class=q110></i><i class=q106></i><i class=q103></i><i class=q100></i><i class=q97></i><i class=q94></i><i class=q92></i><i class=q91></i><i class=q90></i><i class=q90></i><i class=q91></i><i class=q92></i><i class=q93></i><i class=q95></i><i class=q98></i><i class=q100></i><i class=q104></i><i class=q108></i><i class=q113></i><i class=q120></i><i class=q127></i><i class=q133></i><i class=q138></i><i class=q142></i><i class=q147></i><i class=q150></i><i class=q154></i><i class=q157></i><i class=q161></i><i class=q165></i><i class=q169></i><i class=q173></i><i class=q177></i><i class=q181></i><i class=q185></i><i class=q189></i><i class=q193></i><i class=q198></i><i class=q202></i><i class=q206></i><i class=q128></i><i class=q128></i><i class=q128></i><i class=q128></i><i class=q128></i><i class=q128></i><i class=q127></i><i class=q123></i><i class=q120></i><i class=q117></i><i class=q113></i><i class=q109></i><i class=q105></i><i class=q101></i><i class=q98></i><i class=q95></i><i class=q93></i><i class=q91></i><i class=q90></i><i class=q90></i><i class=q91></i><i class=q91></i><i class=q93></i><i class=q94></i><i class=q96></i><i class=q99></i><i class=q102></i><i class=q105></i><i class=q110></i><i class=q117></i><i class=q125></i><i class=q131></i><i class=q136></i><i class=q141></i><i class=q146></i><i class=q149></i><i class=q152></i><i class=q156></i><i class=q160></i><i class=q164></i><i class=q168></i><i class=q172></i><i class=q176></i><i class=q180></i><i class=q184></i><i class=q188></i><i class=q192></i><i class=q196></i><i class=q200></i><i class=q205></i><i class=q128></i><i class=q128></i><i class=q128></i><i class=q128></i><i class=q128></i><i class=q128></i><i class=q127></i><i class=q124></i><i class=q121></i><i class=q118></i><i class=q115></i><i class=q111></i><i class=q107></i><i class=q104></i><i class=q100></i><i class=q97></i><i class=q95></i><i class=q93></i><i class=q91></i><i class=q91></i><i class=q91></i><i class=q92></i><i class=q93></i><i class=q94></i><i class=q96></i><i class=q98></i><i class=q101></i><i class=q104></i><i class=q109></i><i class=q116></i><i class=q122></i><i class=q129></i><i class=q134></i><i class=q139></i><i class=q144></i><i class=q147></i><i class=q151></i><i class=q154></i><i class=q158></i><i class=q162></i><i class=q167></i><i class=q171></i><i class=q175></i><i class=q179></i><i class=q183></i><i class=q187></i><i class=q191></i><i class=q195></i><i class=q199></i><i class=q203></i><i class=q128></i><i class=q128></i><i class=q128></i><i class=q128></i><i class=q128></i><i class=q128></i><i class=q127></i><i class=q125></i><i class=q123></i><i class=q120></i><i class=q117></i><i class=q113></i><i class=q109></i><i class=q106></i><i class=q102></i><i class=q99></i><i class=q97></i><i class=q94></i><i class=q92></i><i class=q92></i><i class=q92></i><i class=q92></i><i class=q93></i><i class=q94></i><i class=q95></i><i class=q98></i><i class=q101></i><i class=q104></i><i class=q108></i><i class=q114></i><i class=q120></i><i class=q126></i><i class=q132></i><i class=q137></i><i class=q142></i><i class=q146></i><i class=q149></i><i class=q153></i><i class=q157></i><i class=q161></i><i class=q165></i><i class=q169></i><i class=q174></i><i class=q178></i><i class=q182></i><i class=q186></i><i class=q190></i><i class=q194></i><i class=q198></i><i class=q202></i><i class=q128></i><i class=q128></i><i class=q128></i><i class=q128></i><i class=q128></i><i class=q128></i><i class=q127></i><i class=q125></i><i class=q124></i><i class=q122></i><i class=q118></i><i class=q115></i><i class=q112></i><i class=q108></i><i class=q105></i><i class=q101></i><i class=q98></i><i class=q96></i><i class=q94></i><i class=q93></i><i class=q92></i><i class=q92></i><i class=q93></i><i class=q94></i><i class=q95></i><i class=q97></i><i class=q100></i><i class=q103></i><i class=q107></i><i class=q113></i><i class=q118></i><i class=q124></i><i class=q129></i><i class=q135></i><i class=q140></i><i class=q144></i><i class=q148></i><i class=q152></i><i class=q156></i><i class=q160></i><i class=q164></i><i class=q168></i><i class=q172></i><i class=q176></i><i class=q180></i><i class=q185></i><i class=q189></i><i class=q193></i><i class=q197></i><i class=q201></i><i class=q127></i><i class=q128></i><i class=q128></i><i class=q128></i><i class=q128></i><i class=q128></i><i class=q127></i><i class=q126></i><i class=q125></i><i class=q123></i><i class=q120></i><i class=q117></i><i class=q114></i><i class=q111></i><i class=q107></i><i class=q103></i><i class=q100></i><i class=q97></i><i class=q95></i><i class=q94></i><i class=q93></i><i class=q92></i><i class=q92></i><i class=q94></i><i class=q95></i><i class=q97></i><i class=q99></i><i class=q102></i><i class=q106></i><i class=q111></i><i class=q116></i><i class=q122></i><i class=q127></i><i class=q132></i><i class=q138></i><i class=q142></i><i class=q146></i><i class=q151></i><i class=q155></i><i class=q159></i><i class=q163></i><i class=q167></i><i class=q171></i><i class=q175></i><i class=q179></i><i class=q183></i><i class=q187></i><i class=q191></i><i class=q196></i><i class=q200></i><i class=q128></i><i class=q128></i><i class=q128></i><i class=q128></i><i class=q128></i><i class=q128></i><i class=q127></i><i class=q127></i><i class=q126></i><i class=q125></i><i class=q122></i><i class=q120></i><i class=q117></i><i class=q113></i><i class=q109></i><i class=q105></i><i class=q102></i><i class=q99></i><i class=q96></i><i class=q95></i><i class=q93></i><i class=q92></i><i class=q92></i><i class=q93></i><i class=q94></i><i class=q96></i><i class=q99></i><i class=q101></i><i class=q105></i><i class=q110></i><i class=q114></i><i class=q119></i><i class=q125></i><i class=q130></i><i class=q136></i><i class=q140></i><i class=q145></i><i class=q149></i><i class=q154></i><i class=q158></i><i class=q162></i><i class=q166></i><i class=q170></i><i class=q174></i><i class=q178></i><i class=q182></i><i class=q186></i><i class=q190></i><i class=q194></i><i class=q198></i><i class=q127></i><i class=q128></i><i class=q128></i><i class=q128></i><i class=q128></i><i class=q128></i><i class=q127></i><i class=q127></i><i class=q127></i><i class=q127></i><i class=q124></i><i class=q122></i><i class=q119></i><i class=q115></i><i class=q111></i><i class=q107></i><i class=q104></i><i class=q101></i><i class=q97></i><i class=q95></i><i class=q94></i><i class=q92></i><i class=q92></i><i class=q93></i><i class=q94></i><i class=q96></i><i class=q98></i><i class=q101></i><i class=q104></i><i class=q108></i><i class=q112></i><i class=q117></i><i class=q122></i><i class=q128></i><i class=q134></i><i class=q139></i><i class=q143></i><i class=q148></i><i class=q152></i><i class=q156></i><i class=q160></i><i class=q165></i><i class=q169></i><i class=q173></i><i class=q177></i><i class=q181></i><i class=q185></i><i class=q189></i><i class=q193></i><i class=q197></i><i class=q128></i><i class=q128></i><i class=q128></i><i class=q128></i><i class=q128></i><i class=q128></i><i class=q128></i><i class=q128></i><i class=q128></i><i class=q127></i><i class=q125></i><i class=q123></i><i class=q121></i><i class=q117></i><i class=q113></i><i class=q109></i><i class=q106></i><i class=q103></i><i class=q100></i><i class=q97></i><i class=q96></i><i class=q94></i><i class=q94></i><i class=q94></i><i class=q95></i><i class=q96></i><i class=q98></i><i class=q101></i><i class=q104></i><i class=q108></i><i class=q112></i><i class=q116></i><i class=q122></i><i class=q128></i><i class=q134></i><i class=q138></i><i class=q143></i><i class=q148></i><i class=q152></i><i class=q156></i><i class=q160></i><i class=q164></i><i class=q168></i><i class=q172></i><i class=q176></i><i class=q180></i><i class=q184></i><i class=q188></i><i class=q192></i><i class=q196></i><i class=q128></i><i class=q128></i><i class=q128></i><i class=q128></i><i class=q128></i><i class=q128></i><i class=q128></i><i class=q128></i><i class=q128></i><i class=q127></i><i class=q126></i><i class=q124></i><i class=q122></i><i class=q119></i><i class=q115></i><i class=q112></i><i class=q109></i><i class=q105></i><i class=q102></i><i class=q100></i><i class=q98></i><i class=q96></i><i class=q95></i><i class=q96></i><i class=q96></i><i class=q97></i><i class=q99></i><i class=q101></i><i class=q104></i><i class=q108></i><i class=q112></i><i class=q117></i><i class=q123></i><i class=q128></i><i class=q134></i><i class=q139></i><i class=q143></i><i class=q148></i><i class=q152></i><i class=q156></i><i class=q159></i><i class=q163></i><i class=q167></i><i class=q171></i><i class=q175></i><i class=q179></i><i class=q183></i><i class=q187></i><i class=q191></i><i class=q195></i><i class=q128></i><i class=q128></i><i class=q128></i><i class=q128></i><i class=q128></i><i class=q128></i><i class=q128></i><i class=q128></i><i class=q128></i><i class=q127></i><i class=q126></i><i class=q125></i><i class=q123></i><i class=q120></i><i class=q117></i><i class=q114></i><i class=q111></i><i class=q108></i><i class=q104></i><i class=q102></i><i class=q100></i><i class=q98></i><i class=q97></i><i class=q97></i><i class=q97></i><i class=q97></i><i class=q99></i><i class=q101></i><i class=q104></i><i class=q108></i><i class=q113></i><i class=q117></i><i class=q123></i><i class=q129></i><i class=q134></i><i class=q139></i><i class=q143></i><i class=q148></i><i class=q152></i><i class=q155></i><i class=q159></i><i class=q163></i><i class=q167></i><i class=q170></i><i class=q174></i><i class=q178></i><i class=q181></i><i class=q185></i><i class=q189></i><i class=q193></i><i class=q128></i><i class=q128></i><i class=q128></i><i class=q128></i><i class=q128></i><i class=q128></i><i class=q128></i><i class=q128></i><i class=q128></i><i class=q127></i><i class=q126></i><i class=q125></i><i class=q124></i><i class=q122></i><i class=q119></i><i class=q117></i><i class=q113></i><i class=q110></i><i class=q107></i><i class=q104></i><i class=q102></i><i class=q100></i><i class=q99></i><i class=q98></i><i class=q98></i><i class=q98></i><i class=q100></i><i class=q101></i><i class=q104></i><i class=q108></i><i class=q113></i><i class=q118></i><i class=q123></i><i class=q129></i><i class=q135></i><i class=q139></i><i class=q143></i><i class=q148></i><i class=q151></i><i class=q155></i><i class=q159></i><i class=q162></i><i class=q166></i><i class=q169></i><i class=q173></i><i class=q177></i><i class=q180></i><i class=q184></i><i class=q188></i><i class=q192></i><i class=q127></i><i class=q128></i><i class=q128></i><i class=q128></i><i class=q128></i><i class=q128></i><i class=q128></i><i class=q128></i><i class=q128></i><i class=q127></i><i class=q127></i><i class=q126></i><i class=q126></i><i class=q123></i><i class=q121></i><i class=q119></i><i class=q116></i><i class=q113></i><i class=q109></i><i class=q107></i><i class=q105></i><i class=q102></i><i class=q101></i><i class=q100></i><i class=q99></i><i class=q99></i><i class=q100></i><i class=q101></i><i class=q104></i><i class=q108></i><i class=q113></i><i class=q118></i><i class=q124></i><i class=q130></i><i class=q135></i><i class=q139></i><i class=q144></i><i class=q148></i><i class=q151></i><i class=q155></i><i class=q158></i><i class=q162></i><i class=q165></i><i class=q169></i><i class=q172></i><i class=q176></i><i class=q179></i><i class=q183></i><i class=q187></i><i class=q191></i><i class=q128></i><i class=q128></i><i class=q128></i><i class=q128></i><i class=q128></i><i class=q128></i><i class=q128></i><i class=q128></i><i class=q128></i><i class=q127></i><i class=q127></i><i class=q127></i><i class=q127></i><i class=q125></i><i class=q123></i><i class=q121></i><i class=q118></i><i class=q115></i><i class=q112></i><i class=q109></i><i class=q107></i><i class=q104></i><i class=q103></i><i class=q101></i><i class=q100></i><i class=q100></i><i class=q100></i><i class=q101></i><i class=q104></i><i class=q109></i><i class=q113></i><i class=q119></i><i class=q124></i><i class=q130></i><i class=q135></i><i class=q140></i><i class=q144></i><i class=q148></i><i class=q151></i><i class=q155></i><i class=q158></i><i class=q161></i><i class=q165></i><i class=q168></i><i class=q171></i><i class=q175></i><i class=q178></i><i class=q182></i><i class=q186></i><i class=q190></i><i class=q128></i><i class=q128></i><i class=q128></i><i class=q128></i><i class=q128></i><i class=q128></i><i class=q128></i><i class=q128></i><i class=q128></i><i class=q128></i><i class=q128></i><i class=q128></i><i class=q128></i><i class=q126></i><i class=q125></i><i class=q123></i><i class=q121></i><i class=q118></i><i class=q115></i><i class=q112></i><i class=q110></i><i class=q107></i><i class=q105></i><i class=q104></i><i class=q102></i><i class=q102></i><i class=q103></i><i class=q104></i><i class=q106></i><i class=q111></i><i class=q115></i><i class=q120></i><i class=q126></i><i class=q131></i><i class=q136></i><i class=q140></i><i class=q144></i><i class=q148></i><i class=q151></i><i class=q155></i><i class=q158></i><i class=q161></i><i class=q164></i><i class=q167></i><i class=q170></i><i class=q173></i><i class=q177></i><i class=q180></i><i class=q184></i><i class=q188></i><i class=q128></i><i class=q128></i><i class=q128></i><i class=q128></i><i class=q128></i><i class=q128></i><i class=q127></i><i class=q128></i><i class=q128></i><i class=q128></i><i class=q128></i><i class=q128></i><i class=q128></i><i class=q127></i><i class=q126></i><i class=q125></i><i class=q123></i><i class=q120></i><i class=q118></i><i class=q115></i><i class=q113></i><i class=q110></i><i class=q109></i><i class=q107></i><i class=q106></i><i class=q106></i><i class=q107></i><i class=q109></i><i class=q111></i><i class=q115></i><i class=q119></i><i class=q123></i><i class=q128></i><i class=q133></i><i class=q138></i><i class=q142></i><i class=q145></i><i class=q149></i><i class=q152></i><i class=q155></i><i class=q158></i><i class=q161></i><i class=q163></i><i class=q166></i><i class=q169></i><i class=q172></i><i class=q175></i><i class=q178></i><i class=q182></i><i class=q186></i><i class=q128></i><i class=q128></i><i class=q128></i><i class=q128></i><i class=q128></i><i class=q128></i><i class=q128></i><i class=q128></i><i class=q128></i><i class=q128></i><i class=q128></i><i class=q128></i><i class=q128></i><i class=q127></i><i class=q127></i><i class=q127></i><i class=q125></i><i class=q123></i><i class=q121></i><i class=q119></i><i class=q116></i><i class=q114></i><i class=q112></i><i class=q111></i><i class=q110></i><i class=q110></i><i class=q112></i><i class=q113></i><i class=q116></i><i class=q119></i><i class=q123></i><i class=q127></i><i class=q131></i><i class=q135></i><i class=q140></i><i class=q143></i><i class=q147></i><i class=q150></i><i class=q153></i><i class=q155></i><i class=q158></i><i class=q160></i><i class=q163></i><i class=q166></i><i class=q168></i><i class=q171></i><i class=q173></i><i class=q177></i><i class=q180></i><i class=q183></i><i class=q128></i><i class=q128></i><i class=q128></i><i class=q128></i><i class=q128></i><i class=q128></i><i class=q128></i><i class=q128></i><i class=q128></i><i class=q128></i><i class=q128></i><i class=q128></i><i class=q128></i><i class=q128></i><i class=q128></i><i class=q128></i><i class=q126></i><i class=q124></i><i class=q123></i><i class=q121></i><i class=q118></i><i class=q116></i><i class=q114></i><i class=q113></i><i class=q113></i><i class=q113></i><i class=q114></i><i class=q116></i><i class=q118></i><i class=q121></i><i class=q124></i><i class=q128></i><i class=q131></i><i class=q135></i><i class=q139></i><i class=q142></i><i class=q146></i><i class=q149></i><i class=q151></i><i class=q154></i><i class=q156></i><i class=q158></i><i class=q161></i><i class=q163></i><i class=q165></i><i class=q168></i><i class=q170></i><i class=q173></i><i class=q176></i><i class=q179></i><i class=q128></i><i class=q128></i><i class=q128></i><i class=q128></i><i class=q128></i><i class=q128></i><i class=q128></i><i class=q128></i><i class=q128></i><i class=q128></i><i class=q128></i><i class=q128></i><i class=q128></i><i class=q128></i><i class=q128></i><i class=q128></i><i class=q126></i><i class=q124></i><i class=q123></i><i class=q121></i><i class=q118></i><i class=q116></i><i class=q115></i><i class=q114></i><i class=q113></i><i class=q113></i><i class=q114></i><i class=q115></i><i class=q117></i><i class=q119></i><i class=q122></i><i class=q122></i><i class=q99></i><i class=q86></i><i class=q79></i><i class=q79></i><i class=q79></i><i class=q79></i><i class=q79></i><i class=q79></i><i class=q79></i><i class=q80></i><i class=q81></i><i class=q81></i><i class=q82></i><i class=q83></i><i class=q84></i><i class=q85></i><i class=q85></i><i class=q86></i><i class=q127></i><i class=q128></i><i class=q128></i><i class=q128></i><i class=q128></i><i class=q128></i><i class=q128></i><i class=q128></i><i class=q128></i><i class=q128></i><i class=q128></i><i class=q128></i><i class=q128></i><i class=q121></i><i class=q114></i><i class=q104></i><i class=q95></i><i class=q85></i><i class=q77></i><i class=q72></i><i class=q67></i><i class=q65></i><i class=q64></i><i class=q64></i><i class=q64></i><i class=q64></i><i class=q64></i><i class=q64></i><i class=q64></i><i class=q64></i><i class=q65></i><i class=q65></i><i class=q65></i><i class=q65></i><i class=q65></i><i class=q65></i><i class=q65></i><i class=q65></i><i class=q65></i><i class=q65></i><i class=q65></i><i class=q66></i><i class=q66></i><i class=q66></i><i class=q66></i><i class=q66></i><i class=q66></i><i class=q66></i><i class=q66></i><i class=q66></i><i class=q128></i><i class=q128></i><i class=q128></i><i class=q128></i><i class=q128></i><i class=q128></i><i class=q128></i><i class=q128></i><i class=q128></i><i class=q128></i><i class=q128></i><i class=q128></i><i class=q123></i><i class=q116></i><i class=q106></i><i class=q93></i><i class=q78></i><i class=q61></i><i class=q45></i><i class=q30></i><i class=q20></i><i class=q15></i><i class=q13></i><i class=q13></i><i class=q13></i><i class=q14></i><i class=q16></i><i class=q19></i><i class=q22></i><i class=q25></i><i class=q28></i><i class=q31></i><i class=q35></i><i class=q37></i><i class=q38></i><i class=q40></i><i class=q42></i><i class=q43></i><i class=q45></i><i class=q47></i><i class=q48></i><i class=q49></i><i class=q50></i><i class=q51></i><i class=q52></i><i class=q52></i><i class=q53></i><i class=q54></i><i class=q55></i><i class=q56></i><i class=q127></i><i class=q128></i><i class=q128></i><i class=q128></i><i class=q128></i><i class=q128></i><i class=q128></i><i class=q128></i><i class=q128></i><i class=q128></i><i class=q128></i><i class=q128></i><i class=q128></i><i class=q121></i><i class=q114></i><i class=q104></i><i class=q95></i><i class=q85></i><i class=q77></i><i class=q72></i><i class=q67></i><i class=q65></i><i class=q63></i><i class=q63></i><i class=q62></i><i class=q62></i><i class=q61></i><i class=q61></i><i class=q60></i><i class=q60></i><i class=q59></i><i class=q59></i><i class=q59></i><i class=q59></i><i class=q59></i><i class=q59></i><i class=q59></i><i class=q59></i><i class=q59></i><i class=q59></i><i class=q60></i><i class=q60></i><i class=q61></i><i class=q61></i><i class=q62></i><i class=q62></i><i class=q62></i><i class=q63></i><i class=q63></i><i class=q64></i><i class=q128></i><i class=q128></i><i class=q128></i><i class=q128></i><i class=q128></i><i class=q128></i><i class=q128></i><i class=q128></i><i class=q128></i><i class=q127></i><i class=q128></i><i class=q128></i><i class=q128></i><i class=q128></i><i class=q128></i><i class=q128></i><i class=q126></i><i class=q124></i><i class=q123></i><i class=q121></i><i class=q119></i><i class=q118></i><i class=q116></i><i class=q114></i><i class=q113></i><i class=q112></i><i class=q111></i><i class=q111></i><i class=q111></i><i class=q112></i><i class=q113></i><i class=q115></i><i class=q117></i><i class=q113></i><i class=q94></i><i class=q93></i><i class=q91></i><i class=q89></i><i class=q89></i><i class=q90></i><i class=q90></i><i class=q90></i><i class=q90></i><i class=q90></i><i class=q91></i><i class=q91></i><i class=q91></i><i class=q91></i><i class=q91></i><i class=q92></i><i class=q128></i><i class=q128></i><i class=q128></i><i class=q128></i><i class=q128></i><i class=q128></i><i class=q128></i><i class=q128></i><i class=q128></i><i class=q128></i><i class=q128></i><i class=q128></i><i class=q128></i><i class=q128></i><i class=q128></i><i class=q128></i><i class=q126></i><i class=q124></i><i class=q123></i><i class=q121></i><i class=q119></i><i class=q118></i><i class=q116></i><i class=q114></i><i class=q113></i><i class=q111></i><i class=q111></i><i class=q110></i><i class=q110></i><i class=q110></i><i class=q111></i><i class=q112></i><i class=q114></i><i class=q115></i><i class=q118></i><i class=q119></i><i class=q121></i><i class=q122></i><i class=q124></i><i class=q126></i><i class=q127></i><i class=q128></i><i class=q128></i><i class=q128></i><i class=q128></i><i class=q128></i><i class=q129></i><i class=q130></i><i class=q131></i><i class=q132></i><i class=q127></i><i class=q128></i><i class=q128></i><i class=q128></i><i class=q128></i><i class=q128></i><i class=q128></i><i class=q128></i><i class=q128></i><i class=q128></i><i class=q128></i><i class=q128></i><i class=q128></i><i class=q128></i><i class=q128></i><i class=q128></i><i class=q126></i><i class=q124></i><i class=q122></i><i class=q120></i><i class=q118></i><i class=q116></i><i class=q114></i><i class=q112></i><i class=q110></i><i class=q109></i><i class=q108></i><i class=q107></i><i class=q106></i><i class=q106></i><i class=q107></i><i class=q107></i><i class=q108></i><i class=q109></i><i class=q113></i><i class=q115></i><i class=q117></i><i class=q120></i><i class=q122></i><i class=q125></i><i class=q127></i><i class=q128></i><i class=q128></i><i class=q128></i><i class=q129></i><i class=q129></i><i class=q129></i><i class=q129></i><i class=q130></i><i class=q130></i><i class=q127></i><i class=q128></i><i class=q128></i><i class=q128></i><i class=q128></i><i class=q128></i><i class=q128></i><i class=q128></i><i class=q128></i><i class=q128></i><i class=q128></i><i class=q128></i><i class=q128></i><i class=q128></i><i class=q128></i><i class=q128></i><i class=q126></i><i class=q123></i><i class=q121></i><i class=q119></i><i class=q117></i><i class=q115></i><i class=q112></i><i class=q110></i><i class=q108></i><i class=q106></i><i class=q105></i><i class=q104></i><i class=q103></i><i class=q102></i><i class=q102></i><i class=q102></i><i class=q102></i><i class=q103></i><i class=q104></i><i class=q105></i><i class=q106></i><i class=q107></i><i class=q108></i><i class=q110></i><i class=q112></i><i class=q113></i><i class=q115></i><i class=q117></i><i class=q119></i><i class=q120></i><i class=q122></i><i class=q124></i><i class=q126></i><i class=q128></i><i class=q128></i><i class=q128></i><i class=q128></i><i class=q128></i><i class=q128></i><i class=q128></i><i class=q128></i><i class=q128></i><i class=q128></i><i class=q128></i><i class=q128></i><i class=q128></i><i class=q128></i><i class=q128></i><i class=q128></i><i class=q128></i><i class=q125></i><i class=q123></i><i class=q120></i><i class=q118></i><i class=q116></i><i class=q113></i><i class=q111></i><i class=q108></i><i class=q106></i><i class=q104></i><i class=q102></i><i class=q100></i><i class=q99></i><i class=q98></i><i class=q98></i><i class=q97></i><i class=q97></i><i class=q97></i><i class=q97></i><i class=q98></i><i class=q99></i><i class=q99></i><i class=q101></i><i class=q103></i><i class=q104></i><i class=q107></i><i class=q109></i><i class=q112></i><i class=q114></i><i class=q116></i><i class=q119></i><i class=q121></i><i class=q124></i><i class=q126></i><i class=q128></i><i class=q128></i><i class=q128></i><i class=q128></i><i class=q128></i><i class=q128></i><i class=q128></i><i class=q128></i><i class=q128></i><i class=q128></i><i class=q128></i><i class=q128></i><i class=q128></i><i class=q127></i><i class=q127></i><i class=q127></i><i class=q125></i><i class=q122></i><i class=q120></i><i class=q117></i><i class=q115></i><i class=q112></i><i class=q109></i><i class=q107></i><i class=q105></i><i class=q103></i><i class=q101></i><i class=q99></i><i class=q98></i><i class=q97></i><i class=q96></i><i class=q96></i><i class=q96></i><i class=q96></i><i class=q96></i><i class=q96></i><i class=q97></i><i class=q98></i><i class=q99></i><i class=q101></i><i class=q102></i><i class=q104></i><i class=q107></i><i class=q109></i><i class=q111></i><i class=q113></i><i class=q116></i><i class=q118></i><i class=q121></i><i class=q123></i><i class=q128></i><i class=q128></i><i class=q128></i><i class=q128></i><i class=q128></i><i class=q128></i><i class=q128></i><i class=q128></i><i class=q128></i><i class=q128></i><i class=q128></i><i class=q128></i><i class=q128></i><i class=q127></i><i class=q126></i><i class=q126></i><i class=q124></i><i class=q121></i><i class=q119></i><i class=q116></i><i class=q113></i><i class=q111></i><i class=q108></i><i class=q106></i><i class=q103></i><i class=q101></i><i class=q100></i><i class=q98></i><i class=q97></i><i class=q96></i><i class=q95></i><i class=q94></i><i class=q94></i><i class=q94></i><i class=q95></i><i class=q95></i><i class=q96></i><i class=q96></i><i class=q98></i><i class=q99></i><i class=q100></i><i class=q102></i><i class=q104></i><i class=q106></i><i class=q108></i><i class=q110></i><i class=q113></i><i class=q115></i><i class=q117></i><i class=q120></i><i class=q128></i><i class=q128></i><i class=q128></i><i class=q128></i><i class=q128></i><i class=q128></i><i class=q127></i><i class=q128></i><i class=q128></i><i class=q128></i><i class=q128></i><i class=q128></i><i class=q128></i><i class=q127></i><i class=q126></i><i class=q125></i><i class=q123></i><i class=q120></i><i class=q118></i><i class=q115></i><i class=q112></i><i class=q110></i><i class=q107></i><i class=q105></i><i class=q102></i><i class=q100></i><i class=q98></i><i class=q97></i><i class=q95></i><i class=q95></i><i class=q94></i><i class=q93></i><i class=q93></i><i class=q93></i><i class=q93></i><i class=q94></i><i class=q94></i><i class=q95></i><i class=q96></i><i class=q97></i><i class=q98></i><i class=q100></i><i class=q102></i><i class=q103></i><i class=q105></i><i class=q107></i><i class=q109></i><i class=q112></i><i class=q114></i><i class=q116></i><i class=q128></i><i class=q128></i><i class=q128></i><i class=q128></i><i class=q128></i><i class=q128></i><i class=q128></i><i class=q128></i><i class=q128></i><i class=q128></i><i class=q128></i><i class=q128></i><i class=q128></i><i class=q126></i><i class=q125></i><i class=q124></i><i class=q122></i><i class=q120></i><i class=q117></i><i class=q114></i><i class=q111></i><i class=q108></i><i class=q106></i><i class=q103></i><i class=q101></i><i class=q99></i><i class=q97></i><i class=q96></i><i class=q94></i><i class=q93></i><i class=q93></i><i class=q92></i><i class=q92></i><i class=q92></i><i class=q92></i><i class=q92></i><i class=q93></i><i class=q93></i><i class=q94></i><i class=q95></i><i class=q96></i><i class=q98></i><i class=q99></i><i class=q100></i><i class=q102></i><i class=q104></i><i class=q106></i><i class=q108></i><i class=q111></i><i class=q113></i><i class=q128></i><i class=q128></i><i class=q128></i><i class=q128></i><i class=q128></i><i class=q128></i><i class=q128></i><i class=q128></i><i class=q128></i><i class=q128></i><i class=q128></i><i class=q128></i><i class=q128></i><i class=q126></i><i class=q125></i><i class=q124></i><i class=q121></i><i class=q119></i><i class=q116></i><i class=q113></i><i class=q110></i><i class=q107></i><i class=q105></i><i class=q102></i><i class=q100></i><i class=q98></i><i class=q96></i><i class=q94></i><i class=q93></i><i class=q92></i><i class=q91></i><i class=q91></i><i class=q91></i><i class=q91></i><i class=q91></i><i class=q91></i><i class=q91></i><i class=q91></i><i class=q92></i><i class=q93></i><i class=q94></i><i class=q95></i><i class=q96></i><i class=q98></i><i class=q99></i><i class=q101></i><i class=q103></i><i class=q105></i><i class=q108></i><i class=q110></i><i class=q127></i><i class=q128></i><i class=q128></i><i class=q128></i><i class=q128></i><i class=q128></i><i class=q128></i><i class=q128></i><i class=q128></i><i class=q128></i><i class=q128></i><i class=q128></i><i class=q128></i><i class=q126></i><i class=q124></i><i class=q123></i><i class=q120></i><i class=q118></i><i class=q116></i><i class=q113></i><i class=q109></i><i class=q106></i><i class=q103></i><i class=q101></i><i class=q98></i><i class=q96></i><i class=q95></i><i class=q93></i><i class=q92></i><i class=q91></i><i class=q90></i><i class=q90></i><i class=q90></i><i class=q90></i><i class=q90></i><i class=q90></i><i class=q90></i><i class=q90></i><i class=q91></i><i class=q91></i><i class=q92></i><i class=q93></i><i class=q94></i><i class=q95></i><i class=q96></i><i class=q98></i><i class=q100></i><i class=q102></i><i class=q104></i><i class=q107></i><i class=q128></i><i class=q128></i><i class=q128></i><i class=q128></i><i class=q128></i><i class=q128></i><i class=q128></i><i class=q128></i><i class=q128></i><i class=q128></i><i class=q128></i><i class=q128></i><i class=q128></i><i class=q126></i><i class=q124></i><i class=q123></i><i class=q120></i><i class=q118></i><i class=q116></i><i class=q113></i><i class=q110></i><i class=q106></i><i class=q104></i><i class=q101></i><i class=q99></i><i class=q97></i><i class=q95></i><i class=q93></i><i class=q92></i><i class=q91></i><i class=q90></i><i class=q90></i><i class=q90></i><i class=q90></i><i class=q90></i><i class=q90></i><i class=q90></i><i class=q90></i><i class=q90></i><i class=q91></i><i class=q92></i><i class=q93></i><i class=q94></i><i class=q94></i><i class=q96></i><i class=q98></i><i class=q99></i><i class=q101></i><i class=q104></i><i class=q106></i><i class=q128></i><i class=q128></i><i class=q128></i><i class=q128></i><i class=q128></i><i class=q128></i><i class=q128></i><i class=q128></i><i class=q128></i><i class=q128></i><i class=q128></i><i class=q128></i><i class=q128></i><i class=q126></i><i class=q124></i><i class=q123></i><i class=q120></i><i class=q118></i><i class=q116></i><i class=q113></i><i class=q110></i><i class=q107></i><i class=q104></i><i class=q102></i><i class=q100></i><i class=q98></i><i class=q96></i><i class=q94></i><i class=q93></i><i class=q92></i><i class=q91></i><i class=q91></i><i class=q90></i><i class=q90></i><i class=q90></i><i class=q90></i><i class=q90></i><i class=q90></i><i class=q91></i><i class=q92></i><i class=q92></i><i class=q93></i><i class=q94></i><i class=q95></i><i class=q96></i><i class=q98></i><i class=q100></i><i class=q102></i><i class=q104></i><i class=q107></i><i class=q128></i><i class=q128></i><i class=q128></i><i class=q128></i><i class=q128></i><i class=q128></i><i class=q128></i><i class=q128></i><i class=q128></i><i class=q128></i><i class=q128></i><i class=q128></i><i class=q128></i><i class=q126></i><i class=q124></i><i class=q123></i><i class=q121></i><i class=q118></i><i class=q116></i><i class=q114></i><i class=q111></i><i class=q108></i><i class=q105></i><i class=q103></i><i class=q100></i><i class=q98></i><i class=q97></i><i class=q95></i><i class=q94></i><i class=q93></i><i class=q92></i><i class=q91></i><i class=q91></i><i class=q91></i><i class=q90></i><i class=q90></i><i class=q90></i><i class=q90></i><i class=q91></i><i class=q92></i><i class=q93></i><i class=q94></i><i class=q94></i><i class=q95></i><i class=q97></i><i class=q98></i><i class=q100></i><i class=q102></i><i class=q105></i><i class=q107></i><i class=q128></i><i class=q128></i><i class=q128></i><i class=q128></i><i class=q128></i><i class=q128></i><i class=q128></i><i class=q128></i><i class=q128></i><i class=q128></i><i class=q128></i><i class=q128></i><i class=q128></i><i class=q126></i><i class=q124></i><i class=q123></i><i class=q121></i><i class=q119></i><i class=q117></i><i class=q114></i><i class=q111></i><i class=q109></i><i class=q106></i><i class=q104></i><i class=q101></i><i class=q99></i><i class=q98></i><i class=q96></i><i class=q95></i><i class=q94></i><i class=q93></i><i class=q92></i><i class=q92></i><i class=q91></i><i class=q91></i><i class=q91></i><i class=q91></i><i class=q91></i><i class=q92></i><i class=q92></i><i class=q93></i><i class=q94></i><i class=q95></i><i class=q96></i><i class=q97></i><i class=q99></i><i class=q100></i><i class=q103></i><i class=q105></i><i class=q107></i><i class=q127></i><i class=q128></i><i class=q128></i><i class=q128></i><i class=q128></i><i class=q128></i><i class=q128></i><i class=q128></i><i class=q128></i><i class=q128></i><i class=q128></i><i class=q128></i><i class=q128></i><i class=q126></i><i class=q124></i><i class=q123></i><i class=q121></i><i class=q119></i><i class=q117></i><i class=q115></i><i class=q112></i><i class=q109></i><i class=q107></i><i class=q104></i><i class=q102></i><i class=q100></i><i class=q98></i><i class=q97></i><i class=q95></i><i class=q95></i><i class=q94></i><i class=q93></i><i class=q92></i><i class=q92></i><i class=q91></i><i class=q91></i><i class=q91></i><i class=q91></i><i class=q92></i><i class=q93></i><i class=q94></i><i class=q94></i><i class=q95></i><i class=q96></i><i class=q98></i><i class=q99></i><i class=q101></i><i class=q103></i><i class=q105></i><i class=q108></i><i class=q128></i><i class=q128></i><i class=q128></i><i class=q128></i><i class=q128></i><i class=q128></i><i class=q128></i><i class=q128></i><i class=q128></i><i class=q128></i><i class=q128></i><i class=q128></i><i class=q128></i><i class=q126></i><i class=q124></i><i class=q123></i><i class=q121></i><i class=q119></i><i class=q118></i><i class=q115></i><i class=q113></i><i class=q110></i><i class=q108></i><i class=q105></i><i class=q103></i><i class=q101></i><i class=q99></i><i class=q98></i><i class=q96></i><i class=q95></i><i class=q95></i><i class=q94></i><i class=q93></i><i class=q92></i><i class=q92></i><i class=q92></i><i class=q92></i><i class=q92></i><i class=q92></i><i class=q93></i><i class=q94></i><i class=q95></i><i class=q96></i><i class=q96></i><i class=q98></i><i class=q100></i><i class=q101></i><i class=q103></i><i class=q106></i><i class=q108></i></div>
<div class=cb style="left:1887.00px;top:83.00px;width:19.00px;height:375.00px;background:repeating-linear-gradient(180deg,transparent 0 2.75px,rgba(255,255,255,.09) 2.75px 3.75px),linear-gradient(180deg,#ffff00 0.0%,#fcec00 2.5%,#f9db00 5.0%,#f5ca00 7.5%,#f2ba00 10.0%,#efab00 12.5%,#eb9d00 15.0%,#e88f00 17.5%,#e48300 20.0%,#e07700 22.5%,#dd6c00 25.0%,#d96100 27.5%,#d55700 30.0%,#d24e00 32.5%,#ce4600 35.0%,#ca3e00 37.5%,#c63700 40.0%,#c13000 42.5%,#bd2a00 45.0%,#b92500 47.5%,#b42000 50.0%,#b01b28 52.5%,#ab174f 55.0%,#a61474 57.5%,#a11096 60.0%,#9c0db4 62.5%,#970bce 65.0%,#9109e3 67.5%,#8c07f3 70.0%,#8605fc 72.5%,#8004ff 75.0%,#7903fc 77.5%,#7202f3 80.0%,#6b01e3 82.5%,#6301ce 85.0%,#5a00b4 87.5%,#510096 90.0%,#460074 92.5%,#39004f 95.0%,#280028 97.5%,#000000 100.0%)"></div>
<svg width="2006" height="557" viewBox="0 0 2006 557">
<path d="M150.5 84.0V459.0M165.5 84.0V459.0M180.5 84.0V459.0M195.5 84.0V459.0M210.5 84.0V459.0M225.5 84.0V459.0M240.5 84.0V459.0M255.5 84.0V459.0M270.5 84.0V459.0M285.5 84.0V459.0M300.5 84.0V459.0M315.5 84.0V459.0M330.5 84.0V459.0M345.5 84.0V459.0M360.5 84.0V459.0M375.5 84.0V459.0M390.5 84.0V459.0M405.5 84.0V459.0M420.5 84.0V459.0M435.5 84.0V459.0M450.5 84.0V459.0M465.5 84.0V459.0M480.5 84.0V459.0M495.5 84.0V459.0M135.0 91.5H510.0M135.0 106.5H510.0M135.0 121.5H510.0M135.0 136.5H510.0M135.0 151.5H510.0M135.0 166.5H510.0M135.0 181.5H510.0M135.0 196.5H510.0M135.0 211.5H510.0M135.0 226.5H510.0M135.0 241.5H510.0M135.0 256.5H510.0M135.0 271.5H510.0M135.0 286.5H510.0M135.0 301.5H510.0M135.0 316.5H510.0M135.0 331.5H510.0M135.0 346.5H510.0M135.0 361.5H510.0M135.0 376.5H510.0M135.0 391.5H510.0M135.0 406.5H510.0M135.0 421.5H510.0M135.0 436.5H510.0M135.0 451.5H510.0" stroke="rgba(255,255,255,0.12)" stroke-width="1" fill="none"/>
<circle cx="142.5" cy="399.0" r="3.3" fill="#fff"/>
<circle cx="150.0" cy="429.0" r="3.3" fill="#fff"/>
<circle cx="150.0" cy="421.5" r="3.3" fill="#fff"/>
<circle cx="150.0" cy="414.0" r="3.3" fill="#fff"/>
<circle cx="150.0" cy="406.5" r="3.3" fill="#fff"/>
<circle cx="157.5" cy="436.5" r="3.3" fill="#fff"/>
<circle cx="165.0" cy="436.5" r="3.3" fill="#fff"/>
<circle cx="180.0" cy="436.5" r="3.3" fill="#fff"/>
<circle cx="202.5" cy="436.5" r="3.3" fill="#fff"/>
<circle cx="210.0" cy="436.5" r="3.3" fill="#fff"/>
<circle cx="217.5" cy="436.5" r="3.3" fill="#fff"/>
<circle cx="225.0" cy="436.5" r="3.3" fill="#fff"/>
<circle cx="232.5" cy="436.5" r="3.3" fill="#fff"/>
<circle cx="240.0" cy="436.5" r="3.3" fill="#fff"/>
<circle cx="247.5" cy="436.5" r="3.3" fill="#fff"/>
<circle cx="255.0" cy="436.5" r="3.3" fill="#fff"/>
<circle cx="262.5" cy="436.5" r="3.3" fill="#fff"/>
<circle cx="270.0" cy="436.5" r="3.3" fill="#fff"/>
<circle cx="277.5" cy="436.5" r="3.3" fill="#fff"/>
<circle cx="285.0" cy="436.5" r="3.3" fill="#fff"/>
<circle cx="172.5" cy="444.0" r="3.3" fill="#fff"/>
<circle cx="180.0" cy="444.0" r="3.3" fill="#fff"/>
<circle cx="187.5" cy="444.0" r="3.3" fill="#fff"/>
<circle cx="195.0" cy="444.0" r="3.3" fill="#fff"/>
<circle cx="202.5" cy="444.0" r="3.3" fill="#fff"/>
<circle cx="270.0" cy="429.0" r="3.3" fill="#fff"/>
<circle cx="285.0" cy="429.0" r="3.3" fill="#fff"/>
<circle cx="292.5" cy="429.0" r="3.3" fill="#fff"/>
<circle cx="300.0" cy="429.0" r="3.3" fill="#fff"/>
<circle cx="307.5" cy="429.0" r="3.3" fill="#fff"/>
<circle cx="315.0" cy="429.0" r="3.3" fill="#fff"/>
<circle cx="322.5" cy="429.0" r="3.3" fill="#fff"/>
<circle cx="330.0" cy="429.0" r="3.3" fill="#fff"/>
<circle cx="337.5" cy="429.0" r="3.3" fill="#fff"/>
<circle cx="345.0" cy="429.0" r="3.3" fill="#fff"/>
<circle cx="352.5" cy="429.0" r="3.3" fill="#fff"/>
<circle cx="360.0" cy="429.0" r="3.3" fill="#fff"/>
<circle cx="367.5" cy="429.0" r="3.3" fill="#fff"/>
<circle cx="375.0" cy="429.0" r="3.3" fill="#fff"/>
<circle cx="382.5" cy="429.0" r="3.3" fill="#fff"/>
<circle cx="382.5" cy="421.5" r="3.3" fill="#fff"/>
<circle cx="390.0" cy="421.5" r="3.3" fill="#fff"/>
<circle cx="397.5" cy="421.5" r="3.3" fill="#fff"/>
<circle cx="405.0" cy="421.5" r="3.3" fill="#fff"/>
<circle cx="412.5" cy="421.5" r="3.3" fill="#fff"/>
<circle cx="420.0" cy="421.5" r="3.3" fill="#fff"/>
<circle cx="427.5" cy="421.5" r="3.3" fill="#fff"/>
<circle cx="435.0" cy="421.5" r="3.3" fill="#fff"/>
<circle cx="442.5" cy="421.5" r="3.3" fill="#fff"/>
<circle cx="450.0" cy="421.5" r="3.3" fill="#fff"/>
<circle cx="457.5" cy="421.5" r="3.3" fill="#fff"/>
<circle cx="465.0" cy="421.5" r="3.3" fill="#fff"/>
<circle cx="472.5" cy="421.5" r="3.3" fill="#fff"/>
<circle cx="480.0" cy="421.5" r="3.3" fill="#fff"/>
<circle cx="487.5" cy="421.5" r="3.3" fill="#fff"/>
<circle cx="487.5" cy="414.0" r="3.3" fill="#fff"/>
<circle cx="495.0" cy="414.0" r="3.3" fill="#fff"/>
<circle cx="502.5" cy="414.0" r="3.3" fill="#fff"/>
<circle cx="510.0" cy="414.0" r="3.3" fill="#fff"/>
<path d="M135.0 459.0v-9M135.0 84.0v9M181.9 459.0v-9M181.9 84.0v9M228.8 459.0v-9M228.8 84.0v9M275.6 459.0v-9M275.6 84.0v9M322.5 459.0v-9M322.5 84.0v9M369.4 459.0v-9M369.4 84.0v9M416.2 459.0v-9M416.2 84.0v9M463.1 459.0v-9M463.1 84.0v9M510.0 459.0v-9M510.0 84.0v9M135.0 459.0h9M510.0 459.0h-9M135.0 412.1h9M510.0 412.1h-9M135.0 365.2h9M510.0 365.2h-9M135.0 318.4h9M510.0 318.4h-9M135.0 271.5h9M510.0 271.5h-9M135.0 224.6h9M510.0 224.6h-9M135.0 177.8h9M510.0 177.8h-9M135.0 130.9h9M510.0 130.9h-9M135.0 84.0h9M510.0 84.0h-9M520.0 84.0h6M539.0 84.0h-6M520.0 146.5h6M539.0 146.5h-6M520.0 209.0h6M539.0 209.0h-6M520.0 271.5h6M539.0 271.5h-6M520.0 334.0h6M539.0 334.0h-6M520.0 396.5h6M539.0 396.5h-6M520.0 459.0h6M539.0 459.0h-6" stroke="#000" stroke-width="2" fill="none"/>
<rect x="135.0" y="84.0" width="375.0" height="375.0" stroke="#000" stroke-width="2" fill="none"/>
<rect x="520.0" y="84.0" width="19.0" height="375.0" stroke="#000" stroke-width="2" fill="none"/>
<text x="122.9" y="469.65" text-anchor="end" style="font-family:'Liberation Sans',sans-serif;font-size:32px">0</text>
<text x="122.9" y="422.77" text-anchor="end" style="font-family:'Liberation Sans',sans-serif;font-size:32px">1</text>
<text x="122.9" y="375.90" text-anchor="end" style="font-family:'Liberation Sans',sans-serif;font-size:32px">2</text>
<text x="122.9" y="329.02" text-anchor="end" style="font-family:'Liberation Sans',sans-serif;font-size:32px">3</text>
<text x="122.9" y="282.15" text-anchor="end" style="font-family:'Liberation Sans',sans-serif;font-size:32px">4</text>
<text x="122.9" y="235.28" text-anchor="end" style="font-family:'Liberation Sans',sans-serif;font-size:32px">5</text>
<text x="122.9" y="188.40" text-anchor="end" style="font-family:'Liberation Sans',sans-serif;font-size:32px">6</text>
<text x="122.9" y="141.53" text-anchor="end" style="font-family:'Liberation Sans',sans-serif;font-size:32px">7</text>
<text x="122.9" y="94.65" text-anchor="end" style="font-family:'Liberation Sans',sans-serif;font-size:32px">8</text>
<text x="139.3" y="490.1" text-anchor="middle" style="font-family:'Liberation Sans',sans-serif;font-size:32px">0</text>
<text x="186.2" y="490.1" text-anchor="middle" style="font-family:'Liberation Sans',sans-serif;font-size:32px">2</text>
<text x="233.1" y="490.1" text-anchor="middle" style="font-family:'Liberation Sans',sans-serif;font-size:32px">4</text>
<text x="279.9" y="490.1" text-anchor="middle" style="font-family:'Liberation Sans',sans-serif;font-size:32px">6</text>
<text x="326.8" y="490.1" text-anchor="middle" style="font-family:'Liberation Sans',sans-serif;font-size:32px">8</text>
<text x="373.7" y="490.1" text-anchor="middle" style="font-family:'Liberation Sans',sans-serif;font-size:32px">10</text>
<text x="420.6" y="490.1" text-anchor="middle" style="font-family:'Liberation Sans',sans-serif;font-size:32px">12</text>
<text x="467.4" y="490.1" text-anchor="middle" style="font-family:'Liberation Sans',sans-serif;font-size:32px">14</text>
<text x="514.3" y="490.1" text-anchor="middle" style="font-family:'Liberation Sans',sans-serif;font-size:32px">16</text>
<text x="555.6" y="94.65" style="font-family:'Liberation Sans',sans-serif;font-size:32px">0.015</text>
<text x="555.6" y="157.15" style="font-family:'Liberation Sans',sans-serif;font-size:32px">0.01</text>
<text x="555.6" y="219.65" style="font-family:'Liberation Sans',sans-serif;font-size:32px">0.005</text>
<text x="555.6" y="282.15" style="font-family:'Liberation Sans',sans-serif;font-size:32px">0</text>
<text x="547.8" y="344.65" style="font-family:'Liberation Sans',sans-serif;font-size:32px">-0.005</text>
<text x="547.8" y="407.15" style="font-family:'Liberation Sans',sans-serif;font-size:32px">-0.01</text>
<text x="547.8" y="469.65" style="font-family:'Liberation Sans',sans-serif;font-size:32px">-0.015</text>
<path d="M831.0 85.0V460.0M846.0 85.0V460.0M861.0 85.0V460.0M876.0 85.0V460.0M891.0 85.0V460.0M906.0 85.0V460.0M921.0 85.0V460.0M936.0 85.0V460.0M951.0 85.0V460.0M966.0 85.0V460.0M981.0 85.0V460.0M996.0 85.0V460.0M1011.0 85.0V460.0M1026.0 85.0V460.0M1041.0 85.0V460.0M1056.0 85.0V460.0M1071.0 85.0V460.0M1086.0 85.0V460.0M1101.0 85.0V460.0M1116.0 85.0V460.0M1131.0 85.0V460.0M1146.0 85.0V460.0M1161.0 85.0V460.0M1176.0 85.0V460.0M1191.0 85.0V460.0M823.0 92.5H1198.0M823.0 107.5H1198.0M823.0 122.5H1198.0M823.0 137.5H1198.0M823.0 152.5H1198.0M823.0 167.5H1198.0M823.0 182.5H1198.0M823.0 197.5H1198.0M823.0 212.5H1198.0M823.0 227.5H1198.0M823.0 242.5H1198.0M823.0 257.5H1198.0M823.0 272.5H1198.0M823.0 287.5H1198.0M823.0 302.5H1198.0M823.0 317.5H1198.0M823.0 332.5H1198.0M823.0 347.5H1198.0M823.0 362.5H1198.0M823.0 377.5H1198.0M823.0 392.5H1198.0M823.0 407.5H1198.0M823.0 422.5H1198.0M823.0 437.5H1198.0M823.0 452.5H1198.0" stroke="rgba(255,255,255,0.12)" stroke-width="1" fill="none"/>
<circle cx="830.5" cy="85.0" r="3.3" fill="#fff"/>
<circle cx="838.0" cy="85.0" r="3.3" fill="#fff"/>
<circle cx="830.5" cy="122.5" r="3.3" fill="#fff"/>
<circle cx="830.5" cy="130.0" r="3.3" fill="#fff"/>
<circle cx="838.0" cy="130.0" r="3.3" fill="#fff"/>
<circle cx="830.5" cy="145.0" r="3.3" fill="#fff"/>
<circle cx="830.5" cy="152.5" r="3.3" fill="#fff"/>
<circle cx="838.0" cy="152.5" r="3.3" fill="#fff"/>
<circle cx="943.0" cy="85.0" r="3.3" fill="#fff"/>
<circle cx="943.0" cy="92.5" r="3.3" fill="#fff"/>
<circle cx="943.0" cy="100.0" r="3.3" fill="#fff"/>
<circle cx="950.5" cy="107.5" r="3.3" fill="#fff"/>
<circle cx="950.5" cy="115.0" r="3.3" fill="#fff"/>
<circle cx="958.0" cy="122.5" r="3.3" fill="#fff"/>
<circle cx="958.0" cy="130.0" r="3.3" fill="#fff"/>
<circle cx="958.0" cy="137.5" r="3.3" fill="#fff"/>
<circle cx="965.5" cy="145.0" r="3.3" fill="#fff"/>
<circle cx="965.5" cy="152.5" r="3.3" fill="#fff"/>
<circle cx="973.0" cy="160.0" r="3.3" fill="#fff"/>
<circle cx="973.0" cy="167.5" r="3.3" fill="#fff"/>
<circle cx="973.0" cy="175.0" r="3.3" fill="#fff"/>
<circle cx="973.0" cy="182.5" r="3.3" fill="#fff"/>
<circle cx="980.5" cy="175.0" r="3.3" fill="#fff"/>
<circle cx="980.5" cy="227.5" r="3.3" fill="#fff"/>
<circle cx="980.5" cy="220.0" r="3.3" fill="#fff"/>
<circle cx="980.5" cy="212.5" r="3.3" fill="#fff"/>
<circle cx="980.5" cy="205.0" r="3.3" fill="#fff"/>
<circle cx="980.5" cy="197.5" r="3.3" fill="#fff"/>
<circle cx="980.5" cy="190.0" r="3.3" fill="#fff"/>
<circle cx="988.0" cy="257.5" r="3.3" fill="#fff"/>
<circle cx="988.0" cy="250.0" r="3.3" fill="#fff"/>
<circle cx="988.0" cy="242.5" r="3.3" fill="#fff"/>
<circle cx="988.0" cy="235.0" r="3.3" fill="#fff"/>
<circle cx="995.5" cy="317.5" r="3.3" fill="#fff"/>
<circle cx="995.5" cy="310.0" r="3.3" fill="#fff"/>
<circle cx="995.5" cy="302.5" r="3.3" fill="#fff"/>
<circle cx="995.5" cy="295.0" r="3.3" fill="#fff"/>
<circle cx="995.5" cy="287.5" r="3.3" fill="#fff"/>
<circle cx="995.5" cy="280.0" r="3.3" fill="#fff"/>
<circle cx="995.5" cy="272.5" r="3.3" fill="#fff"/>
<circle cx="995.5" cy="265.0" r="3.3" fill="#fff"/>
<circle cx="1003.0" cy="295.0" r="3.3" fill="#fff"/>
<circle cx="1003.0" cy="340.0" r="3.3" fill="#fff"/>
<circle cx="1003.0" cy="332.5" r="3.3" fill="#fff"/>
<circle cx="1003.0" cy="325.0" r="3.3" fill="#fff"/>
<circle cx="1010.5" cy="370.0" r="3.3" fill="#fff"/>
<circle cx="1010.5" cy="362.5" r="3.3" fill="#fff"/>
<circle cx="1010.5" cy="355.0" r="3.3" fill="#fff"/>
<circle cx="1010.5" cy="347.5" r="3.3" fill="#fff"/>
<circle cx="1018.0" cy="377.5" r="3.3" fill="#fff"/>
<circle cx="1025.5" cy="377.5" r="3.3" fill="#fff"/>
<circle cx="1025.5" cy="385.0" r="3.3" fill="#fff"/>
<circle cx="1033.0" cy="385.0" r="3.3" fill="#fff"/>
<circle cx="1025.5" cy="392.5" r="3.3" fill="#fff"/>
<circle cx="1033.0" cy="392.5" r="3.3" fill="#fff"/>
<circle cx="1040.5" cy="400.0" r="3.3" fill="#fff"/>
<circle cx="1048.0" cy="407.5" r="3.3" fill="#fff"/>
<circle cx="1055.5" cy="415.0" r="3.3" fill="#fff"/>
<circle cx="1063.0" cy="415.0" r="3.3" fill="#fff"/>
<circle cx="1070.5" cy="415.0" r="3.3" fill="#fff"/>
<circle cx="1078.0" cy="415.0" r="3.3" fill="#fff"/>
<circle cx="1085.5" cy="422.5" r="3.3" fill="#fff"/>
<circle cx="1093.0" cy="422.5" r="3.3" fill="#fff"/>
<circle cx="1100.5" cy="422.5" r="3.3" fill="#fff"/>
<circle cx="1108.0" cy="422.5" r="3.3" fill="#fff"/>
<circle cx="1115.5" cy="430.0" r="3.3" fill="#fff"/>
<circle cx="1123.0" cy="430.0" r="3.3" fill="#fff"/>
<circle cx="1130.5" cy="430.0" r="3.3" fill="#fff"/>
<circle cx="1138.0" cy="430.0" r="3.3" fill="#fff"/>
<circle cx="1145.5" cy="430.0" r="3.3" fill="#fff"/>
<circle cx="1153.0" cy="430.0" r="3.3" fill="#fff"/>
<circle cx="1160.5" cy="430.0" r="3.3" fill="#fff"/>
<circle cx="1168.0" cy="430.0" r="3.3" fill="#fff"/>
<circle cx="1175.5" cy="437.5" r="3.3" fill="#fff"/>
<circle cx="1183.0" cy="437.5" r="3.3" fill="#fff"/>
<circle cx="1190.5" cy="437.5" r="3.3" fill="#fff"/>
<circle cx="1198.0" cy="437.5" r="3.3" fill="#fff"/>
<path d="M823.0 460.0v-9M823.0 85.0v9M869.9 460.0v-9M869.9 85.0v9M916.8 460.0v-9M916.8 85.0v9M963.6 460.0v-9M963.6 85.0v9M1010.5 460.0v-9M1010.5 85.0v9M1057.4 460.0v-9M1057.4 85.0v9M1104.2 460.0v-9M1104.2 85.0v9M1151.1 460.0v-9M1151.1 85.0v9M1198.0 460.0v-9M1198.0 85.0v9M823.0 460.0h9M1198.0 460.0h-9M823.0 413.1h9M1198.0 413.1h-9M823.0 366.2h9M1198.0 366.2h-9M823.0 319.4h9M1198.0 319.4h-9M823.0 272.5h9M1198.0 272.5h-9M823.0 225.6h9M1198.0 225.6h-9M823.0 178.8h9M1198.0 178.8h-9M823.0 131.9h9M1198.0 131.9h-9M823.0 85.0h9M1198.0 85.0h-9M1208.0 85.0h6M1226.0 85.0h-6M1208.0 147.5h6M1226.0 147.5h-6M1208.0 210.0h6M1226.0 210.0h-6M1208.0 272.5h6M1226.0 272.5h-6M1208.0 335.0h6M1226.0 335.0h-6M1208.0 397.5h6M1226.0 397.5h-6M1208.0 460.0h6M1226.0 460.0h-6" stroke="#000" stroke-width="2" fill="none"/>
<rect x="823.0" y="85.0" width="375.0" height="375.0" stroke="#000" stroke-width="2" fill="none"/>
<rect x="1208.0" y="85.0" width="18.0" height="375.0" stroke="#000" stroke-width="2" fill="none"/>
<text x="811.0" y="470.65" text-anchor="end" style="font-family:'Liberation Sans',sans-serif;font-size:32px">0</text>
<text x="811.0" y="423.77" text-anchor="end" style="font-family:'Liberation Sans',sans-serif;font-size:32px">1</text>
<text x="811.0" y="376.90" text-anchor="end" style="font-family:'Liberation Sans',sans-serif;font-size:32px">2</text>
<text x="811.0" y="330.02" text-anchor="end" style="font-family:'Liberation Sans',sans-serif;font-size:32px">3</text>
<text x="811.0" y="283.15" text-anchor="end" style="font-family:'Liberation Sans',sans-serif;font-size:32px">4</text>
<text x="811.0" y="236.28" text-anchor="end" style="font-family:'Liberation Sans',sans-serif;font-size:32px">5</text>
<text x="811.0" y="189.40" text-anchor="end" style="font-family:'Liberation Sans',sans-serif;font-size:32px">6</text>
<text x="811.0" y="142.53" text-anchor="end" style="font-family:'Liberation Sans',sans-serif;font-size:32px">7</text>
<text x="811.0" y="95.65" text-anchor="end" style="font-family:'Liberation Sans',sans-serif;font-size:32px">8</text>
<text x="827.3" y="491.1" text-anchor="middle" style="font-family:'Liberation Sans',sans-serif;font-size:32px">0</text>
<text x="874.2" y="491.1" text-anchor="middle" style="font-family:'Liberation Sans',sans-serif;font-size:32px">2</text>
<text x="921.0" y="491.1" text-anchor="middle" style="font-family:'Liberation Sans',sans-serif;font-size:32px">4</text>
<text x="967.9" y="491.1" text-anchor="middle" style="font-family:'Liberation Sans',sans-serif;font-size:32px">6</text>
<text x="1014.8" y="491.1" text-anchor="middle" style="font-family:'Liberation Sans',sans-serif;font-size:32px">8</text>
<text x="1061.7" y="491.1" text-anchor="middle" style="font-family:'Liberation Sans',sans-serif;font-size:32px">10</text>
<text x="1108.5" y="491.1" text-anchor="middle" style="font-family:'Liberation Sans',sans-serif;font-size:32px">12</text>
<text x="1155.4" y="491.1" text-anchor="middle" style="font-family:'Liberation Sans',sans-serif;font-size:32px">14</text>
<text x="1202.3" y="491.1" text-anchor="middle" style="font-family:'Liberation Sans',sans-serif;font-size:32px">16</text>
<text x="1242.6" y="95.65" style="font-family:'Liberation Sans',sans-serif;font-size:32px">0.05</text>
<text x="1242.6" y="158.15" style="font-family:'Liberation Sans',sans-serif;font-size:32px">0.04</text>
<text x="1242.6" y="220.65" style="font-family:'Liberation Sans',sans-serif;font-size:32px">0.03</text>
<text x="1242.6" y="283.15" style="font-family:'Liberation Sans',sans-serif;font-size:32px">0.02</text>
<text x="1242.6" y="345.65" style="font-family:'Liberation Sans',sans-serif;font-size:32px">0.01</text>
<text x="1242.6" y="408.15" style="font-family:'Liberation Sans',sans-serif;font-size:32px">0</text>
<text x="1234.8" y="470.65" style="font-family:'Liberation Sans',sans-serif;font-size:32px">-0.01</text>
<path d="M1518.5 83.0V458.0M1533.5 83.0V458.0M1548.5 83.0V458.0M1563.5 83.0V458.0M1578.5 83.0V458.0M1593.5 83.0V458.0M1608.5 83.0V458.0M1623.5 83.0V458.0M1638.5 83.0V458.0M1653.5 83.0V458.0M1668.5 83.0V458.0M1683.5 83.0V458.0M1698.5 83.0V458.0M1713.5 83.0V458.0M1728.5 83.0V458.0M1743.5 83.0V458.0M1758.5 83.0V458.0M1773.5 83.0V458.0M1788.5 83.0V458.0M1803.5 83.0V458.0M1818.5 83.0V458.0M1833.5 83.0V458.0M1848.5 83.0V458.0M1863.5 83.0V458.0M1503.0 98.0H1878.0M1503.0 113.0H1878.0M1503.0 128.0H1878.0M1503.0 143.0H1878.0M1503.0 158.0H1878.0M1503.0 173.0H1878.0M1503.0 188.0H1878.0M1503.0 203.0H1878.0M1503.0 218.0H1878.0M1503.0 233.0H1878.0M1503.0 248.0H1878.0M1503.0 263.0H1878.0M1503.0 278.0H1878.0M1503.0 293.0H1878.0M1503.0 308.0H1878.0M1503.0 323.0H1878.0M1503.0 338.0H1878.0M1503.0 353.0H1878.0M1503.0 368.0H1878.0M1503.0 383.0H1878.0M1503.0 398.0H1878.0M1503.0 413.0H1878.0M1503.0 428.0H1878.0M1503.0 443.0H1878.0" stroke="rgba(255,255,255,0.12)" stroke-width="1" fill="none"/>
<circle cx="1510.5" cy="248.0" r="3.3" fill="#fff"/>
<circle cx="1510.5" cy="255.5" r="3.3" fill="#fff"/>
<circle cx="1518.0" cy="255.5" r="3.3" fill="#fff"/>
<circle cx="1510.5" cy="263.0" r="3.3" fill="#fff"/>
<circle cx="1510.5" cy="270.5" r="3.3" fill="#fff"/>
<circle cx="1518.0" cy="270.5" r="3.3" fill="#fff"/>
<circle cx="1510.5" cy="278.0" r="3.3" fill="#fff"/>
<circle cx="1518.0" cy="278.0" r="3.3" fill="#fff"/>
<circle cx="1518.0" cy="285.5" r="3.3" fill="#fff"/>
<circle cx="1525.5" cy="285.5" r="3.3" fill="#fff"/>
<circle cx="1518.0" cy="293.0" r="3.3" fill="#fff"/>
<circle cx="1518.0" cy="300.5" r="3.3" fill="#fff"/>
<circle cx="1525.5" cy="308.0" r="3.3" fill="#fff"/>
<circle cx="1533.0" cy="308.0" r="3.3" fill="#fff"/>
<circle cx="1540.5" cy="308.0" r="3.3" fill="#fff"/>
<circle cx="1570.5" cy="308.0" r="3.3" fill="#fff"/>
<circle cx="1548.0" cy="315.5" r="3.3" fill="#fff"/>
<circle cx="1555.5" cy="315.5" r="3.3" fill="#fff"/>
<circle cx="1570.5" cy="315.5" r="3.3" fill="#fff"/>
<circle cx="1578.0" cy="315.5" r="3.3" fill="#fff"/>
<circle cx="1540.5" cy="323.0" r="3.3" fill="#fff"/>
<circle cx="1548.0" cy="323.0" r="3.3" fill="#fff"/>
<circle cx="1555.5" cy="323.0" r="3.3" fill="#fff"/>
<circle cx="1563.0" cy="323.0" r="3.3" fill="#fff"/>
<circle cx="1518.0" cy="330.5" r="3.3" fill="#fff"/>
<circle cx="1533.0" cy="330.5" r="3.3" fill="#fff"/>
<circle cx="1540.5" cy="330.5" r="3.3" fill="#fff"/>
<circle cx="1518.0" cy="338.0" r="3.3" fill="#fff"/>
<circle cx="1525.5" cy="338.0" r="3.3" fill="#fff"/>
<circle cx="1533.0" cy="338.0" r="3.3" fill="#fff"/>
<circle cx="1518.0" cy="345.5" r="3.3" fill="#fff"/>
<circle cx="1510.5" cy="353.0" r="3.3" fill="#fff"/>
<circle cx="1518.0" cy="353.0" r="3.3" fill="#fff"/>
<circle cx="1510.5" cy="360.5" r="3.3" fill="#fff"/>
<circle cx="1510.5" cy="368.0" r="3.3" fill="#fff"/>
<circle cx="1518.0" cy="368.0" r="3.3" fill="#fff"/>
<circle cx="1698.0" cy="83.0" r="3.3" fill="#fff"/>
<circle cx="1698.0" cy="90.5" r="3.3" fill="#fff"/>
<circle cx="1705.5" cy="90.5" r="3.3" fill="#fff"/>
<circle cx="1698.0" cy="98.0" r="3.3" fill="#fff"/>
<circle cx="1705.5" cy="105.5" r="3.3" fill="#fff"/>
<circle cx="1713.0" cy="113.0" r="3.3" fill="#fff"/>
<circle cx="1713.0" cy="120.5" r="3.3" fill="#fff"/>
<circle cx="1713.0" cy="128.0" r="3.3" fill="#fff"/>
<circle cx="1720.5" cy="135.5" r="3.3" fill="#fff"/>
<circle cx="1728.0" cy="143.0" r="3.3" fill="#fff"/>
<circle cx="1728.0" cy="150.5" r="3.3" fill="#fff"/>
<circle cx="1735.5" cy="158.0" r="3.3" fill="#fff"/>
<circle cx="1735.5" cy="165.5" r="3.3" fill="#fff"/>
<circle cx="1735.5" cy="173.0" r="3.3" fill="#fff"/>
<circle cx="1743.0" cy="180.5" r="3.3" fill="#fff"/>
<circle cx="1743.0" cy="188.0" r="3.3" fill="#fff"/>
<circle cx="1743.0" cy="195.5" r="3.3" fill="#fff"/>
<circle cx="1750.5" cy="203.0" r="3.3" fill="#fff"/>
<circle cx="1750.5" cy="210.5" r="3.3" fill="#fff"/>
<circle cx="1758.0" cy="255.5" r="3.3" fill="#fff"/>
<circle cx="1758.0" cy="248.0" r="3.3" fill="#fff"/>
<circle cx="1758.0" cy="240.5" r="3.3" fill="#fff"/>
<circle cx="1758.0" cy="233.0" r="3.3" fill="#fff"/>
<circle cx="1758.0" cy="225.5" r="3.3" fill="#fff"/>
<circle cx="1758.0" cy="218.0" r="3.3" fill="#fff"/>
<circle cx="1750.5" cy="255.5" r="3.3" fill="#fff"/>
<circle cx="1750.5" cy="263.0" r="3.3" fill="#fff"/>
<circle cx="1743.0" cy="270.5" r="3.3" fill="#fff"/>
<circle cx="1750.5" cy="270.5" r="3.3" fill="#fff"/>
<circle cx="1735.5" cy="278.0" r="3.3" fill="#fff"/>
<circle cx="1743.0" cy="278.0" r="3.3" fill="#fff"/>
<circle cx="1720.5" cy="285.5" r="3.3" fill="#fff"/>
<circle cx="1728.0" cy="285.5" r="3.3" fill="#fff"/>
<circle cx="1735.5" cy="285.5" r="3.3" fill="#fff"/>
<circle cx="1705.5" cy="293.0" r="3.3" fill="#fff"/>
<circle cx="1713.0" cy="293.0" r="3.3" fill="#fff"/>
<circle cx="1720.5" cy="293.0" r="3.3" fill="#fff"/>
<circle cx="1743.0" cy="293.0" r="3.3" fill="#fff"/>
<circle cx="1750.5" cy="293.0" r="3.3" fill="#fff"/>
<circle cx="1758.0" cy="293.0" r="3.3" fill="#fff"/>
<circle cx="1765.5" cy="293.0" r="3.3" fill="#fff"/>
<circle cx="1773.0" cy="293.0" r="3.3" fill="#fff"/>
<circle cx="1780.5" cy="293.0" r="3.3" fill="#fff"/>
<circle cx="1788.0" cy="293.0" r="3.3" fill="#fff"/>
<circle cx="1795.5" cy="293.0" r="3.3" fill="#fff"/>
<circle cx="1803.0" cy="293.0" r="3.3" fill="#fff"/>
<circle cx="1810.5" cy="293.0" r="3.3" fill="#fff"/>
<circle cx="1818.0" cy="293.0" r="3.3" fill="#fff"/>
<circle cx="1825.5" cy="293.0" r="3.3" fill="#fff"/>
<circle cx="1833.0" cy="293.0" r="3.3" fill="#fff"/>
<circle cx="1840.5" cy="293.0" r="3.3" fill="#fff"/>
<circle cx="1848.0" cy="293.0" r="3.3" fill="#fff"/>
<circle cx="1855.5" cy="293.0" r="3.3" fill="#fff"/>
<circle cx="1863.0" cy="293.0" r="3.3" fill="#fff"/>
<circle cx="1870.5" cy="293.0" r="3.3" fill="#fff"/>
<circle cx="1705.5" cy="300.5" r="3.3" fill="#fff"/>
<circle cx="1713.0" cy="300.5" r="3.3" fill="#fff"/>
<circle cx="1720.5" cy="300.5" r="3.3" fill="#fff"/>
<circle cx="1728.0" cy="300.5" r="3.3" fill="#fff"/>
<circle cx="1735.5" cy="300.5" r="3.3" fill="#fff"/>
<circle cx="1743.0" cy="300.5" r="3.3" fill="#fff"/>
<circle cx="1878.0" cy="300.5" r="3.3" fill="#fff"/>
<circle cx="1705.5" cy="323.0" r="3.3" fill="#fff"/>
<circle cx="1705.5" cy="330.5" r="3.3" fill="#fff"/>
<circle cx="1713.0" cy="330.5" r="3.3" fill="#fff"/>
<circle cx="1750.5" cy="330.5" r="3.3" fill="#fff"/>
<circle cx="1758.0" cy="330.5" r="3.3" fill="#fff"/>
<circle cx="1765.5" cy="330.5" r="3.3" fill="#fff"/>
<circle cx="1773.0" cy="330.5" r="3.3" fill="#fff"/>
<circle cx="1780.5" cy="330.5" r="3.3" fill="#fff"/>
<circle cx="1788.0" cy="330.5" r="3.3" fill="#fff"/>
<circle cx="1795.5" cy="330.5" r="3.3" fill="#fff"/>
<circle cx="1803.0" cy="330.5" r="3.3" fill="#fff"/>
<circle cx="1810.5" cy="330.5" r="3.3" fill="#fff"/>
<circle cx="1818.0" cy="330.5" r="3.3" fill="#fff"/>
<circle cx="1825.5" cy="330.5" r="3.3" fill="#fff"/>
<circle cx="1833.0" cy="330.5" r="3.3" fill="#fff"/>
<circle cx="1840.5" cy="330.5" r="3.3" fill="#fff"/>
<circle cx="1848.0" cy="330.5" r="3.3" fill="#fff"/>
<circle cx="1855.5" cy="330.5" r="3.3" fill="#fff"/>
<circle cx="1750.5" cy="338.0" r="3.3" fill="#fff"/>
<circle cx="1758.0" cy="338.0" r="3.3" fill="#fff"/>
<circle cx="1765.5" cy="338.0" r="3.3" fill="#fff"/>
<circle cx="1773.0" cy="338.0" r="3.3" fill="#fff"/>
<circle cx="1780.5" cy="338.0" r="3.3" fill="#fff"/>
<circle cx="1788.0" cy="338.0" r="3.3" fill="#fff"/>
<circle cx="1795.5" cy="338.0" r="3.3" fill="#fff"/>
<circle cx="1863.0" cy="338.0" r="3.3" fill="#fff"/>
<circle cx="1870.5" cy="338.0" r="3.3" fill="#fff"/>
<circle cx="1878.0" cy="338.0" r="3.3" fill="#fff"/>
<circle cx="1803.0" cy="345.5" r="3.3" fill="#fff"/>
<circle cx="1810.5" cy="345.5" r="3.3" fill="#fff"/>
<circle cx="1818.0" cy="345.5" r="3.3" fill="#fff"/>
<circle cx="1825.5" cy="345.5" r="3.3" fill="#fff"/>
<circle cx="1833.0" cy="345.5" r="3.3" fill="#fff"/>
<circle cx="1840.5" cy="353.0" r="3.3" fill="#fff"/>
<circle cx="1848.0" cy="353.0" r="3.3" fill="#fff"/>
<circle cx="1855.5" cy="353.0" r="3.3" fill="#fff"/>
<circle cx="1863.0" cy="353.0" r="3.3" fill="#fff"/>
<circle cx="1870.5" cy="360.5" r="3.3" fill="#fff"/>
<circle cx="1878.0" cy="360.5" r="3.3" fill="#fff"/>
<path d="M1503.0 458.0v-9M1503.0 83.0v9M1549.9 458.0v-9M1549.9 83.0v9M1596.8 458.0v-9M1596.8 83.0v9M1643.6 458.0v-9M1643.6 83.0v9M1690.5 458.0v-9M1690.5 83.0v9M1737.4 458.0v-9M1737.4 83.0v9M1784.2 458.0v-9M1784.2 83.0v9M1831.1 458.0v-9M1831.1 83.0v9M1878.0 458.0v-9M1878.0 83.0v9M1503.0 458.0h9M1878.0 458.0h-9M1503.0 411.1h9M1878.0 411.1h-9M1503.0 364.2h9M1878.0 364.2h-9M1503.0 317.4h9M1878.0 317.4h-9M1503.0 270.5h9M1878.0 270.5h-9M1503.0 223.6h9M1878.0 223.6h-9M1503.0 176.8h9M1878.0 176.8h-9M1503.0 129.9h9M1878.0 129.9h-9M1503.0 83.0h9M1878.0 83.0h-9M1887.0 83.0h6M1906.0 83.0h-6M1887.0 129.9h6M1906.0 129.9h-6M1887.0 176.8h6M1906.0 176.8h-6M1887.0 223.6h6M1906.0 223.6h-6M1887.0 270.5h6M1906.0 270.5h-6M1887.0 317.4h6M1906.0 317.4h-6M1887.0 364.2h6M1906.0 364.2h-6M1887.0 411.1h6M1906.0 411.1h-6M1887.0 458.0h6M1906.0 458.0h-6" stroke="#000" stroke-width="2" fill="none"/>
<rect x="1503.0" y="83.0" width="375.0" height="375.0" stroke="#000" stroke-width="2" fill="none"/>
<rect x="1887.0" y="83.0" width="19.0" height="375.0" stroke="#000" stroke-width="2" fill="none"/>
<text x="1489.9" y="468.65" text-anchor="end" style="font-family:'Liberation Sans',sans-serif;font-size:32px">0</text>
<text x="1489.9" y="421.77" text-anchor="end" style="font-family:'Liberation Sans',sans-serif;font-size:32px">1</text>
<text x="1489.9" y="374.90" text-anchor="end" style="font-family:'Liberation Sans',sans-serif;font-size:32px">2</text>
<text x="1489.9" y="328.02" text-anchor="end" style="font-family:'Liberation Sans',sans-serif;font-size:32px">3</text>
<text x="1489.9" y="281.15" text-anchor="end" style="font-family:'Liberation Sans',sans-serif;font-size:32px">4</text>
<text x="1489.9" y="234.28" text-anchor="end" style="font-family:'Liberation Sans',sans-serif;font-size:32px">5</text>
<text x="1489.9" y="187.40" text-anchor="end" style="font-family:'Liberation Sans',sans-serif;font-size:32px">6</text>
<text x="1489.9" y="140.53" text-anchor="end" style="font-family:'Liberation Sans',sans-serif;font-size:32px">7</text>
<text x="1489.9" y="93.65" text-anchor="end" style="font-family:'Liberation Sans',sans-serif;font-size:32px">8</text>
<text x="1507.3" y="489.1" text-anchor="middle" style="font-family:'Liberation Sans',sans-serif;font-size:32px">0</text>
<text x="1554.2" y="489.1" text-anchor="middle" style="font-family:'Liberation Sans',sans-serif;font-size:32px">2</text>
<text x="1601.0" y="489.1" text-anchor="middle" style="font-family:'Liberation Sans',sans-serif;font-size:32px">4</text>
<text x="1647.9" y="489.1" text-anchor="middle" style="font-family:'Liberation Sans',sans-serif;font-size:32px">6</text>
<text x="1694.8" y="489.1" text-anchor="middle" style="font-family:'Liberation Sans',sans-serif;font-size:32px">8</text>
<text x="1741.7" y="489.1" text-anchor="middle" style="font-family:'Liberation Sans',sans-serif;font-size:32px">10</text>
<text x="1788.5" y="489.1" text-anchor="middle" style="font-family:'Liberation Sans',sans-serif;font-size:32px">12</text>
<text x="1835.4" y="489.1" text-anchor="middle" style="font-family:'Liberation Sans',sans-serif;font-size:32px">14</text>
<text x="1882.3" y="489.1" text-anchor="middle" style="font-family:'Liberation Sans',sans-serif;font-size:32px">16</text>
<text x="1922.6" y="93.65" style="font-family:'Liberation Sans',sans-serif;font-size:32px">0.04</text>
<text x="1922.6" y="140.53" style="font-family:'Liberation Sans',sans-serif;font-size:32px">0.03</text>
<text x="1922.6" y="187.40" style="font-family:'Liberation Sans',sans-serif;font-size:32px">0.02</text>
<text x="1922.6" y="234.28" style="font-family:'Liberation Sans',sans-serif;font-size:32px">0.01</text>
<text x="1922.6" y="281.15" style="font-family:'Liberation Sans',sans-serif;font-size:32px">0</text>
<text x="1914.8" y="328.02" style="font-family:'Liberation Sans',sans-serif;font-size:32px">-0.01</text>
<text x="1914.8" y="374.90" style="font-family:'Liberation Sans',sans-serif;font-size:32px">-0.02</text>
<text x="1914.8" y="421.77" style="font-family:'Liberation Sans',sans-serif;font-size:32px">-0.03</text>
<text x="1914.8" y="468.65" style="font-family:'Liberation Sans',sans-serif;font-size:32px">-0.04</text>
<g transform="translate(-0.37 62.70) scale(1.0239 0.9531)"><text style="font-family:'Liberation Serif',serif;font-size:69px;stroke:#000;stroke-width:0.7px">(a)</text></g>
<g transform="translate(198.80 63.20) scale(1.0110 0.9917)"><text style="font-family:'Liberation Serif',serif;font-size:54px"><tspan font-style="italic">I</tspan> = 2.5 mA</text></g>
<g transform="translate(478.74 52.10) scale(1.1304 0.9676)"><text style="font-family:'Liberation Serif',serif;font-size:53px">λ</text></g>
<g transform="translate(519.93 51.85) scale(1.0328 0.9957)"><text style="font-family:'Liberation Serif',serif;font-size:53px">(ns</text></g>
<g transform="translate(587.10 35.20) scale(0.9043 0.9286)"><text style="font-family:'Liberation Serif',serif;font-size:31px">-1</text></g>
<g transform="translate(613.30 51.85) scale(1.0000 0.9957)"><text style="font-family:'Liberation Serif',serif;font-size:53px">)</text></g>
<g transform="translate(74.63 280.44) scale(0.9936 0.9850)"><text transform="rotate(-90) scale(0.79 1.086)" style="font-family:IPAGothic,serif;font-size:50px">ζ</text></g>
<g transform="translate(248.85 529.10) scale(1.0727 0.9351)"><text style="font-family:'Liberation Serif',serif;font-style:italic;font-size:52px">h</text></g>
<g transform="translate(276.20 547.00) scale(1.1538 0.8733)"><text style="font-family:'Liberation Serif',serif;font-style:italic;font-size:31px">x</text></g>
<g transform="translate(304.95 529.80) scale(1.0258 1.0000)"><text style="font-family:'Liberation Serif',serif;font-size:53px">(Oe)</text></g>
<g transform="translate(684.86 68.44) scale(1.0147 0.9437)"><text style="font-family:'Liberation Serif',serif;font-size:69px;stroke:#000;stroke-width:0.7px">(b)</text></g>
<g transform="translate(898.20 64.20) scale(1.0105 0.9833)"><text style="font-family:'Liberation Serif',serif;font-size:54px"><tspan font-style="italic">I</tspan> = 4.0 mA</text></g>
<g transform="translate(1178.05 49.00) scale(1.1261 0.9676)"><text style="font-family:'Liberation Serif',serif;font-size:53px">λ</text></g>
<g transform="translate(1219.23 48.82) scale(1.0328 0.9894)"><text style="font-family:'Liberation Serif',serif;font-size:53px">(ns</text></g>
<g transform="translate(1286.60 32.00) scale(0.9000 0.9571)"><text style="font-family:'Liberation Serif',serif;font-size:31px">-1</text></g>
<g transform="translate(1312.70 48.82) scale(1.0000 0.9894)"><text style="font-family:'Liberation Serif',serif;font-size:53px">)</text></g>
<g transform="translate(779.82 277.06) scale(0.9957 1.0050)"><text transform="rotate(-90) scale(0.79 1.086)" style="font-family:IPAGothic,serif;font-size:50px">ζ</text></g>
<g transform="translate(946.84 530.90) scale(1.1318 0.9459)"><text style="font-family:'Liberation Serif',serif;font-style:italic;font-size:52px">h</text></g>
<g transform="translate(974.20 547.70) scale(1.1538 0.8733)"><text style="font-family:'Liberation Serif',serif;font-style:italic;font-size:31px">x</text></g>
<g transform="translate(1002.95 530.96) scale(1.0247 0.9851)"><text style="font-family:'Liberation Serif',serif;font-size:53px">(Oe)</text></g>
<g transform="translate(1382.38 62.75) scale(1.0408 0.9500)"><text style="font-family:'Liberation Serif',serif;font-size:69px;stroke:#000;stroke-width:0.7px">(c)</text></g>
<g transform="translate(1580.90 60.20) scale(1.0118 0.9528)"><text style="font-family:'Liberation Serif',serif;font-size:54px"><tspan font-style="italic">I</tspan> = 5.0 mA</text></g>
<g transform="translate(1855.95 44.90) scale(1.1261 0.9622)"><text style="font-family:'Liberation Serif',serif;font-size:53px">λ</text></g>
<g transform="translate(1896.92 44.79) scale(1.0377 1.0011)"><text style="font-family:'Liberation Serif',serif;font-size:53px">(ns</text></g>
<g transform="translate(1964.61 28.00) scale(0.8913 0.9714)"><text style="font-family:'Liberation Serif',serif;font-size:31px">-1</text></g>
<g transform="translate(1990.80 44.79) scale(1.0000 1.0011)"><text style="font-family:'Liberation Serif',serif;font-size:53px">)</text></g>
<g transform="translate(1456.04 276.59) scale(0.9915 0.9900)"><text transform="rotate(-90) scale(0.79 1.086)" style="font-family:IPAGothic,serif;font-size:50px">ζ</text></g>
<g transform="translate(1634.78 530.90) scale(1.1091 0.9568)"><text style="font-family:'Liberation Serif',serif;font-style:italic;font-size:52px">h</text></g>
<g transform="translate(1661.80 547.70) scale(1.1692 0.8933)"><text style="font-family:'Liberation Serif',serif;font-style:italic;font-size:31px">x</text></g>
<g transform="translate(1690.64 530.89) scale(1.0280 0.9915)"><text style="font-family:'Liberation Serif',serif;font-size:53px">(Oe)</text></g>
</svg></body></html>
